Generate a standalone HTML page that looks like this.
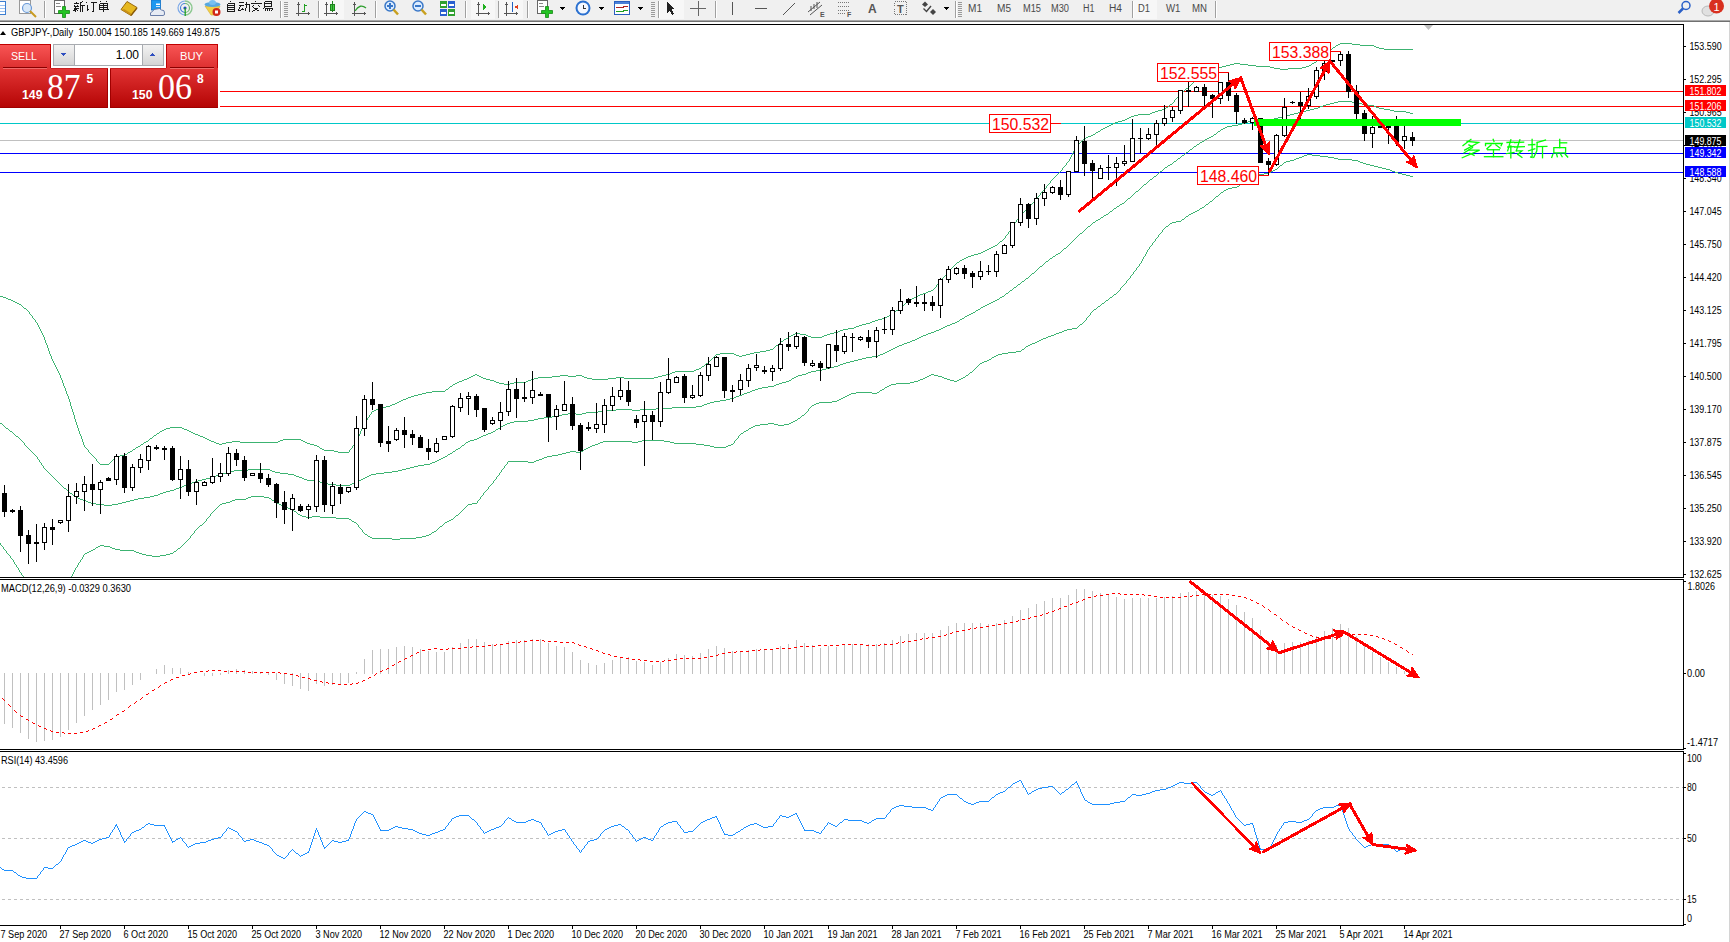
<!DOCTYPE html>
<html><head><meta charset="utf-8"><style>
html,body{margin:0;padding:0;background:#fff;width:1730px;height:942px;overflow:hidden}
</style></head><body>
<svg width="1730" height="942" viewBox="0 0 1730 942" shape-rendering="crispEdges" style="display:block"><rect x="0" y="0" width="1730" height="942" fill="#ffffff"/><defs><clipPath id="cmain"><rect x="0" y="25" width="1683" height="552"/></clipPath><clipPath id="cmacd"><rect x="0" y="580" width="1683" height="169"/></clipPath><clipPath id="crsi"><rect x="0" y="752" width="1683" height="173"/></clipPath></defs><rect x="0" y="91" width="1683" height="1" fill="#ff0000"/><rect x="0" y="106" width="1683" height="1" fill="#ff0000"/><rect x="0" y="123" width="1683" height="1" fill="#00c8c8"/><rect x="0" y="140" width="1683" height="1" fill="#c0c0c0"/><rect x="0" y="153" width="1683" height="1" fill="#0000ff"/><rect x="0" y="172" width="1683" height="1" fill="#0000ff"/><g clip-path="url(#cmain)"><path d="M1340 43h12v1h-12zM1338 44h2v1h-2zM1352 44h8v1h-8zM1336 45h2v1h-2zM1360 45h14v1h-14zM1335 46h1v1h-1zM1374 46h2v1h-2zM1333 47h2v1h-2zM1376 47h3v1h-3zM1332 48h1v1h-1zM1379 48h5v1h-5zM1330 49h2v1h-2zM1384 49h29v1h-29zM1329 50h1v1h-1zM1328 51h1v1h-1zM1326 52h2v1h-2zM1325 53h1v1h-1zM1324 54h1v1h-1zM1323 55h1v1h-1zM1322 56h1v1h-1zM1320 57h2v1h-2zM1319 58h1v1h-1zM1318 59h1v1h-1zM1317 60h1v1h-1zM1316 61h1v1h-1zM1314 62h2v1h-2zM1234 63h6v1h-6zM1312 63h2v1h-2zM1230 64h4v1h-4zM1240 64h8v1h-8zM1311 64h1v1h-1zM1226 65h4v1h-4zM1248 65h8v1h-8zM1309 65h2v1h-2zM1222 66h4v1h-4zM1256 66h14v1h-14zM1306 66h3v1h-3zM1219 67h3v1h-3zM1270 67h4v1h-4zM1302 67h4v1h-4zM1217 68h2v1h-2zM1274 68h6v1h-6zM1288 68h14v1h-14zM1215 69h2v1h-2zM1280 69h8v1h-8zM1213 70h2v1h-2zM1211 71h2v1h-2zM1209 72h2v1h-2zM1207 73h2v1h-2zM1205 74h2v1h-2zM1203 75h2v1h-2zM1201 76h2v1h-2zM1199 77h2v1h-2zM1197 78h2v1h-2zM1196 79h1v1h-1zM1195 80h1v1h-1zM1194 81h1v1h-1zM1193 82h1v1h-1zM1192 83h1v1h-1zM1191 84h1v1h-1zM1190 85h1v1h-1zM1189 86h1v1h-1zM1188 87h1v1h-1zM1186 88h2v1h-2zM1185 89h1v1h-1zM1184 90h1v1h-1zM1182 91h2v1h-2zM1181 92h1v1h-1zM1180 93h1v1h-1zM1179 94h1v1h-1zM1178 95h1v1h-1zM1178 96h1v1h-1zM1177 97h1v1h-1zM1176 98h1v1h-1zM1175 99h1v1h-1zM1174 100h1v1h-1zM1174 101h1v1h-1zM1173 102h1v1h-1zM1172 103h1v1h-1zM1170 104h2v1h-2zM1169 105h1v1h-1zM1168 106h1v1h-1zM1166 107h2v1h-2zM1165 108h1v1h-1zM1162 109h3v1h-3zM1158 110h4v1h-4zM1155 111h3v1h-3zM1152 112h3v1h-3zM1150 113h2v1h-2zM1138 114h12v1h-12zM1134 115h4v1h-4zM1131 116h3v1h-3zM1129 117h2v1h-2zM1127 118h2v1h-2zM1125 119h2v1h-2zM1122 120h3v1h-3zM1118 121h4v1h-4zM1115 122h3v1h-3zM1113 123h2v1h-2zM1111 124h2v1h-2zM1109 125h2v1h-2zM1107 126h2v1h-2zM1105 127h2v1h-2zM1103 128h2v1h-2zM1101 129h2v1h-2zM1100 130h1v1h-1zM1098 131h2v1h-2zM1096 132h2v1h-2zM1095 133h1v1h-1zM1093 134h2v1h-2zM1091 135h2v1h-2zM1088 136h3v1h-3zM1086 137h2v1h-2zM1084 138h2v1h-2zM1083 139h1v1h-1zM1082 140h1v1h-1zM1081 141h1v1h-1zM1080 142h1v1h-1zM1079 143h1v1h-1zM1078 144h1v1h-1zM1077 145h1v1h-1zM1076 146h1v1h-1zM1075 147h1v1h-1zM1075 148h1v1h-1zM1074 149h1v1h-1zM1074 150h1v1h-1zM1073 151h1v1h-1zM1073 152h1v1h-1zM1072 153h1v1h-1zM1072 154h1v1h-1zM1071 155h1v1h-1zM1071 156h1v1h-1zM1070 157h1v1h-1zM1070 158h1v1h-1zM1069 159h1v1h-1zM1069 160h1v1h-1zM1068 161h1v1h-1zM1067 162h1v1h-1zM1066 163h1v1h-1zM1066 164h1v1h-1zM1065 165h1v1h-1zM1064 166h1v1h-1zM1063 167h1v1h-1zM1062 168h1v1h-1zM1062 169h1v1h-1zM1061 170h1v1h-1zM1060 171h1v1h-1zM1059 172h1v1h-1zM1058 173h1v1h-1zM1057 174h1v1h-1zM1056 175h1v1h-1zM1055 176h1v1h-1zM1054 177h1v1h-1zM1053 178h1v1h-1zM1052 179h1v1h-1zM1051 180h1v1h-1zM1050 181h1v1h-1zM1050 182h1v1h-1zM1049 183h1v1h-1zM1048 184h1v1h-1zM1047 185h1v1h-1zM1046 186h1v1h-1zM1046 187h1v1h-1zM1045 188h1v1h-1zM1044 189h1v1h-1zM1043 190h1v1h-1zM1042 191h1v1h-1zM1041 192h1v1h-1zM1040 193h1v1h-1zM1040 194h1v1h-1zM1039 195h1v1h-1zM1038 196h1v1h-1zM1037 197h1v1h-1zM1036 198h1v1h-1zM1035 199h1v1h-1zM1034 200h1v1h-1zM1034 201h1v1h-1zM1033 202h1v1h-1zM1032 203h1v1h-1zM1031 204h1v1h-1zM1030 205h1v1h-1zM1030 206h1v1h-1zM1029 207h1v1h-1zM1028 208h1v1h-1zM1026 209h2v1h-2zM1025 210h1v1h-1zM1024 211h1v1h-1zM1022 212h2v1h-2zM1021 213h1v1h-1zM1020 214h1v1h-1zM1019 215h1v1h-1zM1019 216h1v1h-1zM1018 217h1v1h-1zM1018 218h1v1h-1zM1017 219h1v1h-1zM1016 220h1v1h-1zM1016 221h1v1h-1zM1015 222h1v1h-1zM1014 223h1v1h-1zM1014 224h1v1h-1zM1013 225h1v1h-1zM1013 226h1v1h-1zM1012 227h1v1h-1zM1011 228h1v1h-1zM1011 229h1v1h-1zM1010 230h1v1h-1zM1009 231h1v1h-1zM1008 232h1v1h-1zM1008 233h1v1h-1zM1007 234h1v1h-1zM1006 235h1v1h-1zM1005 236h1v1h-1zM1005 237h1v1h-1zM1004 238h1v1h-1zM1003 239h1v1h-1zM1002 240h1v1h-1zM1000 241h2v1h-2zM999 242h1v1h-1zM998 243h1v1h-1zM997 244h1v1h-1zM995 245h2v1h-2zM993 246h2v1h-2zM991 247h2v1h-2zM989 248h2v1h-2zM987 249h2v1h-2zM985 250h2v1h-2zM983 251h2v1h-2zM981 252h2v1h-2zM978 253h3v1h-3zM974 254h4v1h-4zM971 255h3v1h-3zM968 256h3v1h-3zM966 257h2v1h-2zM964 258h2v1h-2zM962 259h2v1h-2zM960 260h2v1h-2zM959 261h1v1h-1zM957 262h2v1h-2zM956 263h1v1h-1zM955 264h1v1h-1zM954 265h1v1h-1zM953 266h1v1h-1zM952 267h1v1h-1zM951 268h1v1h-1zM950 269h1v1h-1zM949 270h1v1h-1zM948 271h1v1h-1zM947 272h1v1h-1zM946 273h1v1h-1zM946 274h1v1h-1zM945 275h1v1h-1zM944 276h1v1h-1zM943 277h1v1h-1zM942 278h1v1h-1zM942 279h1v1h-1zM941 280h1v1h-1zM940 281h1v1h-1zM939 282h1v1h-1zM938 283h1v1h-1zM937 284h1v1h-1zM936 285h1v1h-1zM936 286h1v1h-1zM935 287h1v1h-1zM934 288h1v1h-1zM933 289h1v1h-1zM931 290h2v1h-2zM928 291h3v1h-3zM926 292h2v1h-2zM923 293h3v1h-3zM920 294h3v1h-3zM918 295h2v1h-2zM0 296h3v1h-3zM916 296h2v1h-2zM3 297h3v1h-3zM914 297h2v1h-2zM6 298h2v1h-2zM912 298h2v1h-2zM8 299h3v1h-3zM911 299h1v1h-1zM11 300h2v1h-2zM909 300h2v1h-2zM13 301h2v1h-2zM908 301h1v1h-1zM15 302h2v1h-2zM906 302h2v1h-2zM17 303h2v1h-2zM905 303h1v1h-1zM19 304h2v1h-2zM904 304h1v1h-1zM21 305h1v1h-1zM902 305h2v1h-2zM22 306h1v1h-1zM901 306h1v1h-1zM23 307h1v1h-1zM900 307h1v1h-1zM24 308h2v1h-2zM899 308h1v1h-1zM26 309h1v1h-1zM898 309h1v1h-1zM27 310h1v1h-1zM896 310h2v1h-2zM28 311h1v1h-1zM895 311h1v1h-1zM29 312h1v1h-1zM894 312h1v1h-1zM29 313h1v1h-1zM893 313h1v1h-1zM30 314h1v1h-1zM891 314h2v1h-2zM31 315h1v1h-1zM889 315h2v1h-2zM32 316h1v1h-1zM887 316h2v1h-2zM32 317h1v1h-1zM885 317h2v1h-2zM33 318h1v1h-1zM882 318h3v1h-3zM34 319h1v1h-1zM878 319h4v1h-4zM35 320h1v1h-1zM875 320h3v1h-3zM35 321h1v1h-1zM872 321h3v1h-3zM36 322h1v1h-1zM870 322h2v1h-2zM37 323h1v1h-1zM866 323h4v1h-4zM37 324h1v1h-1zM862 324h4v1h-4zM38 325h1v1h-1zM859 325h3v1h-3zM38 326h1v1h-1zM856 326h3v1h-3zM39 327h1v1h-1zM854 327h2v1h-2zM39 328h1v1h-1zM848 328h6v1h-6zM40 329h1v1h-1zM843 329h5v1h-5zM40 330h1v1h-1zM840 330h3v1h-3zM41 331h1v1h-1zM838 331h2v1h-2zM41 332h1v1h-1zM834 332h4v1h-4zM42 333h1v1h-1zM795 333h5v1h-5zM830 333h4v1h-4zM42 334h1v1h-1zM793 334h2v1h-2zM800 334h6v1h-6zM827 334h3v1h-3zM43 335h1v1h-1zM791 335h2v1h-2zM806 335h2v1h-2zM824 335h3v1h-3zM43 336h1v1h-1zM789 336h2v1h-2zM808 336h3v1h-3zM822 336h2v1h-2zM44 337h1v1h-1zM788 337h1v1h-1zM811 337h11v1h-11zM44 338h1v1h-1zM786 338h2v1h-2zM44 339h1v1h-1zM784 339h2v1h-2zM45 340h1v1h-1zM783 340h1v1h-1zM45 341h1v1h-1zM781 341h2v1h-2zM45 342h1v1h-1zM780 342h1v1h-1zM46 343h1v1h-1zM779 343h1v1h-1zM46 344h1v1h-1zM778 344h1v1h-1zM47 345h1v1h-1zM776 345h2v1h-2zM47 346h1v1h-1zM775 346h1v1h-1zM47 347h1v1h-1zM774 347h1v1h-1zM48 348h1v1h-1zM773 348h1v1h-1zM48 349h1v1h-1zM770 349h3v1h-3zM48 350h1v1h-1zM766 350h4v1h-4zM49 351h1v1h-1zM760 351h6v1h-6zM49 352h1v1h-1zM754 352h6v1h-6zM49 353h1v1h-1zM720 353h14v1h-14zM750 353h4v1h-4zM50 354h1v1h-1zM716 354h4v1h-4zM734 354h2v1h-2zM746 354h4v1h-4zM50 355h1v1h-1zM715 355h1v1h-1zM736 355h3v1h-3zM742 355h4v1h-4zM51 356h1v1h-1zM714 356h1v1h-1zM739 356h3v1h-3zM51 357h1v1h-1zM713 357h1v1h-1zM51 358h1v1h-1zM712 358h1v1h-1zM52 359h1v1h-1zM711 359h1v1h-1zM52 360h1v1h-1zM710 360h1v1h-1zM53 361h1v1h-1zM709 361h1v1h-1zM53 362h1v1h-1zM708 362h1v1h-1zM54 363h1v1h-1zM706 363h2v1h-2zM54 364h1v1h-1zM705 364h1v1h-1zM55 365h1v1h-1zM704 365h1v1h-1zM55 366h1v1h-1zM702 366h2v1h-2zM56 367h1v1h-1zM701 367h1v1h-1zM56 368h1v1h-1zM699 368h2v1h-2zM57 369h1v1h-1zM696 369h3v1h-3zM57 370h1v1h-1zM694 370h2v1h-2zM58 371h1v1h-1zM675 371h19v1h-19zM58 372h1v1h-1zM672 372h3v1h-3zM59 373h1v1h-1zM670 373h2v1h-2zM59 374h1v1h-1zM475 374h2v1h-2zM666 374h4v1h-4zM60 375h1v1h-1zM473 375h2v1h-2zM477 375h2v1h-2zM560 375h8v1h-8zM576 375h6v1h-6zM662 375h4v1h-4zM60 376h1v1h-1zM471 376h2v1h-2zM479 376h2v1h-2zM552 376h8v1h-8zM568 376h8v1h-8zM582 376h2v1h-2zM658 376h4v1h-4zM60 377h1v1h-1zM469 377h2v1h-2zM481 377h2v1h-2zM538 377h14v1h-14zM584 377h3v1h-3zM616 377h8v1h-8zM654 377h4v1h-4zM61 378h1v1h-1zM467 378h2v1h-2zM483 378h3v1h-3zM534 378h4v1h-4zM587 378h5v1h-5zM608 378h8v1h-8zM624 378h30v1h-30zM61 379h1v1h-1zM464 379h3v1h-3zM486 379h4v1h-4zM531 379h3v1h-3zM592 379h16v1h-16zM62 380h1v1h-1zM462 380h2v1h-2zM490 380h4v1h-4zM528 380h3v1h-3zM62 381h1v1h-1zM459 381h3v1h-3zM494 381h2v1h-2zM526 381h2v1h-2zM62 382h1v1h-1zM457 382h2v1h-2zM496 382h3v1h-3zM514 382h12v1h-12zM63 383h1v1h-1zM455 383h2v1h-2zM499 383h5v1h-5zM510 383h4v1h-4zM63 384h1v1h-1zM453 384h2v1h-2zM504 384h6v1h-6zM63 385h1v1h-1zM452 385h1v1h-1zM64 386h1v1h-1zM450 386h2v1h-2zM64 387h1v1h-1zM449 387h1v1h-1zM65 388h1v1h-1zM448 388h1v1h-1zM65 389h1v1h-1zM446 389h2v1h-2zM65 390h1v1h-1zM445 390h1v1h-1zM66 391h1v1h-1zM432 391h13v1h-13zM66 392h1v1h-1zM426 392h6v1h-6zM66 393h1v1h-1zM422 393h4v1h-4zM67 394h1v1h-1zM418 394h4v1h-4zM67 395h1v1h-1zM414 395h4v1h-4zM68 396h1v1h-1zM411 396h3v1h-3zM68 397h1v1h-1zM408 397h3v1h-3zM68 398h1v1h-1zM406 398h2v1h-2zM69 399h1v1h-1zM403 399h3v1h-3zM69 400h1v1h-1zM401 400h2v1h-2zM69 401h1v1h-1zM399 401h2v1h-2zM70 402h1v1h-1zM397 402h2v1h-2zM70 403h1v1h-1zM395 403h2v1h-2zM70 404h1v1h-1zM392 404h3v1h-3zM70 405h1v1h-1zM390 405h2v1h-2zM71 406h1v1h-1zM386 406h4v1h-4zM71 407h1v1h-1zM382 407h4v1h-4zM71 408h1v1h-1zM379 408h3v1h-3zM72 409h1v1h-1zM376 409h3v1h-3zM72 410h1v1h-1zM374 410h2v1h-2zM72 411h1v1h-1zM372 411h2v1h-2zM73 412h1v1h-1zM371 412h1v1h-1zM73 413h1v1h-1zM371 413h1v1h-1zM73 414h1v1h-1zM370 414h1v1h-1zM74 415h1v1h-1zM369 415h1v1h-1zM74 416h1v1h-1zM369 416h1v1h-1zM74 417h1v1h-1zM368 417h1v1h-1zM74 418h1v1h-1zM367 418h1v1h-1zM75 419h1v1h-1zM367 419h1v1h-1zM75 420h1v1h-1zM366 420h1v1h-1zM75 421h1v1h-1zM365 421h1v1h-1zM76 422h1v1h-1zM365 422h1v1h-1zM76 423h1v1h-1zM364 423h1v1h-1zM76 424h1v1h-1zM364 424h1v1h-1zM77 425h1v1h-1zM363 425h1v1h-1zM77 426h1v1h-1zM363 426h1v1h-1zM77 427h1v1h-1zM170 427h12v1h-12zM362 427h1v1h-1zM78 428h1v1h-1zM166 428h4v1h-4zM182 428h2v1h-2zM362 428h1v1h-1zM78 429h1v1h-1zM164 429h2v1h-2zM184 429h3v1h-3zM361 429h1v1h-1zM78 430h1v1h-1zM162 430h2v1h-2zM187 430h2v1h-2zM361 430h1v1h-1zM79 431h1v1h-1zM160 431h2v1h-2zM189 431h2v1h-2zM360 431h1v1h-1zM79 432h1v1h-1zM159 432h1v1h-1zM191 432h2v1h-2zM360 432h1v1h-1zM79 433h1v1h-1zM157 433h2v1h-2zM193 433h2v1h-2zM360 433h1v1h-1zM80 434h1v1h-1zM156 434h1v1h-1zM195 434h3v1h-3zM359 434h1v1h-1zM80 435h1v1h-1zM154 435h2v1h-2zM198 435h2v1h-2zM359 435h1v1h-1zM81 436h1v1h-1zM153 436h1v1h-1zM200 436h3v1h-3zM358 436h1v1h-1zM81 437h1v1h-1zM152 437h1v1h-1zM203 437h2v1h-2zM358 437h1v1h-1zM81 438h1v1h-1zM150 438h2v1h-2zM205 438h2v1h-2zM357 438h1v1h-1zM82 439h1v1h-1zM149 439h1v1h-1zM207 439h2v1h-2zM283 439h18v1h-18zM357 439h1v1h-1zM82 440h1v1h-1zM148 440h1v1h-1zM209 440h2v1h-2zM280 440h3v1h-3zM301 440h2v1h-2zM356 440h1v1h-1zM82 441h1v1h-1zM146 441h2v1h-2zM211 441h3v1h-3zM232 441h8v1h-8zM278 441h2v1h-2zM303 441h2v1h-2zM356 441h1v1h-1zM83 442h1v1h-1zM144 442h2v1h-2zM214 442h2v1h-2zM226 442h6v1h-6zM240 442h38v1h-38zM305 442h2v1h-2zM355 442h1v1h-1zM83 443h1v1h-1zM143 443h1v1h-1zM216 443h3v1h-3zM222 443h4v1h-4zM307 443h3v1h-3zM355 443h1v1h-1zM83 444h1v1h-1zM141 444h2v1h-2zM219 444h3v1h-3zM310 444h4v1h-4zM354 444h1v1h-1zM84 445h1v1h-1zM140 445h1v1h-1zM314 445h3v1h-3zM353 445h1v1h-1zM84 446h1v1h-1zM138 446h2v1h-2zM317 446h2v1h-2zM352 446h1v1h-1zM85 447h1v1h-1zM136 447h2v1h-2zM319 447h1v1h-1zM352 447h1v1h-1zM86 448h1v1h-1zM135 448h1v1h-1zM320 448h2v1h-2zM351 448h1v1h-1zM87 449h1v1h-1zM133 449h2v1h-2zM322 449h2v1h-2zM350 449h1v1h-1zM88 450h1v1h-1zM132 450h1v1h-1zM324 450h10v1h-10zM349 450h1v1h-1zM88 451h1v1h-1zM130 451h2v1h-2zM334 451h4v1h-4zM349 451h1v1h-1zM89 452h1v1h-1zM128 452h2v1h-2zM338 452h11v1h-11zM90 453h1v1h-1zM127 453h1v1h-1zM91 454h1v1h-1zM125 454h2v1h-2zM92 455h1v1h-1zM120 455h5v1h-5zM93 456h1v1h-1zM116 456h4v1h-4zM94 457h1v1h-1zM115 457h1v1h-1zM95 458h1v1h-1zM114 458h1v1h-1zM96 459h1v1h-1zM113 459h1v1h-1zM96 460h1v1h-1zM112 460h1v1h-1zM97 461h1v1h-1zM111 461h1v1h-1zM98 462h1v1h-1zM110 462h1v1h-1zM99 463h1v1h-1zM109 463h1v1h-1zM100 464h9v1h-9z" fill="#3cb371"/><path d="M1338 101h14v1h-14zM1334 102h4v1h-4zM1352 102h6v1h-6zM1330 103h4v1h-4zM1358 103h4v1h-4zM1326 104h4v1h-4zM1362 104h6v1h-6zM1323 105h3v1h-3zM1368 105h6v1h-6zM1320 106h3v1h-3zM1374 106h2v1h-2zM1318 107h2v1h-2zM1376 107h3v1h-3zM1314 108h4v1h-4zM1379 108h5v1h-5zM1310 109h4v1h-4zM1384 109h6v1h-6zM1306 110h4v1h-4zM1390 110h4v1h-4zM1302 111h4v1h-4zM1394 111h12v1h-12zM1298 112h4v1h-4zM1406 112h4v1h-4zM1294 113h4v1h-4zM1410 113h3v1h-3zM1290 114h4v1h-4zM1286 115h4v1h-4zM1282 116h4v1h-4zM1278 117h4v1h-4zM1274 118h4v1h-4zM1270 119h4v1h-4zM1251 120h19v1h-19zM1248 121h3v1h-3zM1246 122h2v1h-2zM1242 123h4v1h-4zM1238 124h4v1h-4zM1232 125h6v1h-6zM1227 126h5v1h-5zM1225 127h2v1h-2zM1223 128h2v1h-2zM1221 129h2v1h-2zM1220 130h1v1h-1zM1218 131h2v1h-2zM1217 132h1v1h-1zM1216 133h1v1h-1zM1214 134h2v1h-2zM1213 135h1v1h-1zM1211 136h2v1h-2zM1209 137h2v1h-2zM1207 138h2v1h-2zM1205 139h2v1h-2zM1204 140h1v1h-1zM1202 141h2v1h-2zM1200 142h2v1h-2zM1199 143h1v1h-1zM1197 144h2v1h-2zM1196 145h1v1h-1zM1194 146h2v1h-2zM1193 147h1v1h-1zM1192 148h1v1h-1zM1190 149h2v1h-2zM1189 150h1v1h-1zM1188 151h1v1h-1zM1186 152h2v1h-2zM1185 153h1v1h-1zM1184 154h1v1h-1zM1182 155h2v1h-2zM1181 156h1v1h-1zM1180 157h1v1h-1zM1178 158h2v1h-2zM1177 159h1v1h-1zM1176 160h1v1h-1zM1174 161h2v1h-2zM1173 162h1v1h-1zM1172 163h1v1h-1zM1170 164h2v1h-2zM1168 165h2v1h-2zM1167 166h1v1h-1zM1165 167h2v1h-2zM1164 168h1v1h-1zM1163 169h1v1h-1zM1162 170h1v1h-1zM1160 171h2v1h-2zM1159 172h1v1h-1zM1158 173h1v1h-1zM1157 174h1v1h-1zM1156 175h1v1h-1zM1154 176h2v1h-2zM1153 177h1v1h-1zM1152 178h1v1h-1zM1150 179h2v1h-2zM1149 180h1v1h-1zM1148 181h1v1h-1zM1147 182h1v1h-1zM1146 183h1v1h-1zM1144 184h2v1h-2zM1143 185h1v1h-1zM1142 186h1v1h-1zM1141 187h1v1h-1zM1140 188h1v1h-1zM1139 189h1v1h-1zM1138 190h1v1h-1zM1136 191h2v1h-2zM1135 192h1v1h-1zM1134 193h1v1h-1zM1133 194h1v1h-1zM1132 195h1v1h-1zM1131 196h1v1h-1zM1130 197h1v1h-1zM1128 198h2v1h-2zM1127 199h1v1h-1zM1126 200h1v1h-1zM1125 201h1v1h-1zM1124 202h1v1h-1zM1122 203h2v1h-2zM1120 204h2v1h-2zM1119 205h1v1h-1zM1117 206h2v1h-2zM1116 207h1v1h-1zM1114 208h2v1h-2zM1113 209h1v1h-1zM1112 210h1v1h-1zM1110 211h2v1h-2zM1109 212h1v1h-1zM1108 213h1v1h-1zM1106 214h2v1h-2zM1104 215h2v1h-2zM1103 216h1v1h-1zM1101 217h2v1h-2zM1100 218h1v1h-1zM1098 219h2v1h-2zM1096 220h2v1h-2zM1095 221h1v1h-1zM1093 222h2v1h-2zM1092 223h1v1h-1zM1091 224h1v1h-1zM1090 225h1v1h-1zM1088 226h2v1h-2zM1087 227h1v1h-1zM1086 228h1v1h-1zM1085 229h1v1h-1zM1084 230h1v1h-1zM1083 231h1v1h-1zM1082 232h1v1h-1zM1080 233h2v1h-2zM1079 234h1v1h-1zM1078 235h1v1h-1zM1077 236h1v1h-1zM1076 237h1v1h-1zM1075 238h1v1h-1zM1074 239h1v1h-1zM1073 240h1v1h-1zM1072 241h1v1h-1zM1071 242h1v1h-1zM1070 243h1v1h-1zM1069 244h1v1h-1zM1068 245h1v1h-1zM1067 246h1v1h-1zM1066 247h1v1h-1zM1064 248h2v1h-2zM1063 249h1v1h-1zM1062 250h1v1h-1zM1061 251h1v1h-1zM1060 252h1v1h-1zM1058 253h2v1h-2zM1056 254h2v1h-2zM1055 255h1v1h-1zM1053 256h2v1h-2zM1052 257h1v1h-1zM1050 258h2v1h-2zM1049 259h1v1h-1zM1048 260h1v1h-1zM1046 261h2v1h-2zM1045 262h1v1h-1zM1044 263h1v1h-1zM1043 264h1v1h-1zM1042 265h1v1h-1zM1040 266h2v1h-2zM1039 267h1v1h-1zM1038 268h1v1h-1zM1037 269h1v1h-1zM1036 270h1v1h-1zM1035 271h1v1h-1zM1034 272h1v1h-1zM1032 273h2v1h-2zM1031 274h1v1h-1zM1030 275h1v1h-1zM1029 276h1v1h-1zM1028 277h1v1h-1zM1026 278h2v1h-2zM1025 279h1v1h-1zM1024 280h1v1h-1zM1022 281h2v1h-2zM1021 282h1v1h-1zM1020 283h1v1h-1zM1018 284h2v1h-2zM1017 285h1v1h-1zM1016 286h1v1h-1zM1014 287h2v1h-2zM1013 288h1v1h-1zM1012 289h1v1h-1zM1010 290h2v1h-2zM1009 291h1v1h-1zM1008 292h1v1h-1zM1006 293h2v1h-2zM1005 294h1v1h-1zM1004 295h1v1h-1zM1002 296h2v1h-2zM1000 297h2v1h-2zM999 298h1v1h-1zM997 299h2v1h-2zM995 300h2v1h-2zM993 301h2v1h-2zM991 302h2v1h-2zM989 303h2v1h-2zM987 304h2v1h-2zM985 305h2v1h-2zM983 306h2v1h-2zM981 307h2v1h-2zM980 308h1v1h-1zM978 309h2v1h-2zM976 310h2v1h-2zM975 311h1v1h-1zM973 312h2v1h-2zM971 313h2v1h-2zM969 314h2v1h-2zM967 315h2v1h-2zM965 316h2v1h-2zM964 317h1v1h-1zM962 318h2v1h-2zM960 319h2v1h-2zM959 320h1v1h-1zM957 321h2v1h-2zM955 322h2v1h-2zM952 323h3v1h-3zM950 324h2v1h-2zM947 325h3v1h-3zM945 326h2v1h-2zM943 327h2v1h-2zM941 328h2v1h-2zM939 329h2v1h-2zM936 330h3v1h-3zM934 331h2v1h-2zM931 332h3v1h-3zM928 333h3v1h-3zM926 334h2v1h-2zM923 335h3v1h-3zM921 336h2v1h-2zM919 337h2v1h-2zM917 338h2v1h-2zM915 339h2v1h-2zM912 340h3v1h-3zM910 341h2v1h-2zM907 342h3v1h-3zM904 343h3v1h-3zM902 344h2v1h-2zM899 345h3v1h-3zM897 346h2v1h-2zM895 347h2v1h-2zM893 348h2v1h-2zM891 349h2v1h-2zM889 350h2v1h-2zM887 351h2v1h-2zM885 352h2v1h-2zM883 353h2v1h-2zM880 354h3v1h-3zM878 355h2v1h-2zM872 356h6v1h-6zM866 357h6v1h-6zM862 358h4v1h-4zM858 359h4v1h-4zM854 360h4v1h-4zM850 361h4v1h-4zM846 362h4v1h-4zM843 363h3v1h-3zM840 364h3v1h-3zM838 365h2v1h-2zM834 366h4v1h-4zM830 367h4v1h-4zM826 368h4v1h-4zM822 369h4v1h-4zM816 370h6v1h-6zM811 371h5v1h-5zM808 372h3v1h-3zM806 373h2v1h-2zM802 374h4v1h-4zM798 375h4v1h-4zM796 376h2v1h-2zM794 377h2v1h-2zM792 378h2v1h-2zM791 379h1v1h-1zM789 380h2v1h-2zM786 381h3v1h-3zM782 382h4v1h-4zM779 383h3v1h-3zM776 384h3v1h-3zM774 385h2v1h-2zM768 386h6v1h-6zM762 387h6v1h-6zM758 388h4v1h-4zM755 389h3v1h-3zM752 390h3v1h-3zM750 391h2v1h-2zM747 392h3v1h-3zM744 393h3v1h-3zM742 394h2v1h-2zM739 395h3v1h-3zM736 396h3v1h-3zM734 397h2v1h-2zM730 398h4v1h-4zM726 399h4v1h-4zM720 400h6v1h-6zM714 401h6v1h-6zM710 402h4v1h-4zM707 403h3v1h-3zM704 404h3v1h-3zM702 405h2v1h-2zM696 406h6v1h-6zM672 407h24v1h-24zM656 408h16v1h-16zM616 409h16v1h-16zM640 409h16v1h-16zM602 410h14v1h-14zM632 410h8v1h-8zM598 411h4v1h-4zM586 412h12v1h-12zM568 413h8v1h-8zM582 413h4v1h-4zM562 414h6v1h-6zM576 414h6v1h-6zM558 415h4v1h-4zM552 416h6v1h-6zM544 417h8v1h-8zM538 418h6v1h-6zM534 419h4v1h-4zM528 420h6v1h-6zM514 421h14v1h-14zM510 422h4v1h-4zM0 423h2v1h-2zM507 423h3v1h-3zM2 424h1v1h-1zM505 424h2v1h-2zM3 425h1v1h-1zM503 425h2v1h-2zM4 426h1v1h-1zM501 426h2v1h-2zM5 427h1v1h-1zM500 427h1v1h-1zM6 428h2v1h-2zM498 428h2v1h-2zM8 429h1v1h-1zM496 429h2v1h-2zM9 430h1v1h-1zM495 430h1v1h-1zM10 431h2v1h-2zM493 431h2v1h-2zM12 432h1v1h-1zM491 432h2v1h-2zM13 433h1v1h-1zM488 433h3v1h-3zM14 434h1v1h-1zM486 434h2v1h-2zM15 435h1v1h-1zM483 435h3v1h-3zM16 436h2v1h-2zM481 436h2v1h-2zM18 437h1v1h-1zM479 437h2v1h-2zM19 438h1v1h-1zM477 438h2v1h-2zM20 439h1v1h-1zM474 439h3v1h-3zM21 440h1v1h-1zM470 440h4v1h-4zM22 441h1v1h-1zM468 441h2v1h-2zM23 442h1v1h-1zM466 442h2v1h-2zM24 443h1v1h-1zM465 443h1v1h-1zM24 444h1v1h-1zM464 444h1v1h-1zM25 445h1v1h-1zM462 445h2v1h-2zM26 446h1v1h-1zM461 446h1v1h-1zM27 447h1v1h-1zM460 447h1v1h-1zM28 448h1v1h-1zM458 448h2v1h-2zM29 449h1v1h-1zM456 449h2v1h-2zM30 450h1v1h-1zM455 450h1v1h-1zM31 451h1v1h-1zM453 451h2v1h-2zM32 452h1v1h-1zM452 452h1v1h-1zM33 453h1v1h-1zM450 453h2v1h-2zM34 454h1v1h-1zM448 454h2v1h-2zM35 455h1v1h-1zM447 455h1v1h-1zM36 456h1v1h-1zM445 456h2v1h-2zM37 457h1v1h-1zM443 457h2v1h-2zM37 458h1v1h-1zM441 458h2v1h-2zM38 459h1v1h-1zM439 459h2v1h-2zM39 460h1v1h-1zM437 460h2v1h-2zM39 461h1v1h-1zM435 461h2v1h-2zM40 462h1v1h-1zM432 462h3v1h-3zM41 463h1v1h-1zM430 463h2v1h-2zM41 464h1v1h-1zM424 464h6v1h-6zM42 465h1v1h-1zM418 465h6v1h-6zM43 466h1v1h-1zM414 466h4v1h-4zM43 467h1v1h-1zM410 467h4v1h-4zM44 468h1v1h-1zM406 468h4v1h-4zM45 469h1v1h-1zM248 469h22v1h-22zM402 469h4v1h-4zM46 470h1v1h-1zM234 470h14v1h-14zM270 470h2v1h-2zM398 470h4v1h-4zM47 471h1v1h-1zM230 471h4v1h-4zM272 471h3v1h-3zM392 471h6v1h-6zM48 472h1v1h-1zM226 472h4v1h-4zM275 472h5v1h-5zM384 472h8v1h-8zM49 473h1v1h-1zM222 473h4v1h-4zM280 473h8v1h-8zM376 473h8v1h-8zM50 474h1v1h-1zM219 474h3v1h-3zM288 474h6v1h-6zM371 474h5v1h-5zM51 475h1v1h-1zM216 475h3v1h-3zM294 475h2v1h-2zM369 475h2v1h-2zM52 476h1v1h-1zM214 476h2v1h-2zM296 476h3v1h-3zM367 476h2v1h-2zM53 477h1v1h-1zM210 477h4v1h-4zM299 477h3v1h-3zM365 477h2v1h-2zM54 478h1v1h-1zM206 478h4v1h-4zM302 478h2v1h-2zM363 478h2v1h-2zM55 479h1v1h-1zM202 479h4v1h-4zM304 479h3v1h-3zM361 479h2v1h-2zM56 480h1v1h-1zM198 480h4v1h-4zM307 480h11v1h-11zM359 480h2v1h-2zM57 481h1v1h-1zM195 481h3v1h-3zM318 481h2v1h-2zM357 481h2v1h-2zM58 482h1v1h-1zM192 482h3v1h-3zM320 482h3v1h-3zM355 482h2v1h-2zM59 483h1v1h-1zM190 483h2v1h-2zM323 483h5v1h-5zM352 483h3v1h-3zM60 484h1v1h-1zM187 484h3v1h-3zM328 484h8v1h-8zM350 484h2v1h-2zM61 485h1v1h-1zM184 485h3v1h-3zM336 485h14v1h-14zM62 486h1v1h-1zM182 486h2v1h-2zM63 487h1v1h-1zM179 487h3v1h-3zM64 488h2v1h-2zM176 488h3v1h-3zM66 489h1v1h-1zM174 489h2v1h-2zM67 490h1v1h-1zM170 490h4v1h-4zM68 491h1v1h-1zM166 491h4v1h-4zM69 492h1v1h-1zM163 492h3v1h-3zM70 493h2v1h-2zM160 493h3v1h-3zM72 494h1v1h-1zM158 494h2v1h-2zM73 495h1v1h-1zM154 495h4v1h-4zM74 496h2v1h-2zM150 496h4v1h-4zM76 497h2v1h-2zM144 497h6v1h-6zM78 498h2v1h-2zM138 498h6v1h-6zM80 499h3v1h-3zM134 499h4v1h-4zM83 500h3v1h-3zM130 500h4v1h-4zM86 501h2v1h-2zM126 501h4v1h-4zM88 502h3v1h-3zM122 502h4v1h-4zM91 503h5v1h-5zM118 503h4v1h-4zM96 504h8v1h-8zM112 504h6v1h-6zM104 505h8v1h-8z" fill="#3cb371"/><path d="M1307 154h5v1h-5zM1304 155h3v1h-3zM1312 155h8v1h-8zM1302 156h2v1h-2zM1320 156h8v1h-8zM1299 157h3v1h-3zM1328 157h6v1h-6zM1296 158h3v1h-3zM1334 158h4v1h-4zM1294 159h2v1h-2zM1338 159h14v1h-14zM1290 160h4v1h-4zM1352 160h6v1h-6zM1286 161h4v1h-4zM1358 161h2v1h-2zM1284 162h2v1h-2zM1360 162h3v1h-3zM1283 163h1v1h-1zM1363 163h3v1h-3zM1282 164h1v1h-1zM1366 164h4v1h-4zM1280 165h2v1h-2zM1370 165h4v1h-4zM1279 166h1v1h-1zM1374 166h4v1h-4zM1278 167h1v1h-1zM1378 167h4v1h-4zM1277 168h1v1h-1zM1382 168h4v1h-4zM1275 169h2v1h-2zM1386 169h4v1h-4zM1273 170h2v1h-2zM1390 170h2v1h-2zM1271 171h2v1h-2zM1392 171h3v1h-3zM1269 172h2v1h-2zM1395 172h3v1h-3zM1264 173h5v1h-5zM1398 173h4v1h-4zM1256 174h8v1h-8zM1402 174h4v1h-4zM1252 175h4v1h-4zM1406 175h4v1h-4zM1251 176h1v1h-1zM1410 176h3v1h-3zM1250 177h1v1h-1zM1248 178h2v1h-2zM1247 179h1v1h-1zM1246 180h1v1h-1zM1245 181h1v1h-1zM1244 182h1v1h-1zM1242 183h2v1h-2zM1240 184h2v1h-2zM1239 185h1v1h-1zM1237 186h2v1h-2zM1232 187h5v1h-5zM1228 188h4v1h-4zM1226 189h2v1h-2zM1224 190h2v1h-2zM1223 191h1v1h-1zM1221 192h2v1h-2zM1220 193h1v1h-1zM1219 194h1v1h-1zM1218 195h1v1h-1zM1216 196h2v1h-2zM1215 197h1v1h-1zM1214 198h1v1h-1zM1213 199h1v1h-1zM1212 200h1v1h-1zM1210 201h2v1h-2zM1209 202h1v1h-1zM1208 203h1v1h-1zM1206 204h2v1h-2zM1205 205h1v1h-1zM1204 206h1v1h-1zM1202 207h2v1h-2zM1200 208h2v1h-2zM1199 209h1v1h-1zM1197 210h2v1h-2zM1195 211h2v1h-2zM1193 212h2v1h-2zM1191 213h2v1h-2zM1189 214h2v1h-2zM1188 215h1v1h-1zM1186 216h2v1h-2zM1185 217h1v1h-1zM1184 218h1v1h-1zM1182 219h2v1h-2zM1181 220h1v1h-1zM1176 221h5v1h-5zM1172 222h4v1h-4zM1170 223h2v1h-2zM1169 224h1v1h-1zM1168 225h1v1h-1zM1166 226h2v1h-2zM1165 227h1v1h-1zM1164 228h1v1h-1zM1163 229h1v1h-1zM1162 230h1v1h-1zM1162 231h1v1h-1zM1161 232h1v1h-1zM1160 233h1v1h-1zM1159 234h1v1h-1zM1158 235h1v1h-1zM1158 236h1v1h-1zM1157 237h1v1h-1zM1156 238h1v1h-1zM1155 239h1v1h-1zM1155 240h1v1h-1zM1154 241h1v1h-1zM1153 242h1v1h-1zM1152 243h1v1h-1zM1152 244h1v1h-1zM1151 245h1v1h-1zM1150 246h1v1h-1zM1149 247h1v1h-1zM1149 248h1v1h-1zM1148 249h1v1h-1zM1147 250h1v1h-1zM1147 251h1v1h-1zM1146 252h1v1h-1zM1146 253h1v1h-1zM1145 254h1v1h-1zM1145 255h1v1h-1zM1144 256h1v1h-1zM1143 257h1v1h-1zM1143 258h1v1h-1zM1142 259h1v1h-1zM1142 260h1v1h-1zM1141 261h1v1h-1zM1141 262h1v1h-1zM1140 263h1v1h-1zM1139 264h1v1h-1zM1139 265h1v1h-1zM1138 266h1v1h-1zM1137 267h1v1h-1zM1136 268h1v1h-1zM1136 269h1v1h-1zM1135 270h1v1h-1zM1134 271h1v1h-1zM1133 272h1v1h-1zM1133 273h1v1h-1zM1132 274h1v1h-1zM1131 275h1v1h-1zM1130 276h1v1h-1zM1130 277h1v1h-1zM1129 278h1v1h-1zM1128 279h1v1h-1zM1127 280h1v1h-1zM1126 281h1v1h-1zM1126 282h1v1h-1zM1125 283h1v1h-1zM1124 284h1v1h-1zM1123 285h1v1h-1zM1122 286h1v1h-1zM1121 287h1v1h-1zM1120 288h1v1h-1zM1120 289h1v1h-1zM1119 290h1v1h-1zM1118 291h1v1h-1zM1117 292h1v1h-1zM1116 293h1v1h-1zM1114 294h2v1h-2zM1113 295h1v1h-1zM1112 296h1v1h-1zM1110 297h2v1h-2zM1109 298h1v1h-1zM1108 299h1v1h-1zM1106 300h2v1h-2zM1105 301h1v1h-1zM1104 302h1v1h-1zM1102 303h2v1h-2zM1101 304h1v1h-1zM1100 305h1v1h-1zM1098 306h2v1h-2zM1097 307h1v1h-1zM1096 308h1v1h-1zM1094 309h2v1h-2zM1093 310h1v1h-1zM1092 311h1v1h-1zM1091 312h1v1h-1zM1090 313h1v1h-1zM1090 314h1v1h-1zM1089 315h1v1h-1zM1088 316h1v1h-1zM1087 317h1v1h-1zM1086 318h1v1h-1zM1086 319h1v1h-1zM1085 320h1v1h-1zM1084 321h1v1h-1zM1083 322h1v1h-1zM1082 323h1v1h-1zM1080 324h2v1h-2zM1079 325h1v1h-1zM1078 326h1v1h-1zM1077 327h1v1h-1zM1072 328h5v1h-5zM1067 329h5v1h-5zM1064 330h3v1h-3zM1062 331h2v1h-2zM1059 332h3v1h-3zM1056 333h3v1h-3zM1054 334h2v1h-2zM1051 335h3v1h-3zM1048 336h3v1h-3zM1046 337h2v1h-2zM1043 338h3v1h-3zM1041 339h2v1h-2zM1039 340h2v1h-2zM1037 341h2v1h-2zM1035 342h2v1h-2zM1032 343h3v1h-3zM1030 344h2v1h-2zM1028 345h2v1h-2zM1026 346h2v1h-2zM1025 347h1v1h-1zM1024 348h1v1h-1zM1022 349h2v1h-2zM1021 350h1v1h-1zM1016 351h5v1h-5zM1008 352h8v1h-8zM1002 353h6v1h-6zM998 354h4v1h-4zM996 355h2v1h-2zM994 356h2v1h-2zM992 357h2v1h-2zM991 358h1v1h-1zM989 359h2v1h-2zM987 360h2v1h-2zM984 361h3v1h-3zM982 362h2v1h-2zM980 363h2v1h-2zM979 364h1v1h-1zM978 365h1v1h-1zM977 366h1v1h-1zM976 367h1v1h-1zM975 368h1v1h-1zM974 369h1v1h-1zM973 370h1v1h-1zM972 371h1v1h-1zM970 372h2v1h-2zM969 373h1v1h-1zM931 374h3v1h-3zM968 374h1v1h-1zM929 375h2v1h-2zM934 375h4v1h-4zM966 375h2v1h-2zM927 376h2v1h-2zM938 376h4v1h-4zM965 376h1v1h-1zM925 377h2v1h-2zM942 377h2v1h-2zM963 377h2v1h-2zM923 378h2v1h-2zM944 378h3v1h-3zM961 378h2v1h-2zM920 379h3v1h-3zM947 379h3v1h-3zM959 379h2v1h-2zM918 380h2v1h-2zM950 380h4v1h-4zM957 380h2v1h-2zM914 381h4v1h-4zM954 381h3v1h-3zM910 382h4v1h-4zM896 383h14v1h-14zM891 384h5v1h-5zM889 385h2v1h-2zM887 386h2v1h-2zM885 387h2v1h-2zM884 388h1v1h-1zM882 389h2v1h-2zM880 390h2v1h-2zM879 391h1v1h-1zM856 392h16v1h-16zM877 392h2v1h-2zM851 393h5v1h-5zM872 393h5v1h-5zM849 394h2v1h-2zM847 395h2v1h-2zM845 396h2v1h-2zM843 397h2v1h-2zM841 398h2v1h-2zM839 399h2v1h-2zM837 400h2v1h-2zM832 401h5v1h-5zM819 402h13v1h-13zM816 403h3v1h-3zM814 404h2v1h-2zM812 405h2v1h-2zM811 406h1v1h-1zM810 407h1v1h-1zM809 408h1v1h-1zM808 409h1v1h-1zM808 410h1v1h-1zM807 411h1v1h-1zM806 412h1v1h-1zM805 413h1v1h-1zM804 414h1v1h-1zM802 415h2v1h-2zM801 416h1v1h-1zM800 417h1v1h-1zM798 418h2v1h-2zM797 419h1v1h-1zM795 420h2v1h-2zM793 421h2v1h-2zM791 422h2v1h-2zM768 423h6v1h-6zM789 423h2v1h-2zM760 424h8v1h-8zM774 424h4v1h-4zM784 424h5v1h-5zM755 425h5v1h-5zM778 425h6v1h-6zM753 426h2v1h-2zM751 427h2v1h-2zM749 428h2v1h-2zM748 429h1v1h-1zM746 430h2v1h-2zM744 431h2v1h-2zM743 432h1v1h-1zM741 433h2v1h-2zM740 434h1v1h-1zM739 435h1v1h-1zM738 436h1v1h-1zM738 437h1v1h-1zM737 438h1v1h-1zM736 439h1v1h-1zM642 440h22v1h-22zM735 440h1v1h-1zM603 441h29v1h-29zM638 441h4v1h-4zM664 441h6v1h-6zM734 441h1v1h-1zM600 442h3v1h-3zM632 442h6v1h-6zM670 442h4v1h-4zM734 442h1v1h-1zM598 443h2v1h-2zM674 443h22v1h-22zM733 443h1v1h-1zM595 444h3v1h-3zM696 444h8v1h-8zM731 444h2v1h-2zM592 445h3v1h-3zM704 445h6v1h-6zM728 445h3v1h-3zM590 446h2v1h-2zM710 446h4v1h-4zM726 446h2v1h-2zM588 447h2v1h-2zM714 447h12v1h-12zM586 448h2v1h-2zM584 449h2v1h-2zM583 450h1v1h-1zM570 451h6v1h-6zM581 451h2v1h-2zM566 452h4v1h-4zM576 452h5v1h-5zM562 453h4v1h-4zM558 454h4v1h-4zM552 455h6v1h-6zM547 456h5v1h-5zM544 457h3v1h-3zM542 458h2v1h-2zM539 459h3v1h-3zM536 460h3v1h-3zM508 461h20v1h-20zM534 461h2v1h-2zM507 462h1v1h-1zM528 462h6v1h-6zM507 463h1v1h-1zM506 464h1v1h-1zM505 465h1v1h-1zM504 466h1v1h-1zM504 467h1v1h-1zM503 468h1v1h-1zM502 469h1v1h-1zM501 470h1v1h-1zM501 471h1v1h-1zM500 472h1v1h-1zM499 473h1v1h-1zM499 474h1v1h-1zM498 475h1v1h-1zM497 476h1v1h-1zM496 477h1v1h-1zM496 478h1v1h-1zM495 479h1v1h-1zM494 480h1v1h-1zM493 481h1v1h-1zM493 482h1v1h-1zM492 483h1v1h-1zM491 484h1v1h-1zM490 485h1v1h-1zM489 486h1v1h-1zM488 487h1v1h-1zM488 488h1v1h-1zM487 489h1v1h-1zM486 490h1v1h-1zM485 491h1v1h-1zM484 492h1v1h-1zM483 493h1v1h-1zM483 494h1v1h-1zM482 495h1v1h-1zM251 496h13v1h-13zM481 496h1v1h-1zM248 497h3v1h-3zM264 497h5v1h-5zM480 497h1v1h-1zM246 498h2v1h-2zM269 498h2v1h-2zM480 498h1v1h-1zM235 499h11v1h-11zM271 499h1v1h-1zM479 499h1v1h-1zM232 500h3v1h-3zM272 500h2v1h-2zM478 500h1v1h-1zM230 501h2v1h-2zM274 501h2v1h-2zM477 501h1v1h-1zM226 502h4v1h-4zM276 502h1v1h-1zM477 502h1v1h-1zM222 503h4v1h-4zM277 503h2v1h-2zM472 503h5v1h-5zM220 504h2v1h-2zM279 504h2v1h-2zM468 504h4v1h-4zM219 505h1v1h-1zM281 505h2v1h-2zM467 505h1v1h-1zM218 506h1v1h-1zM283 506h3v1h-3zM466 506h1v1h-1zM217 507h1v1h-1zM286 507h2v1h-2zM465 507h1v1h-1zM216 508h1v1h-1zM288 508h3v1h-3zM464 508h1v1h-1zM215 509h1v1h-1zM291 509h2v1h-2zM463 509h1v1h-1zM214 510h1v1h-1zM293 510h1v1h-1zM462 510h1v1h-1zM213 511h1v1h-1zM294 511h2v1h-2zM461 511h1v1h-1zM212 512h1v1h-1zM296 512h1v1h-1zM460 512h1v1h-1zM211 513h1v1h-1zM297 513h1v1h-1zM459 513h1v1h-1zM210 514h1v1h-1zM298 514h2v1h-2zM458 514h1v1h-1zM210 515h1v1h-1zM300 515h2v1h-2zM456 515h2v1h-2zM209 516h1v1h-1zM302 516h4v1h-4zM312 516h8v1h-8zM455 516h1v1h-1zM208 517h1v1h-1zM306 517h6v1h-6zM320 517h16v1h-16zM454 517h1v1h-1zM207 518h1v1h-1zM336 518h13v1h-13zM453 518h1v1h-1zM206 519h1v1h-1zM349 519h2v1h-2zM451 519h2v1h-2zM206 520h1v1h-1zM351 520h1v1h-1zM449 520h2v1h-2zM205 521h1v1h-1zM352 521h2v1h-2zM447 521h2v1h-2zM204 522h1v1h-1zM354 522h2v1h-2zM445 522h2v1h-2zM203 523h1v1h-1zM356 523h1v1h-1zM444 523h1v1h-1zM202 524h1v1h-1zM357 524h1v1h-1zM443 524h1v1h-1zM200 525h2v1h-2zM358 525h1v1h-1zM442 525h1v1h-1zM199 526h1v1h-1zM358 526h1v1h-1zM440 526h2v1h-2zM198 527h1v1h-1zM359 527h1v1h-1zM439 527h1v1h-1zM197 528h1v1h-1zM360 528h1v1h-1zM438 528h1v1h-1zM196 529h1v1h-1zM361 529h1v1h-1zM437 529h1v1h-1zM195 530h1v1h-1zM362 530h1v1h-1zM436 530h1v1h-1zM194 531h1v1h-1zM362 531h1v1h-1zM434 531h2v1h-2zM194 532h1v1h-1zM363 532h1v1h-1zM432 532h2v1h-2zM193 533h1v1h-1zM364 533h1v1h-1zM431 533h1v1h-1zM192 534h1v1h-1zM365 534h2v1h-2zM429 534h2v1h-2zM191 535h1v1h-1zM367 535h1v1h-1zM426 535h3v1h-3zM190 536h1v1h-1zM368 536h2v1h-2zM422 536h4v1h-4zM190 537h1v1h-1zM370 537h2v1h-2zM416 537h6v1h-6zM189 538h1v1h-1zM372 538h20v1h-20zM400 538h16v1h-16zM188 539h1v1h-1zM392 539h8v1h-8zM187 540h1v1h-1zM186 541h1v1h-1zM185 542h1v1h-1zM0 543h1v1h-1zM184 543h1v1h-1zM0 544h1v1h-1zM183 544h1v1h-1zM1 545h1v1h-1zM100 545h4v1h-4zM182 545h1v1h-1zM2 546h1v1h-1zM98 546h2v1h-2zM104 546h6v1h-6zM181 546h1v1h-1zM3 547h1v1h-1zM96 547h2v1h-2zM110 547h2v1h-2zM180 547h1v1h-1zM3 548h1v1h-1zM95 548h1v1h-1zM112 548h3v1h-3zM178 548h2v1h-2zM4 549h1v1h-1zM93 549h2v1h-2zM115 549h5v1h-5zM177 549h1v1h-1zM5 550h1v1h-1zM91 550h2v1h-2zM120 550h14v1h-14zM176 550h1v1h-1zM6 551h1v1h-1zM89 551h2v1h-2zM134 551h2v1h-2zM174 551h2v1h-2zM6 552h1v1h-1zM87 552h2v1h-2zM136 552h3v1h-3zM173 552h1v1h-1zM7 553h1v1h-1zM85 553h2v1h-2zM139 553h3v1h-3zM170 553h3v1h-3zM8 554h1v1h-1zM84 554h1v1h-1zM142 554h4v1h-4zM166 554h4v1h-4zM9 555h1v1h-1zM83 555h1v1h-1zM146 555h6v1h-6zM160 555h6v1h-6zM10 556h1v1h-1zM83 556h1v1h-1zM152 556h8v1h-8zM10 557h1v1h-1zM82 557h1v1h-1zM11 558h1v1h-1zM82 558h1v1h-1zM12 559h1v1h-1zM81 559h1v1h-1zM13 560h1v1h-1zM80 560h1v1h-1zM13 561h1v1h-1zM80 561h1v1h-1zM14 562h1v1h-1zM79 562h1v1h-1zM14 563h1v1h-1zM78 563h1v1h-1zM15 564h1v1h-1zM78 564h1v1h-1zM16 565h1v1h-1zM77 565h1v1h-1zM16 566h1v1h-1zM77 566h1v1h-1zM17 567h1v1h-1zM76 567h1v1h-1zM18 568h1v1h-1zM75 568h1v1h-1zM18 569h1v1h-1zM75 569h1v1h-1zM19 570h1v1h-1zM74 570h1v1h-1zM19 571h1v1h-1zM74 571h1v1h-1zM20 572h1v1h-1zM73 572h1v1h-1zM21 573h1v1h-1zM73 573h1v1h-1zM21 574h1v1h-1zM72 574h1v1h-1zM22 575h1v1h-1zM72 575h1v1h-1zM23 576h1v1h-1zM71 576h1v1h-1z" fill="#3cb371"/></g><g clip-path="url(#cmain)"><rect x="4" y="485" width="1" height="32" fill="#000"/><rect x="2" y="493" width="5" height="19" fill="#000"/><rect x="12" y="509" width="1" height="4" fill="#000"/><rect x="10" y="510" width="5" height="2" fill="#000"/><rect x="20" y="506" width="1" height="46" fill="#000"/><rect x="18" y="510" width="5" height="26" fill="#000"/><rect x="28" y="530" width="1" height="34" fill="#000"/><rect x="26" y="535" width="5" height="9" fill="#000"/><rect x="36" y="524" width="1" height="38" fill="#000"/><rect x="34" y="542" width="5" height="2" fill="#000"/><rect x="44" y="523" width="1" height="27" fill="#000"/><rect x="42" y="527" width="5" height="16" fill="#000"/><rect x="43" y="528" width="3" height="14" fill="#fff"/><rect x="52" y="519" width="1" height="26" fill="#000"/><rect x="50" y="527" width="5" height="3" fill="#000"/><rect x="60" y="520" width="1" height="4" fill="#000"/><rect x="58" y="520" width="5" height="3" fill="#000"/><rect x="59" y="521" width="3" height="1" fill="#fff"/><rect x="68" y="484" width="1" height="48" fill="#000"/><rect x="66" y="496" width="5" height="25" fill="#000"/><rect x="67" y="497" width="3" height="23" fill="#fff"/><rect x="76" y="483" width="1" height="21" fill="#000"/><rect x="74" y="491" width="5" height="6" fill="#000"/><rect x="75" y="492" width="3" height="4" fill="#fff"/><rect x="84" y="476" width="1" height="35" fill="#000"/><rect x="82" y="484" width="5" height="8" fill="#000"/><rect x="83" y="485" width="3" height="6" fill="#fff"/><rect x="92" y="464" width="1" height="42" fill="#000"/><rect x="90" y="484" width="5" height="6" fill="#000"/><rect x="100" y="480" width="1" height="34" fill="#000"/><rect x="98" y="482" width="5" height="8" fill="#000"/><rect x="99" y="483" width="3" height="6" fill="#fff"/><rect x="108" y="477" width="1" height="4" fill="#000"/><rect x="106" y="478" width="5" height="3" fill="#000"/><rect x="116" y="454" width="1" height="31" fill="#000"/><rect x="114" y="456" width="5" height="24" fill="#000"/><rect x="115" y="457" width="3" height="22" fill="#fff"/><rect x="124" y="453" width="1" height="40" fill="#000"/><rect x="122" y="456" width="5" height="32" fill="#000"/><rect x="132" y="464" width="1" height="27" fill="#000"/><rect x="130" y="467" width="5" height="21" fill="#000"/><rect x="131" y="468" width="3" height="19" fill="#fff"/><rect x="140" y="454" width="1" height="19" fill="#000"/><rect x="138" y="459" width="5" height="9" fill="#000"/><rect x="139" y="460" width="3" height="7" fill="#fff"/><rect x="148" y="445" width="1" height="25" fill="#000"/><rect x="146" y="446" width="5" height="15" fill="#000"/><rect x="147" y="447" width="3" height="13" fill="#fff"/><rect x="156" y="445" width="1" height="5" fill="#000"/><rect x="154" y="447" width="5" height="2" fill="#000"/><rect x="164" y="446" width="1" height="14" fill="#000"/><rect x="162" y="448" width="5" height="2" fill="#000"/><rect x="172" y="446" width="1" height="35" fill="#000"/><rect x="170" y="448" width="5" height="32" fill="#000"/><rect x="180" y="456" width="1" height="43" fill="#000"/><rect x="178" y="469" width="5" height="11" fill="#000"/><rect x="179" y="470" width="3" height="9" fill="#fff"/><rect x="188" y="460" width="1" height="36" fill="#000"/><rect x="186" y="469" width="5" height="23" fill="#000"/><rect x="196" y="479" width="1" height="26" fill="#000"/><rect x="194" y="482" width="5" height="10" fill="#000"/><rect x="195" y="483" width="3" height="8" fill="#fff"/><rect x="204" y="481" width="1" height="5" fill="#000"/><rect x="202" y="482" width="5" height="4" fill="#000"/><rect x="203" y="483" width="3" height="2" fill="#fff"/><rect x="212" y="458" width="1" height="26" fill="#000"/><rect x="210" y="476" width="5" height="7" fill="#000"/><rect x="211" y="477" width="3" height="5" fill="#fff"/><rect x="220" y="463" width="1" height="19" fill="#000"/><rect x="218" y="473" width="5" height="4" fill="#000"/><rect x="219" y="474" width="3" height="2" fill="#fff"/><rect x="228" y="447" width="1" height="29" fill="#000"/><rect x="226" y="453" width="5" height="21" fill="#000"/><rect x="227" y="454" width="3" height="19" fill="#fff"/><rect x="236" y="449" width="1" height="17" fill="#000"/><rect x="234" y="453" width="5" height="7" fill="#000"/><rect x="244" y="456" width="1" height="25" fill="#000"/><rect x="242" y="460" width="5" height="18" fill="#000"/><rect x="252" y="473" width="1" height="3" fill="#000"/><rect x="250" y="473" width="5" height="3" fill="#000"/><rect x="251" y="474" width="3" height="1" fill="#fff"/><rect x="260" y="463" width="1" height="20" fill="#000"/><rect x="258" y="473" width="5" height="6" fill="#000"/><rect x="268" y="474" width="1" height="13" fill="#000"/><rect x="266" y="478" width="5" height="7" fill="#000"/><rect x="276" y="483" width="1" height="35" fill="#000"/><rect x="274" y="484" width="5" height="19" fill="#000"/><rect x="284" y="491" width="1" height="33" fill="#000"/><rect x="282" y="502" width="5" height="8" fill="#000"/><rect x="292" y="494" width="1" height="37" fill="#000"/><rect x="290" y="498" width="5" height="12" fill="#000"/><rect x="291" y="499" width="3" height="10" fill="#fff"/><rect x="300" y="504" width="1" height="8" fill="#000"/><rect x="298" y="506" width="5" height="5" fill="#000"/><rect x="308" y="504" width="1" height="15" fill="#000"/><rect x="306" y="506" width="5" height="4" fill="#000"/><rect x="307" y="507" width="3" height="2" fill="#fff"/><rect x="316" y="455" width="1" height="57" fill="#000"/><rect x="314" y="460" width="5" height="47" fill="#000"/><rect x="315" y="461" width="3" height="45" fill="#fff"/><rect x="324" y="456" width="1" height="56" fill="#000"/><rect x="322" y="460" width="5" height="45" fill="#000"/><rect x="332" y="482" width="1" height="32" fill="#000"/><rect x="330" y="486" width="5" height="20" fill="#000"/><rect x="331" y="487" width="3" height="18" fill="#fff"/><rect x="340" y="484" width="1" height="20" fill="#000"/><rect x="338" y="487" width="5" height="7" fill="#000"/><rect x="348" y="487" width="1" height="6" fill="#000"/><rect x="346" y="487" width="5" height="5" fill="#000"/><rect x="347" y="488" width="3" height="3" fill="#fff"/><rect x="356" y="416" width="1" height="74" fill="#000"/><rect x="354" y="428" width="5" height="60" fill="#000"/><rect x="355" y="429" width="3" height="58" fill="#fff"/><rect x="364" y="395" width="1" height="41" fill="#000"/><rect x="362" y="399" width="5" height="30" fill="#000"/><rect x="363" y="400" width="3" height="28" fill="#fff"/><rect x="372" y="382" width="1" height="28" fill="#000"/><rect x="370" y="399" width="5" height="6" fill="#000"/><rect x="380" y="404" width="1" height="43" fill="#000"/><rect x="378" y="404" width="5" height="39" fill="#000"/><rect x="388" y="426" width="1" height="26" fill="#000"/><rect x="386" y="441" width="5" height="3" fill="#000"/><rect x="396" y="428" width="1" height="13" fill="#000"/><rect x="394" y="430" width="5" height="10" fill="#000"/><rect x="395" y="431" width="3" height="8" fill="#fff"/><rect x="404" y="417" width="1" height="31" fill="#000"/><rect x="402" y="430" width="5" height="5" fill="#000"/><rect x="412" y="430" width="1" height="15" fill="#000"/><rect x="410" y="434" width="5" height="4" fill="#000"/><rect x="420" y="435" width="1" height="13" fill="#000"/><rect x="418" y="437" width="5" height="11" fill="#000"/><rect x="428" y="439" width="1" height="21" fill="#000"/><rect x="426" y="448" width="5" height="4" fill="#000"/><rect x="436" y="438" width="1" height="15" fill="#000"/><rect x="434" y="443" width="5" height="9" fill="#000"/><rect x="435" y="444" width="3" height="7" fill="#fff"/><rect x="444" y="436" width="1" height="4" fill="#000"/><rect x="442" y="436" width="5" height="4" fill="#000"/><rect x="443" y="437" width="3" height="2" fill="#fff"/><rect x="452" y="405" width="1" height="33" fill="#000"/><rect x="450" y="406" width="5" height="31" fill="#000"/><rect x="451" y="407" width="3" height="29" fill="#fff"/><rect x="460" y="393" width="1" height="19" fill="#000"/><rect x="458" y="398" width="5" height="10" fill="#000"/><rect x="459" y="399" width="3" height="8" fill="#fff"/><rect x="468" y="392" width="1" height="23" fill="#000"/><rect x="466" y="396" width="5" height="3" fill="#000"/><rect x="467" y="397" width="3" height="1" fill="#fff"/><rect x="476" y="394" width="1" height="23" fill="#000"/><rect x="474" y="396" width="5" height="14" fill="#000"/><rect x="484" y="408" width="1" height="24" fill="#000"/><rect x="482" y="408" width="5" height="22" fill="#000"/><rect x="492" y="417" width="1" height="8" fill="#000"/><rect x="490" y="420" width="5" height="4" fill="#000"/><rect x="491" y="421" width="3" height="2" fill="#fff"/><rect x="500" y="402" width="1" height="28" fill="#000"/><rect x="498" y="412" width="5" height="9" fill="#000"/><rect x="499" y="413" width="3" height="7" fill="#fff"/><rect x="508" y="381" width="1" height="35" fill="#000"/><rect x="506" y="389" width="5" height="23" fill="#000"/><rect x="507" y="390" width="3" height="21" fill="#fff"/><rect x="516" y="378" width="1" height="40" fill="#000"/><rect x="514" y="389" width="5" height="10" fill="#000"/><rect x="524" y="382" width="1" height="20" fill="#000"/><rect x="522" y="397" width="5" height="2" fill="#000"/><rect x="532" y="371" width="1" height="33" fill="#000"/><rect x="530" y="390" width="5" height="8" fill="#000"/><rect x="531" y="391" width="3" height="6" fill="#fff"/><rect x="540" y="392" width="1" height="4" fill="#000"/><rect x="538" y="394" width="5" height="2" fill="#000"/><rect x="548" y="394" width="1" height="48" fill="#000"/><rect x="546" y="394" width="5" height="23" fill="#000"/><rect x="556" y="405" width="1" height="25" fill="#000"/><rect x="554" y="409" width="5" height="8" fill="#000"/><rect x="555" y="410" width="3" height="6" fill="#fff"/><rect x="564" y="381" width="1" height="30" fill="#000"/><rect x="562" y="404" width="5" height="7" fill="#000"/><rect x="563" y="405" width="3" height="5" fill="#fff"/><rect x="572" y="397" width="1" height="33" fill="#000"/><rect x="570" y="404" width="5" height="22" fill="#000"/><rect x="580" y="423" width="1" height="47" fill="#000"/><rect x="578" y="425" width="5" height="26" fill="#000"/><rect x="588" y="422" width="1" height="9" fill="#000"/><rect x="586" y="427" width="5" height="2" fill="#000"/><rect x="596" y="403" width="1" height="30" fill="#000"/><rect x="594" y="424" width="5" height="5" fill="#000"/><rect x="595" y="425" width="3" height="3" fill="#fff"/><rect x="604" y="399" width="1" height="34" fill="#000"/><rect x="602" y="405" width="5" height="20" fill="#000"/><rect x="603" y="406" width="3" height="18" fill="#fff"/><rect x="612" y="387" width="1" height="24" fill="#000"/><rect x="610" y="396" width="5" height="10" fill="#000"/><rect x="611" y="397" width="3" height="8" fill="#fff"/><rect x="620" y="378" width="1" height="22" fill="#000"/><rect x="618" y="390" width="5" height="7" fill="#000"/><rect x="619" y="391" width="3" height="5" fill="#fff"/><rect x="628" y="381" width="1" height="25" fill="#000"/><rect x="626" y="390" width="5" height="12" fill="#000"/><rect x="636" y="415" width="1" height="13" fill="#000"/><rect x="634" y="419" width="5" height="4" fill="#000"/><rect x="644" y="401" width="1" height="65" fill="#000"/><rect x="642" y="415" width="5" height="7" fill="#000"/><rect x="643" y="416" width="3" height="5" fill="#fff"/><rect x="652" y="411" width="1" height="29" fill="#000"/><rect x="650" y="415" width="5" height="7" fill="#000"/><rect x="660" y="382" width="1" height="45" fill="#000"/><rect x="658" y="392" width="5" height="30" fill="#000"/><rect x="659" y="393" width="3" height="28" fill="#fff"/><rect x="668" y="358" width="1" height="36" fill="#000"/><rect x="666" y="379" width="5" height="14" fill="#000"/><rect x="667" y="380" width="3" height="12" fill="#fff"/><rect x="676" y="376" width="1" height="7" fill="#000"/><rect x="674" y="377" width="5" height="6" fill="#000"/><rect x="675" y="378" width="3" height="4" fill="#fff"/><rect x="684" y="374" width="1" height="29" fill="#000"/><rect x="682" y="376" width="5" height="22" fill="#000"/><rect x="692" y="385" width="1" height="14" fill="#000"/><rect x="690" y="395" width="5" height="3" fill="#000"/><rect x="691" y="396" width="3" height="1" fill="#fff"/><rect x="700" y="372" width="1" height="25" fill="#000"/><rect x="698" y="375" width="5" height="21" fill="#000"/><rect x="699" y="376" width="3" height="19" fill="#fff"/><rect x="708" y="357" width="1" height="24" fill="#000"/><rect x="706" y="364" width="5" height="12" fill="#000"/><rect x="707" y="365" width="3" height="10" fill="#fff"/><rect x="716" y="356" width="1" height="11" fill="#000"/><rect x="714" y="357" width="5" height="10" fill="#000"/><rect x="715" y="358" width="3" height="8" fill="#fff"/><rect x="724" y="357" width="1" height="41" fill="#000"/><rect x="722" y="357" width="5" height="34" fill="#000"/><rect x="732" y="385" width="1" height="17" fill="#000"/><rect x="730" y="390" width="5" height="2" fill="#000"/><rect x="740" y="374" width="1" height="21" fill="#000"/><rect x="738" y="380" width="5" height="10" fill="#000"/><rect x="739" y="381" width="3" height="8" fill="#fff"/><rect x="748" y="364" width="1" height="23" fill="#000"/><rect x="746" y="368" width="5" height="13" fill="#000"/><rect x="747" y="369" width="3" height="11" fill="#fff"/><rect x="756" y="354" width="1" height="17" fill="#000"/><rect x="754" y="365" width="5" height="3" fill="#000"/><rect x="755" y="366" width="3" height="1" fill="#fff"/><rect x="764" y="366" width="1" height="8" fill="#000"/><rect x="762" y="370" width="5" height="2" fill="#000"/><rect x="772" y="365" width="1" height="16" fill="#000"/><rect x="770" y="368" width="5" height="4" fill="#000"/><rect x="771" y="369" width="3" height="2" fill="#fff"/><rect x="780" y="338" width="1" height="33" fill="#000"/><rect x="778" y="344" width="5" height="25" fill="#000"/><rect x="779" y="345" width="3" height="23" fill="#fff"/><rect x="788" y="332" width="1" height="19" fill="#000"/><rect x="786" y="344" width="5" height="3" fill="#000"/><rect x="796" y="332" width="1" height="17" fill="#000"/><rect x="794" y="336" width="5" height="11" fill="#000"/><rect x="795" y="337" width="3" height="9" fill="#fff"/><rect x="804" y="336" width="1" height="30" fill="#000"/><rect x="802" y="337" width="5" height="26" fill="#000"/><rect x="812" y="360" width="1" height="7" fill="#000"/><rect x="810" y="363" width="5" height="3" fill="#000"/><rect x="811" y="364" width="3" height="1" fill="#fff"/><rect x="820" y="361" width="1" height="20" fill="#000"/><rect x="818" y="363" width="5" height="5" fill="#000"/><rect x="828" y="344" width="1" height="25" fill="#000"/><rect x="826" y="344" width="5" height="24" fill="#000"/><rect x="827" y="345" width="3" height="22" fill="#fff"/><rect x="836" y="330" width="1" height="32" fill="#000"/><rect x="834" y="345" width="5" height="6" fill="#000"/><rect x="844" y="333" width="1" height="21" fill="#000"/><rect x="842" y="336" width="5" height="16" fill="#000"/><rect x="843" y="337" width="3" height="14" fill="#fff"/><rect x="852" y="333" width="1" height="19" fill="#000"/><rect x="850" y="337" width="5" height="1" fill="#000"/><rect x="860" y="336" width="1" height="5" fill="#000"/><rect x="858" y="337" width="5" height="3" fill="#000"/><rect x="859" y="338" width="3" height="1" fill="#fff"/><rect x="868" y="330" width="1" height="18" fill="#000"/><rect x="866" y="337" width="5" height="5" fill="#000"/><rect x="876" y="327" width="1" height="31" fill="#000"/><rect x="874" y="330" width="5" height="12" fill="#000"/><rect x="875" y="331" width="3" height="10" fill="#fff"/><rect x="884" y="317" width="1" height="17" fill="#000"/><rect x="882" y="329" width="5" height="1" fill="#000"/><rect x="892" y="307" width="1" height="28" fill="#000"/><rect x="890" y="310" width="5" height="20" fill="#000"/><rect x="891" y="311" width="3" height="18" fill="#fff"/><rect x="900" y="289" width="1" height="25" fill="#000"/><rect x="898" y="301" width="5" height="10" fill="#000"/><rect x="899" y="302" width="3" height="8" fill="#fff"/><rect x="908" y="298" width="1" height="7" fill="#000"/><rect x="906" y="299" width="5" height="4" fill="#000"/><rect x="916" y="286" width="1" height="21" fill="#000"/><rect x="914" y="302" width="5" height="2" fill="#000"/><rect x="924" y="294" width="1" height="17" fill="#000"/><rect x="922" y="302" width="5" height="2" fill="#000"/><rect x="932" y="296" width="1" height="15" fill="#000"/><rect x="930" y="302" width="5" height="4" fill="#000"/><rect x="940" y="278" width="1" height="40" fill="#000"/><rect x="938" y="279" width="5" height="27" fill="#000"/><rect x="939" y="280" width="3" height="25" fill="#fff"/><rect x="948" y="266" width="1" height="17" fill="#000"/><rect x="946" y="269" width="5" height="11" fill="#000"/><rect x="947" y="270" width="3" height="9" fill="#fff"/><rect x="956" y="267" width="1" height="8" fill="#000"/><rect x="954" y="268" width="5" height="6" fill="#000"/><rect x="955" y="269" width="3" height="4" fill="#fff"/><rect x="964" y="265" width="1" height="14" fill="#000"/><rect x="962" y="268" width="5" height="6" fill="#000"/><rect x="972" y="271" width="1" height="17" fill="#000"/><rect x="970" y="273" width="5" height="4" fill="#000"/><rect x="980" y="261" width="1" height="19" fill="#000"/><rect x="978" y="271" width="5" height="6" fill="#000"/><rect x="979" y="272" width="3" height="4" fill="#fff"/><rect x="988" y="265" width="1" height="10" fill="#000"/><rect x="986" y="271" width="5" height="1" fill="#000"/><rect x="996" y="251" width="1" height="26" fill="#000"/><rect x="994" y="254" width="5" height="18" fill="#000"/><rect x="995" y="255" width="3" height="16" fill="#fff"/><rect x="1004" y="244" width="1" height="10" fill="#000"/><rect x="1002" y="245" width="5" height="9" fill="#000"/><rect x="1003" y="246" width="3" height="7" fill="#fff"/><rect x="1012" y="222" width="1" height="26" fill="#000"/><rect x="1010" y="222" width="5" height="24" fill="#000"/><rect x="1011" y="223" width="3" height="22" fill="#fff"/><rect x="1020" y="198" width="1" height="28" fill="#000"/><rect x="1018" y="204" width="5" height="19" fill="#000"/><rect x="1019" y="205" width="3" height="17" fill="#fff"/><rect x="1028" y="203" width="1" height="25" fill="#000"/><rect x="1026" y="204" width="5" height="15" fill="#000"/><rect x="1036" y="193" width="1" height="32" fill="#000"/><rect x="1034" y="198" width="5" height="21" fill="#000"/><rect x="1035" y="199" width="3" height="19" fill="#fff"/><rect x="1044" y="184" width="1" height="22" fill="#000"/><rect x="1042" y="192" width="5" height="7" fill="#000"/><rect x="1043" y="193" width="3" height="5" fill="#fff"/><rect x="1052" y="186" width="1" height="8" fill="#000"/><rect x="1050" y="187" width="5" height="6" fill="#000"/><rect x="1051" y="188" width="3" height="4" fill="#fff"/><rect x="1060" y="180" width="1" height="20" fill="#000"/><rect x="1058" y="187" width="5" height="8" fill="#000"/><rect x="1068" y="171" width="1" height="26" fill="#000"/><rect x="1066" y="171" width="5" height="24" fill="#000"/><rect x="1067" y="172" width="3" height="22" fill="#fff"/><rect x="1076" y="136" width="1" height="36" fill="#000"/><rect x="1074" y="140" width="5" height="32" fill="#000"/><rect x="1075" y="141" width="3" height="30" fill="#fff"/><rect x="1084" y="126" width="1" height="50" fill="#000"/><rect x="1082" y="141" width="5" height="23" fill="#000"/><rect x="1092" y="160" width="1" height="39" fill="#000"/><rect x="1090" y="163" width="5" height="8" fill="#000"/><rect x="1100" y="165" width="1" height="14" fill="#000"/><rect x="1098" y="168" width="5" height="11" fill="#000"/><rect x="1099" y="169" width="3" height="9" fill="#fff"/><rect x="1108" y="155" width="1" height="25" fill="#000"/><rect x="1106" y="167" width="5" height="1" fill="#000"/><rect x="1116" y="157" width="1" height="29" fill="#000"/><rect x="1114" y="163" width="5" height="5" fill="#000"/><rect x="1115" y="164" width="3" height="3" fill="#fff"/><rect x="1124" y="145" width="1" height="21" fill="#000"/><rect x="1122" y="161" width="5" height="3" fill="#000"/><rect x="1123" y="162" width="3" height="1" fill="#fff"/><rect x="1132" y="119" width="1" height="43" fill="#000"/><rect x="1130" y="138" width="5" height="24" fill="#000"/><rect x="1131" y="139" width="3" height="22" fill="#fff"/><rect x="1140" y="128" width="1" height="25" fill="#000"/><rect x="1138" y="138" width="5" height="1" fill="#000"/><rect x="1148" y="128" width="1" height="12" fill="#000"/><rect x="1146" y="134" width="5" height="5" fill="#000"/><rect x="1147" y="135" width="3" height="3" fill="#fff"/><rect x="1156" y="120" width="1" height="26" fill="#000"/><rect x="1154" y="123" width="5" height="12" fill="#000"/><rect x="1155" y="124" width="3" height="10" fill="#fff"/><rect x="1164" y="105" width="1" height="21" fill="#000"/><rect x="1162" y="118" width="5" height="6" fill="#000"/><rect x="1163" y="119" width="3" height="4" fill="#fff"/><rect x="1172" y="107" width="1" height="15" fill="#000"/><rect x="1170" y="110" width="5" height="8" fill="#000"/><rect x="1171" y="111" width="3" height="6" fill="#fff"/><rect x="1180" y="90" width="1" height="24" fill="#000"/><rect x="1178" y="90" width="5" height="21" fill="#000"/><rect x="1179" y="91" width="3" height="19" fill="#fff"/><rect x="1188" y="81" width="1" height="26" fill="#000"/><rect x="1186" y="90" width="5" height="2" fill="#000"/><rect x="1196" y="86" width="1" height="6" fill="#000"/><rect x="1194" y="87" width="5" height="5" fill="#000"/><rect x="1195" y="88" width="3" height="3" fill="#fff"/><rect x="1204" y="84" width="1" height="23" fill="#000"/><rect x="1202" y="87" width="5" height="9" fill="#000"/><rect x="1212" y="94" width="1" height="24" fill="#000"/><rect x="1210" y="95" width="5" height="4" fill="#000"/><rect x="1220" y="82" width="1" height="22" fill="#000"/><rect x="1218" y="82" width="5" height="17" fill="#000"/><rect x="1219" y="83" width="3" height="15" fill="#fff"/><rect x="1228" y="73" width="1" height="28" fill="#000"/><rect x="1226" y="82" width="5" height="14" fill="#000"/><rect x="1236" y="93" width="1" height="31" fill="#000"/><rect x="1234" y="95" width="5" height="17" fill="#000"/><rect x="1244" y="118" width="1" height="6" fill="#000"/><rect x="1242" y="120" width="5" height="3" fill="#000"/><rect x="1252" y="117" width="1" height="13" fill="#000"/><rect x="1250" y="118" width="5" height="5" fill="#000"/><rect x="1251" y="119" width="3" height="3" fill="#fff"/><rect x="1260" y="118" width="1" height="45" fill="#000"/><rect x="1258" y="118" width="5" height="45" fill="#000"/><rect x="1268" y="158" width="1" height="18" fill="#000"/><rect x="1266" y="161" width="5" height="4" fill="#000"/><rect x="1276" y="134" width="1" height="32" fill="#000"/><rect x="1274" y="135" width="5" height="30" fill="#000"/><rect x="1275" y="136" width="3" height="28" fill="#fff"/><rect x="1284" y="98" width="1" height="39" fill="#000"/><rect x="1282" y="107" width="5" height="29" fill="#000"/><rect x="1283" y="108" width="3" height="27" fill="#fff"/><rect x="1292" y="101" width="1" height="3" fill="#000"/><rect x="1290" y="102" width="5" height="1" fill="#000"/><rect x="1300" y="92" width="1" height="30" fill="#000"/><rect x="1298" y="102" width="5" height="4" fill="#000"/><rect x="1308" y="88" width="1" height="21" fill="#000"/><rect x="1306" y="96" width="5" height="10" fill="#000"/><rect x="1307" y="97" width="3" height="8" fill="#fff"/><rect x="1316" y="67" width="1" height="32" fill="#000"/><rect x="1314" y="70" width="5" height="27" fill="#000"/><rect x="1315" y="71" width="3" height="25" fill="#fff"/><rect x="1324" y="60" width="1" height="20" fill="#000"/><rect x="1322" y="63" width="5" height="9" fill="#000"/><rect x="1323" y="64" width="3" height="7" fill="#fff"/><rect x="1332" y="60" width="1" height="3" fill="#000"/><rect x="1330" y="60" width="5" height="2" fill="#000"/><rect x="1340" y="52" width="1" height="14" fill="#000"/><rect x="1338" y="54" width="5" height="7" fill="#000"/><rect x="1339" y="55" width="3" height="5" fill="#fff"/><rect x="1348" y="51" width="1" height="47" fill="#000"/><rect x="1346" y="54" width="5" height="38" fill="#000"/><rect x="1356" y="85" width="1" height="34" fill="#000"/><rect x="1354" y="91" width="5" height="23" fill="#000"/><rect x="1364" y="110" width="1" height="31" fill="#000"/><rect x="1362" y="113" width="5" height="21" fill="#000"/><rect x="1372" y="116" width="1" height="32" fill="#000"/><rect x="1370" y="127" width="5" height="7" fill="#000"/><rect x="1371" y="128" width="3" height="5" fill="#fff"/><rect x="1380" y="122" width="1" height="6" fill="#000"/><rect x="1378" y="125" width="5" height="3" fill="#000"/><rect x="1388" y="122" width="1" height="22" fill="#000"/><rect x="1386" y="125" width="5" height="3" fill="#000"/><rect x="1396" y="116" width="1" height="30" fill="#000"/><rect x="1394" y="125" width="5" height="17" fill="#000"/><rect x="1404" y="126" width="1" height="23" fill="#000"/><rect x="1402" y="136" width="5" height="5" fill="#000"/><rect x="1403" y="137" width="3" height="3" fill="#fff"/><rect x="1412" y="132" width="1" height="14" fill="#000"/><rect x="1410" y="137" width="5" height="4" fill="#000"/></g><rect x="0" y="20" width="1730" height="1" fill="#a0a0a0"/><rect x="0" y="21" width="1730" height="1" fill="#c8c8c8"/><rect x="0" y="24" width="1684" height="1" fill="#000"/><rect x="1683" y="24" width="1" height="554" fill="#000"/><rect x="0" y="577" width="1684" height="1" fill="#000"/><rect x="0" y="579" width="1684" height="1" fill="#000"/><rect x="1683" y="579" width="1" height="171" fill="#000"/><rect x="0" y="749" width="1684" height="1" fill="#000"/><rect x="0" y="751" width="1684" height="1" fill="#000"/><rect x="1683" y="751" width="1" height="175" fill="#000"/><rect x="0" y="925" width="1684" height="1" fill="#000"/><rect x="1729" y="22" width="1" height="920" fill="#d4d4d4"/><rect x="1684" y="46" width="2" height="1" fill="#000"/><text x="1689.4" y="50" font-size="10" fill="#000" text-anchor="start" font-weight="normal" font-family='"Liberation Sans", sans-serif' textLength="32.2" lengthAdjust="spacingAndGlyphs" >153.590</text><rect x="1684" y="79" width="2" height="1" fill="#000"/><text x="1689.4" y="83" font-size="10" fill="#000" text-anchor="start" font-weight="normal" font-family='"Liberation Sans", sans-serif' textLength="32.2" lengthAdjust="spacingAndGlyphs" >152.295</text><rect x="1684" y="112" width="2" height="1" fill="#000"/><text x="1689.4" y="116" font-size="10" fill="#000" text-anchor="start" font-weight="normal" font-family='"Liberation Sans", sans-serif' textLength="32.2" lengthAdjust="spacingAndGlyphs" >150.965</text><rect x="1684" y="178" width="2" height="1" fill="#000"/><text x="1689.4" y="182" font-size="10" fill="#000" text-anchor="start" font-weight="normal" font-family='"Liberation Sans", sans-serif' textLength="32.2" lengthAdjust="spacingAndGlyphs" >148.340</text><rect x="1684" y="211" width="2" height="1" fill="#000"/><text x="1689.4" y="215" font-size="10" fill="#000" text-anchor="start" font-weight="normal" font-family='"Liberation Sans", sans-serif' textLength="32.2" lengthAdjust="spacingAndGlyphs" >147.045</text><rect x="1684" y="244" width="2" height="1" fill="#000"/><text x="1689.4" y="248" font-size="10" fill="#000" text-anchor="start" font-weight="normal" font-family='"Liberation Sans", sans-serif' textLength="32.2" lengthAdjust="spacingAndGlyphs" >145.750</text><rect x="1684" y="277" width="2" height="1" fill="#000"/><text x="1689.4" y="281" font-size="10" fill="#000" text-anchor="start" font-weight="normal" font-family='"Liberation Sans", sans-serif' textLength="32.2" lengthAdjust="spacingAndGlyphs" >144.420</text><rect x="1684" y="310" width="2" height="1" fill="#000"/><text x="1689.4" y="314" font-size="10" fill="#000" text-anchor="start" font-weight="normal" font-family='"Liberation Sans", sans-serif' textLength="32.2" lengthAdjust="spacingAndGlyphs" >143.125</text><rect x="1684" y="343" width="2" height="1" fill="#000"/><text x="1689.4" y="347" font-size="10" fill="#000" text-anchor="start" font-weight="normal" font-family='"Liberation Sans", sans-serif' textLength="32.2" lengthAdjust="spacingAndGlyphs" >141.795</text><rect x="1684" y="376" width="2" height="1" fill="#000"/><text x="1689.4" y="380" font-size="10" fill="#000" text-anchor="start" font-weight="normal" font-family='"Liberation Sans", sans-serif' textLength="32.2" lengthAdjust="spacingAndGlyphs" >140.500</text><rect x="1684" y="409" width="2" height="1" fill="#000"/><text x="1689.4" y="413" font-size="10" fill="#000" text-anchor="start" font-weight="normal" font-family='"Liberation Sans", sans-serif' textLength="32.2" lengthAdjust="spacingAndGlyphs" >139.170</text><rect x="1684" y="442" width="2" height="1" fill="#000"/><text x="1689.4" y="446" font-size="10" fill="#000" text-anchor="start" font-weight="normal" font-family='"Liberation Sans", sans-serif' textLength="32.2" lengthAdjust="spacingAndGlyphs" >137.875</text><rect x="1684" y="475" width="2" height="1" fill="#000"/><text x="1689.4" y="479" font-size="10" fill="#000" text-anchor="start" font-weight="normal" font-family='"Liberation Sans", sans-serif' textLength="32.2" lengthAdjust="spacingAndGlyphs" >136.545</text><rect x="1684" y="508" width="2" height="1" fill="#000"/><text x="1689.4" y="512" font-size="10" fill="#000" text-anchor="start" font-weight="normal" font-family='"Liberation Sans", sans-serif' textLength="32.2" lengthAdjust="spacingAndGlyphs" >135.250</text><rect x="1684" y="541" width="2" height="1" fill="#000"/><text x="1689.4" y="545" font-size="10" fill="#000" text-anchor="start" font-weight="normal" font-family='"Liberation Sans", sans-serif' textLength="32.2" lengthAdjust="spacingAndGlyphs" >133.920</text><rect x="1684" y="574" width="2" height="1" fill="#000"/><text x="1689.4" y="578" font-size="10" fill="#000" text-anchor="start" font-weight="normal" font-family='"Liberation Sans", sans-serif' textLength="32.2" lengthAdjust="spacingAndGlyphs" >132.625</text><rect x="1684" y="145" width="2" height="1" fill="#000"/><text x="1689.4" y="149" font-size="10" fill="#000" text-anchor="start" font-weight="normal" font-family='"Liberation Sans", sans-serif' textLength="32.2" lengthAdjust="spacingAndGlyphs" >149.670</text><rect x="1685" y="85" width="41" height="11" fill="#ff0000"/><text x="1689.6" y="94.6" font-size="10" fill="#fff" text-anchor="start" font-weight="normal" font-family='"Liberation Sans", sans-serif' textLength="31.8" lengthAdjust="spacingAndGlyphs" >151.802</text><rect x="1685" y="100" width="41" height="11" fill="#ff0000"/><text x="1689.6" y="109.6" font-size="10" fill="#fff" text-anchor="start" font-weight="normal" font-family='"Liberation Sans", sans-serif' textLength="31.8" lengthAdjust="spacingAndGlyphs" >151.206</text><rect x="1685" y="117" width="41" height="11" fill="#00c8c8"/><text x="1689.6" y="126.6" font-size="10" fill="#fff" text-anchor="start" font-weight="normal" font-family='"Liberation Sans", sans-serif' textLength="31.8" lengthAdjust="spacingAndGlyphs" >150.532</text><rect x="1685" y="135" width="41" height="11" fill="#000000"/><text x="1689.6" y="144.6" font-size="10" fill="#fff" text-anchor="start" font-weight="normal" font-family='"Liberation Sans", sans-serif' textLength="31.8" lengthAdjust="spacingAndGlyphs" >149.875</text><rect x="1685" y="147" width="41" height="11" fill="#0000ff"/><text x="1689.6" y="156.6" font-size="10" fill="#fff" text-anchor="start" font-weight="normal" font-family='"Liberation Sans", sans-serif' textLength="31.8" lengthAdjust="spacingAndGlyphs" >149.342</text><rect x="1685" y="166" width="41" height="11" fill="#0000ff"/><text x="1689.6" y="175.6" font-size="10" fill="#fff" text-anchor="start" font-weight="normal" font-family='"Liberation Sans", sans-serif' textLength="31.8" lengthAdjust="spacingAndGlyphs" >148.588</text><text x="0.5" y="938" font-size="10" fill="#000" text-anchor="start" font-weight="normal" font-family='"Liberation Sans", sans-serif' textLength="46.6" lengthAdjust="spacingAndGlyphs" >7 Sep 2020</text><rect x="60" y="926" width="1" height="3" fill="#000"/><text x="59.5" y="938" font-size="10" fill="#000" text-anchor="start" font-weight="normal" font-family='"Liberation Sans", sans-serif' textLength="51.6" lengthAdjust="spacingAndGlyphs" >27 Sep 2020</text><rect x="124" y="926" width="1" height="3" fill="#000"/><text x="123.5" y="938" font-size="10" fill="#000" text-anchor="start" font-weight="normal" font-family='"Liberation Sans", sans-serif' textLength="44.5" lengthAdjust="spacingAndGlyphs" >6 Oct 2020</text><rect x="188" y="926" width="1" height="3" fill="#000"/><text x="187.5" y="938" font-size="10" fill="#000" text-anchor="start" font-weight="normal" font-family='"Liberation Sans", sans-serif' textLength="49.6" lengthAdjust="spacingAndGlyphs" >15 Oct 2020</text><rect x="252" y="926" width="1" height="3" fill="#000"/><text x="251.5" y="938" font-size="10" fill="#000" text-anchor="start" font-weight="normal" font-family='"Liberation Sans", sans-serif' textLength="49.6" lengthAdjust="spacingAndGlyphs" >25 Oct 2020</text><rect x="316" y="926" width="1" height="3" fill="#000"/><text x="315.5" y="938" font-size="10" fill="#000" text-anchor="start" font-weight="normal" font-family='"Liberation Sans", sans-serif' textLength="46.6" lengthAdjust="spacingAndGlyphs" >3 Nov 2020</text><rect x="380" y="926" width="1" height="3" fill="#000"/><text x="379.5" y="938" font-size="10" fill="#000" text-anchor="start" font-weight="normal" font-family='"Liberation Sans", sans-serif' textLength="51.6" lengthAdjust="spacingAndGlyphs" >12 Nov 2020</text><rect x="444" y="926" width="1" height="3" fill="#000"/><text x="443.5" y="938" font-size="10" fill="#000" text-anchor="start" font-weight="normal" font-family='"Liberation Sans", sans-serif' textLength="51.6" lengthAdjust="spacingAndGlyphs" >22 Nov 2020</text><rect x="508" y="926" width="1" height="3" fill="#000"/><text x="507.5" y="938" font-size="10" fill="#000" text-anchor="start" font-weight="normal" font-family='"Liberation Sans", sans-serif' textLength="46.6" lengthAdjust="spacingAndGlyphs" >1 Dec 2020</text><rect x="572" y="926" width="1" height="3" fill="#000"/><text x="571.5" y="938" font-size="10" fill="#000" text-anchor="start" font-weight="normal" font-family='"Liberation Sans", sans-serif' textLength="51.6" lengthAdjust="spacingAndGlyphs" >10 Dec 2020</text><rect x="636" y="926" width="1" height="3" fill="#000"/><text x="635.5" y="938" font-size="10" fill="#000" text-anchor="start" font-weight="normal" font-family='"Liberation Sans", sans-serif' textLength="51.6" lengthAdjust="spacingAndGlyphs" >20 Dec 2020</text><rect x="700" y="926" width="1" height="3" fill="#000"/><text x="699.5" y="938" font-size="10" fill="#000" text-anchor="start" font-weight="normal" font-family='"Liberation Sans", sans-serif' textLength="51.6" lengthAdjust="spacingAndGlyphs" >30 Dec 2020</text><rect x="764" y="926" width="1" height="3" fill="#000"/><text x="763.5" y="938" font-size="10" fill="#000" text-anchor="start" font-weight="normal" font-family='"Liberation Sans", sans-serif' textLength="50.1" lengthAdjust="spacingAndGlyphs" >10 Jan 2021</text><rect x="828" y="926" width="1" height="3" fill="#000"/><text x="827.5" y="938" font-size="10" fill="#000" text-anchor="start" font-weight="normal" font-family='"Liberation Sans", sans-serif' textLength="50.1" lengthAdjust="spacingAndGlyphs" >19 Jan 2021</text><rect x="892" y="926" width="1" height="3" fill="#000"/><text x="891.5" y="938" font-size="10" fill="#000" text-anchor="start" font-weight="normal" font-family='"Liberation Sans", sans-serif' textLength="50.1" lengthAdjust="spacingAndGlyphs" >28 Jan 2021</text><rect x="956" y="926" width="1" height="3" fill="#000"/><text x="955.5" y="938" font-size="10" fill="#000" text-anchor="start" font-weight="normal" font-family='"Liberation Sans", sans-serif' textLength="46.1" lengthAdjust="spacingAndGlyphs" >7 Feb 2021</text><rect x="1020" y="926" width="1" height="3" fill="#000"/><text x="1019.5" y="938" font-size="10" fill="#000" text-anchor="start" font-weight="normal" font-family='"Liberation Sans", sans-serif' textLength="51.1" lengthAdjust="spacingAndGlyphs" >16 Feb 2021</text><rect x="1084" y="926" width="1" height="3" fill="#000"/><text x="1083.5" y="938" font-size="10" fill="#000" text-anchor="start" font-weight="normal" font-family='"Liberation Sans", sans-serif' textLength="51.1" lengthAdjust="spacingAndGlyphs" >25 Feb 2021</text><rect x="1148" y="926" width="1" height="3" fill="#000"/><text x="1147.5" y="938" font-size="10" fill="#000" text-anchor="start" font-weight="normal" font-family='"Liberation Sans", sans-serif' textLength="46.0" lengthAdjust="spacingAndGlyphs" >7 Mar 2021</text><rect x="1212" y="926" width="1" height="3" fill="#000"/><text x="1211.5" y="938" font-size="10" fill="#000" text-anchor="start" font-weight="normal" font-family='"Liberation Sans", sans-serif' textLength="51.1" lengthAdjust="spacingAndGlyphs" >16 Mar 2021</text><rect x="1276" y="926" width="1" height="3" fill="#000"/><text x="1275.5" y="938" font-size="10" fill="#000" text-anchor="start" font-weight="normal" font-family='"Liberation Sans", sans-serif' textLength="51.1" lengthAdjust="spacingAndGlyphs" >25 Mar 2021</text><rect x="1340" y="926" width="1" height="3" fill="#000"/><text x="1339.5" y="938" font-size="10" fill="#000" text-anchor="start" font-weight="normal" font-family='"Liberation Sans", sans-serif' textLength="44.0" lengthAdjust="spacingAndGlyphs" >5 Apr 2021</text><rect x="1404" y="926" width="1" height="3" fill="#000"/><text x="1403.5" y="938" font-size="10" fill="#000" text-anchor="start" font-weight="normal" font-family='"Liberation Sans", sans-serif' textLength="49.1" lengthAdjust="spacingAndGlyphs" >14 Apr 2021</text><g clip-path="url(#cmacd)"><rect x="4" y="673" width="1" height="51" fill="#c0c0c0"/><rect x="12" y="673" width="1" height="55" fill="#c0c0c0"/><rect x="20" y="673" width="1" height="60" fill="#c0c0c0"/><rect x="28" y="673" width="1" height="66" fill="#c0c0c0"/><rect x="36" y="673" width="1" height="69" fill="#c0c0c0"/><rect x="44" y="673" width="1" height="68" fill="#c0c0c0"/><rect x="52" y="673" width="1" height="67" fill="#c0c0c0"/><rect x="60" y="673" width="1" height="64" fill="#c0c0c0"/><rect x="68" y="673" width="1" height="57" fill="#c0c0c0"/><rect x="76" y="673" width="1" height="50" fill="#c0c0c0"/><rect x="84" y="673" width="1" height="43" fill="#c0c0c0"/><rect x="92" y="673" width="1" height="37" fill="#c0c0c0"/><rect x="100" y="673" width="1" height="32" fill="#c0c0c0"/><rect x="108" y="673" width="1" height="27" fill="#c0c0c0"/><rect x="116" y="673" width="1" height="19" fill="#c0c0c0"/><rect x="124" y="673" width="1" height="17" fill="#c0c0c0"/><rect x="132" y="673" width="1" height="12" fill="#c0c0c0"/><rect x="140" y="673" width="1" height="7" fill="#c0c0c0"/><rect x="156" y="669" width="1" height="5" fill="#c0c0c0"/><rect x="164" y="665" width="1" height="9" fill="#c0c0c0"/><rect x="172" y="668" width="1" height="6" fill="#c0c0c0"/><rect x="180" y="668" width="1" height="6" fill="#c0c0c0"/><rect x="188" y="672" width="1" height="2" fill="#c0c0c0"/><rect x="204" y="673" width="1" height="3" fill="#c0c0c0"/><rect x="212" y="673" width="1" height="3" fill="#c0c0c0"/><rect x="220" y="673" width="1" height="2" fill="#c0c0c0"/><rect x="228" y="670" width="1" height="4" fill="#c0c0c0"/><rect x="236" y="669" width="1" height="5" fill="#c0c0c0"/><rect x="244" y="670" width="1" height="4" fill="#c0c0c0"/><rect x="252" y="671" width="1" height="3" fill="#c0c0c0"/><rect x="260" y="672" width="1" height="2" fill="#c0c0c0"/><rect x="268" y="673" width="1" height="2" fill="#c0c0c0"/><rect x="276" y="673" width="1" height="7" fill="#c0c0c0"/><rect x="284" y="673" width="1" height="11" fill="#c0c0c0"/><rect x="292" y="673" width="1" height="13" fill="#c0c0c0"/><rect x="300" y="673" width="1" height="16" fill="#c0c0c0"/><rect x="308" y="673" width="1" height="18" fill="#c0c0c0"/><rect x="316" y="673" width="1" height="11" fill="#c0c0c0"/><rect x="324" y="673" width="1" height="13" fill="#c0c0c0"/><rect x="332" y="673" width="1" height="12" fill="#c0c0c0"/><rect x="340" y="673" width="1" height="12" fill="#c0c0c0"/><rect x="348" y="673" width="1" height="10" fill="#c0c0c0"/><rect x="356" y="672" width="1" height="2" fill="#c0c0c0"/><rect x="364" y="659" width="1" height="15" fill="#c0c0c0"/><rect x="372" y="650" width="1" height="24" fill="#c0c0c0"/><rect x="380" y="649" width="1" height="25" fill="#c0c0c0"/><rect x="388" y="649" width="1" height="25" fill="#c0c0c0"/><rect x="396" y="647" width="1" height="27" fill="#c0c0c0"/><rect x="404" y="646" width="1" height="28" fill="#c0c0c0"/><rect x="412" y="647" width="1" height="27" fill="#c0c0c0"/><rect x="420" y="649" width="1" height="25" fill="#c0c0c0"/><rect x="428" y="651" width="1" height="23" fill="#c0c0c0"/><rect x="436" y="652" width="1" height="22" fill="#c0c0c0"/><rect x="444" y="652" width="1" height="22" fill="#c0c0c0"/><rect x="452" y="647" width="1" height="27" fill="#c0c0c0"/><rect x="460" y="643" width="1" height="31" fill="#c0c0c0"/><rect x="468" y="639" width="1" height="35" fill="#c0c0c0"/><rect x="476" y="639" width="1" height="35" fill="#c0c0c0"/><rect x="484" y="642" width="1" height="32" fill="#c0c0c0"/><rect x="492" y="644" width="1" height="30" fill="#c0c0c0"/><rect x="500" y="644" width="1" height="30" fill="#c0c0c0"/><rect x="508" y="641" width="1" height="33" fill="#c0c0c0"/><rect x="516" y="640" width="1" height="34" fill="#c0c0c0"/><rect x="524" y="640" width="1" height="34" fill="#c0c0c0"/><rect x="532" y="639" width="1" height="35" fill="#c0c0c0"/><rect x="540" y="639" width="1" height="35" fill="#c0c0c0"/><rect x="548" y="643" width="1" height="31" fill="#c0c0c0"/><rect x="556" y="646" width="1" height="28" fill="#c0c0c0"/><rect x="564" y="647" width="1" height="27" fill="#c0c0c0"/><rect x="572" y="652" width="1" height="22" fill="#c0c0c0"/><rect x="580" y="660" width="1" height="14" fill="#c0c0c0"/><rect x="588" y="663" width="1" height="11" fill="#c0c0c0"/><rect x="596" y="665" width="1" height="9" fill="#c0c0c0"/><rect x="604" y="663" width="1" height="11" fill="#c0c0c0"/><rect x="612" y="660" width="1" height="14" fill="#c0c0c0"/><rect x="620" y="657" width="1" height="17" fill="#c0c0c0"/><rect x="628" y="657" width="1" height="17" fill="#c0c0c0"/><rect x="636" y="661" width="1" height="13" fill="#c0c0c0"/><rect x="644" y="662" width="1" height="12" fill="#c0c0c0"/><rect x="652" y="665" width="1" height="9" fill="#c0c0c0"/><rect x="660" y="662" width="1" height="12" fill="#c0c0c0"/><rect x="668" y="658" width="1" height="16" fill="#c0c0c0"/><rect x="676" y="654" width="1" height="20" fill="#c0c0c0"/><rect x="684" y="655" width="1" height="19" fill="#c0c0c0"/><rect x="692" y="656" width="1" height="18" fill="#c0c0c0"/><rect x="700" y="653" width="1" height="21" fill="#c0c0c0"/><rect x="708" y="649" width="1" height="25" fill="#c0c0c0"/><rect x="716" y="646" width="1" height="28" fill="#c0c0c0"/><rect x="724" y="648" width="1" height="26" fill="#c0c0c0"/><rect x="732" y="651" width="1" height="23" fill="#c0c0c0"/><rect x="740" y="652" width="1" height="22" fill="#c0c0c0"/><rect x="748" y="650" width="1" height="24" fill="#c0c0c0"/><rect x="756" y="649" width="1" height="25" fill="#c0c0c0"/><rect x="764" y="649" width="1" height="25" fill="#c0c0c0"/><rect x="772" y="649" width="1" height="25" fill="#c0c0c0"/><rect x="780" y="646" width="1" height="28" fill="#c0c0c0"/><rect x="788" y="644" width="1" height="30" fill="#c0c0c0"/><rect x="796" y="640" width="1" height="34" fill="#c0c0c0"/><rect x="804" y="643" width="1" height="31" fill="#c0c0c0"/><rect x="812" y="645" width="1" height="29" fill="#c0c0c0"/><rect x="820" y="648" width="1" height="26" fill="#c0c0c0"/><rect x="828" y="646" width="1" height="28" fill="#c0c0c0"/><rect x="836" y="647" width="1" height="27" fill="#c0c0c0"/><rect x="844" y="645" width="1" height="29" fill="#c0c0c0"/><rect x="852" y="644" width="1" height="30" fill="#c0c0c0"/><rect x="860" y="644" width="1" height="30" fill="#c0c0c0"/><rect x="868" y="644" width="1" height="30" fill="#c0c0c0"/><rect x="876" y="644" width="1" height="30" fill="#c0c0c0"/><rect x="884" y="643" width="1" height="31" fill="#c0c0c0"/><rect x="892" y="640" width="1" height="34" fill="#c0c0c0"/><rect x="900" y="636" width="1" height="38" fill="#c0c0c0"/><rect x="908" y="634" width="1" height="40" fill="#c0c0c0"/><rect x="916" y="633" width="1" height="41" fill="#c0c0c0"/><rect x="924" y="633" width="1" height="41" fill="#c0c0c0"/><rect x="932" y="633" width="1" height="41" fill="#c0c0c0"/><rect x="940" y="630" width="1" height="44" fill="#c0c0c0"/><rect x="948" y="626" width="1" height="48" fill="#c0c0c0"/><rect x="956" y="623" width="1" height="51" fill="#c0c0c0"/><rect x="964" y="623" width="1" height="51" fill="#c0c0c0"/><rect x="972" y="623" width="1" height="51" fill="#c0c0c0"/><rect x="980" y="623" width="1" height="51" fill="#c0c0c0"/><rect x="988" y="624" width="1" height="50" fill="#c0c0c0"/><rect x="996" y="623" width="1" height="51" fill="#c0c0c0"/><rect x="1004" y="620" width="1" height="54" fill="#c0c0c0"/><rect x="1012" y="616" width="1" height="58" fill="#c0c0c0"/><rect x="1020" y="610" width="1" height="64" fill="#c0c0c0"/><rect x="1028" y="608" width="1" height="66" fill="#c0c0c0"/><rect x="1036" y="604" width="1" height="70" fill="#c0c0c0"/><rect x="1044" y="601" width="1" height="73" fill="#c0c0c0"/><rect x="1052" y="598" width="1" height="76" fill="#c0c0c0"/><rect x="1060" y="598" width="1" height="76" fill="#c0c0c0"/><rect x="1068" y="595" width="1" height="79" fill="#c0c0c0"/><rect x="1076" y="589" width="1" height="85" fill="#c0c0c0"/><rect x="1084" y="589" width="1" height="85" fill="#c0c0c0"/><rect x="1092" y="591" width="1" height="83" fill="#c0c0c0"/><rect x="1100" y="593" width="1" height="81" fill="#c0c0c0"/><rect x="1108" y="595" width="1" height="79" fill="#c0c0c0"/><rect x="1116" y="597" width="1" height="77" fill="#c0c0c0"/><rect x="1124" y="599" width="1" height="75" fill="#c0c0c0"/><rect x="1132" y="598" width="1" height="76" fill="#c0c0c0"/><rect x="1140" y="598" width="1" height="76" fill="#c0c0c0"/><rect x="1148" y="598" width="1" height="76" fill="#c0c0c0"/><rect x="1156" y="598" width="1" height="76" fill="#c0c0c0"/><rect x="1164" y="597" width="1" height="77" fill="#c0c0c0"/><rect x="1172" y="596" width="1" height="78" fill="#c0c0c0"/><rect x="1180" y="593" width="1" height="81" fill="#c0c0c0"/><rect x="1188" y="592" width="1" height="82" fill="#c0c0c0"/><rect x="1196" y="591" width="1" height="83" fill="#c0c0c0"/><rect x="1204" y="593" width="1" height="81" fill="#c0c0c0"/><rect x="1212" y="595" width="1" height="79" fill="#c0c0c0"/><rect x="1220" y="596" width="1" height="78" fill="#c0c0c0"/><rect x="1228" y="599" width="1" height="75" fill="#c0c0c0"/><rect x="1236" y="605" width="1" height="69" fill="#c0c0c0"/><rect x="1244" y="612" width="1" height="62" fill="#c0c0c0"/><rect x="1252" y="618" width="1" height="56" fill="#c0c0c0"/><rect x="1260" y="630" width="1" height="44" fill="#c0c0c0"/><rect x="1268" y="641" width="1" height="33" fill="#c0c0c0"/><rect x="1276" y="645" width="1" height="29" fill="#c0c0c0"/><rect x="1284" y="643" width="1" height="31" fill="#c0c0c0"/><rect x="1292" y="642" width="1" height="32" fill="#c0c0c0"/><rect x="1300" y="642" width="1" height="32" fill="#c0c0c0"/><rect x="1308" y="640" width="1" height="34" fill="#c0c0c0"/><rect x="1316" y="636" width="1" height="38" fill="#c0c0c0"/><rect x="1324" y="631" width="1" height="43" fill="#c0c0c0"/><rect x="1332" y="628" width="1" height="46" fill="#c0c0c0"/><rect x="1340" y="624" width="1" height="50" fill="#c0c0c0"/><rect x="1348" y="628" width="1" height="46" fill="#c0c0c0"/><rect x="1356" y="636" width="1" height="38" fill="#c0c0c0"/><rect x="1364" y="645" width="1" height="29" fill="#c0c0c0"/><rect x="1372" y="652" width="1" height="22" fill="#c0c0c0"/><rect x="1380" y="657" width="1" height="17" fill="#c0c0c0"/><rect x="1388" y="662" width="1" height="12" fill="#c0c0c0"/><rect x="1396" y="667" width="1" height="7" fill="#c0c0c0"/><rect x="1404" y="671" width="1" height="3" fill="#c0c0c0"/><rect x="1412" y="673" width="1" height="3" fill="#c0c0c0"/><path d="M1112 593h3v1h-3zM1118 593h2v1h-2zM1106 594h3v1h-3zM1120 594h1v1h-1zM1124 594h3v1h-3zM1130 594h3v1h-3zM1136 594h3v1h-3zM1142 594h2v1h-2zM1202 594h3v1h-3zM1208 594h3v1h-3zM1214 594h3v1h-3zM1220 594h3v1h-3zM1226 594h3v1h-3zM1096 595h1v1h-1zM1100 595h3v1h-3zM1144 595h1v1h-1zM1148 595h3v1h-3zM1192 595h1v1h-1zM1196 595h3v1h-3zM1232 595h3v1h-3zM1094 596h2v1h-2zM1154 596h3v1h-3zM1184 596h3v1h-3zM1190 596h2v1h-2zM1238 596h3v1h-3zM1088 597h3v1h-3zM1160 597h3v1h-3zM1166 597h3v1h-3zM1172 597h3v1h-3zM1178 597h3v1h-3zM1244 597h2v1h-2zM1246 598h1v1h-1zM1083 599h2v1h-2zM1250 599h1v1h-1zM1082 600h1v1h-1zM1251 600h2v1h-2zM1078 601h1v1h-1zM1076 602h2v1h-2zM1256 602h1v1h-1zM1072 603h1v1h-1zM1257 603h2v1h-2zM1070 604h2v1h-2zM1262 605h1v1h-1zM1064 606h3v1h-3zM1263 606h1v1h-1zM1264 607h1v1h-1zM1059 608h2v1h-2zM1058 609h1v1h-1zM1268 609h1v1h-1zM1054 610h1v1h-1zM1269 610h1v1h-1zM1052 611h2v1h-2zM1270 611h1v1h-1zM1048 612h1v1h-1zM1046 613h2v1h-2zM1042 614h1v1h-1zM1274 614h2v1h-2zM1040 615h2v1h-2zM1276 615h1v1h-1zM1034 616h3v1h-3zM1030 617h1v1h-1zM1028 618h2v1h-2zM1280 618h1v1h-1zM1022 619h3v1h-3zM1281 619h1v1h-1zM1018 620h1v1h-1zM1282 620h1v1h-1zM1016 621h2v1h-2zM1010 622h3v1h-3zM1286 622h1v1h-1zM1004 623h3v1h-3zM1287 623h1v1h-1zM998 624h3v1h-3zM1288 624h1v1h-1zM992 625h3v1h-3zM986 626h3v1h-3zM1292 626h1v1h-1zM976 627h1v1h-1zM980 627h3v1h-3zM1293 627h2v1h-2zM970 628h1v1h-1zM974 628h2v1h-2zM968 629h2v1h-2zM1298 629h1v1h-1zM962 630h3v1h-3zM1299 630h2v1h-2zM956 631h3v1h-3zM952 632h1v1h-1zM1304 632h1v1h-1zM950 633h2v1h-2zM1305 633h2v1h-2zM946 634h1v1h-1zM1346 634h3v1h-3zM1352 634h3v1h-3zM1358 634h3v1h-3zM1364 634h3v1h-3zM944 635h2v1h-2zM1310 635h2v1h-2zM1342 635h1v1h-1zM1370 635h3v1h-3zM938 636h3v1h-3zM1312 636h1v1h-1zM1340 636h2v1h-2zM1376 636h2v1h-2zM928 637h1v1h-1zM932 637h3v1h-3zM1316 637h3v1h-3zM1334 637h3v1h-3zM1378 637h1v1h-1zM922 638h1v1h-1zM926 638h2v1h-2zM1322 638h3v1h-3zM1328 638h3v1h-3zM1382 638h2v1h-2zM920 639h2v1h-2zM1384 639h1v1h-1zM530 640h3v1h-3zM536 640h3v1h-3zM542 640h2v1h-2zM914 640h3v1h-3zM1388 640h1v1h-1zM520 641h1v1h-1zM524 641h3v1h-3zM544 641h1v1h-1zM548 641h3v1h-3zM554 641h3v1h-3zM904 641h1v1h-1zM908 641h3v1h-3zM1389 641h2v1h-2zM512 642h3v1h-3zM518 642h2v1h-2zM560 642h3v1h-3zM566 642h3v1h-3zM572 642h2v1h-2zM898 642h1v1h-1zM902 642h2v1h-2zM506 643h3v1h-3zM574 643h1v1h-1zM896 643h2v1h-2zM1394 643h1v1h-1zM496 644h1v1h-1zM500 644h3v1h-3zM578 644h1v1h-1zM842 644h3v1h-3zM848 644h3v1h-3zM854 644h3v1h-3zM860 644h3v1h-3zM880 644h1v1h-1zM884 644h3v1h-3zM890 644h3v1h-3zM1395 644h2v1h-2zM488 645h3v1h-3zM494 645h2v1h-2zM579 645h2v1h-2zM818 645h3v1h-3zM824 645h3v1h-3zM830 645h3v1h-3zM836 645h3v1h-3zM866 645h3v1h-3zM872 645h3v1h-3zM878 645h2v1h-2zM472 646h1v1h-1zM476 646h3v1h-3zM482 646h3v1h-3zM584 646h2v1h-2zM800 646h3v1h-3zM806 646h3v1h-3zM812 646h3v1h-3zM464 647h3v1h-3zM470 647h2v1h-2zM586 647h1v1h-1zM794 647h3v1h-3zM1400 647h2v1h-2zM434 648h3v1h-3zM448 648h1v1h-1zM452 648h3v1h-3zM458 648h3v1h-3zM590 648h2v1h-2zM776 648h3v1h-3zM782 648h3v1h-3zM788 648h3v1h-3zM1402 648h1v1h-1zM428 649h3v1h-3zM440 649h3v1h-3zM446 649h2v1h-2zM592 649h1v1h-1zM760 649h1v1h-1zM764 649h3v1h-3zM770 649h3v1h-3zM422 650h3v1h-3zM596 650h2v1h-2zM752 650h3v1h-3zM758 650h2v1h-2zM1406 650h1v1h-1zM598 651h1v1h-1zM736 651h1v1h-1zM740 651h3v1h-3zM746 651h3v1h-3zM1407 651h1v1h-1zM417 652h2v1h-2zM602 652h1v1h-1zM728 652h3v1h-3zM734 652h2v1h-2zM1408 652h1v1h-1zM416 653h1v1h-1zM603 653h2v1h-2zM722 653h3v1h-3zM608 654h2v1h-2zM718 654h1v1h-1zM1412 654h1v1h-1zM411 655h2v1h-2zM610 655h1v1h-1zM716 655h2v1h-2zM410 656h1v1h-1zM614 656h3v1h-3zM710 656h3v1h-3zM620 657h3v1h-3zM704 657h3v1h-3zM405 658h2v1h-2zM626 658h3v1h-3zM680 658h3v1h-3zM686 658h3v1h-3zM692 658h3v1h-3zM698 658h3v1h-3zM404 659h1v1h-1zM632 659h3v1h-3zM638 659h2v1h-2zM674 659h3v1h-3zM640 660h1v1h-1zM644 660h3v1h-3zM664 660h1v1h-1zM668 660h3v1h-3zM399 661h2v1h-2zM650 661h3v1h-3zM656 661h3v1h-3zM662 661h2v1h-2zM398 662h1v1h-1zM394 664h1v1h-1zM392 665h2v1h-2zM387 668h2v1h-2zM386 669h1v1h-1zM208 670h1v1h-1zM212 670h3v1h-3zM218 670h3v1h-3zM382 670h1v1h-1zM200 671h3v1h-3zM206 671h2v1h-2zM224 671h3v1h-3zM230 671h3v1h-3zM236 671h3v1h-3zM242 671h3v1h-3zM380 671h2v1h-2zM194 672h3v1h-3zM248 672h3v1h-3zM254 672h3v1h-3zM260 672h3v1h-3zM266 672h3v1h-3zM272 672h3v1h-3zM278 672h2v1h-2zM190 673h1v1h-1zM280 673h1v1h-1zM284 673h3v1h-3zM376 673h1v1h-1zM188 674h2v1h-2zM290 674h3v1h-3zM375 674h1v1h-1zM182 675h3v1h-3zM296 675h2v1h-2zM374 675h1v1h-1zM298 676h1v1h-1zM176 677h3v1h-3zM302 677h3v1h-3zM369 677h2v1h-2zM308 678h2v1h-2zM368 678h1v1h-1zM171 679h2v1h-2zM310 679h1v1h-1zM170 680h1v1h-1zM314 680h3v1h-3zM363 680h2v1h-2zM320 681h2v1h-2zM362 681h1v1h-1zM165 682h2v1h-2zM322 682h1v1h-1zM326 682h2v1h-2zM358 682h1v1h-1zM164 683h1v1h-1zM328 683h1v1h-1zM332 683h3v1h-3zM352 683h1v1h-1zM356 683h2v1h-2zM338 684h3v1h-3zM344 684h3v1h-3zM350 684h2v1h-2zM160 685h1v1h-1zM159 686h1v1h-1zM158 687h1v1h-1zM154 689h1v1h-1zM152 690h2v1h-2zM148 693h1v1h-1zM146 694h2v1h-2zM142 697h1v1h-1zM2 698h1v1h-1zM141 698h1v1h-1zM3 699h1v1h-1zM140 699h1v1h-1zM4 700h1v1h-1zM136 701h1v1h-1zM135 702h1v1h-1zM134 703h1v1h-1zM8 704h1v1h-1zM9 705h1v1h-1zM130 705h1v1h-1zM10 706h1v1h-1zM129 706h1v1h-1zM128 707h1v1h-1zM14 710h1v1h-1zM124 710h1v1h-1zM15 711h1v1h-1zM122 711h2v1h-2zM16 712h1v1h-1zM117 714h2v1h-2zM20 715h1v1h-1zM116 715h1v1h-1zM21 716h2v1h-2zM112 718h1v1h-1zM26 719h2v1h-2zM110 719h2v1h-2zM28 720h1v1h-1zM32 722h1v1h-1zM105 722h2v1h-2zM33 723h2v1h-2zM104 723h1v1h-1zM38 725h1v1h-1zM99 725h2v1h-2zM39 726h2v1h-2zM98 726h1v1h-1zM44 728h2v1h-2zM93 728h2v1h-2zM46 729h1v1h-1zM92 729h1v1h-1zM50 730h1v1h-1zM88 730h1v1h-1zM51 731h2v1h-2zM86 731h2v1h-2zM56 732h3v1h-3zM62 732h2v1h-2zM80 732h3v1h-3zM64 733h1v1h-1zM68 733h3v1h-3zM74 733h3v1h-3z" fill="#ff0000"/></g><text x="1" y="592" font-size="10" fill="#000" text-anchor="start" font-weight="normal" font-family='"Liberation Sans", sans-serif' textLength="130" lengthAdjust="spacingAndGlyphs" >MACD(12,26,9) -0.0329 0.3630</text><rect x="1684" y="581" width="2" height="1" fill="#000"/><text x="1687.5" y="590" font-size="10" fill="#000" text-anchor="start" font-weight="normal" font-family='"Liberation Sans", sans-serif' textLength="27.4" lengthAdjust="spacingAndGlyphs" >1.8026</text><rect x="1684" y="673" width="2" height="1" fill="#000"/><text x="1687" y="677" font-size="10" fill="#000" text-anchor="start" font-weight="normal" font-family='"Liberation Sans", sans-serif' textLength="18" lengthAdjust="spacingAndGlyphs" >0.00</text><rect x="1684" y="748" width="2" height="1" fill="#000"/><text x="1687" y="746" font-size="10" fill="#000" text-anchor="start" font-weight="normal" font-family='"Liberation Sans", sans-serif' textLength="31" lengthAdjust="spacingAndGlyphs" >-1.4717</text><line x1="2" y1="787.5" x2="1683" y2="787.5" stroke="#c0c0c0" stroke-width="1" stroke-dasharray="3,3"/><line x1="2" y1="838.5" x2="1683" y2="838.5" stroke="#c0c0c0" stroke-width="1" stroke-dasharray="3,3"/><line x1="2" y1="899.5" x2="1683" y2="899.5" stroke="#c0c0c0" stroke-width="1" stroke-dasharray="3,3"/><g clip-path="url(#crsi)"><path d="M1019 780h2v1h-2zM1017 781h2v1h-2zM1021 781h1v1h-1zM1076 781h1v1h-1zM1015 782h2v1h-2zM1021 782h1v1h-1zM1075 782h2v1h-2zM1179 782h5v1h-5zM1192 782h5v1h-5zM1013 783h2v1h-2zM1022 783h1v1h-1zM1074 783h1v1h-1zM1077 783h1v1h-1zM1177 783h2v1h-2zM1184 783h8v1h-8zM1197 783h1v1h-1zM1012 784h1v1h-1zM1022 784h1v1h-1zM1072 784h2v1h-2zM1077 784h1v1h-1zM1175 784h2v1h-2zM1198 784h1v1h-1zM1011 785h1v1h-1zM1023 785h1v1h-1zM1071 785h1v1h-1zM1078 785h1v1h-1zM1173 785h2v1h-2zM1199 785h1v1h-1zM1010 786h1v1h-1zM1023 786h1v1h-1zM1048 786h5v1h-5zM1070 786h1v1h-1zM1078 786h1v1h-1zM1171 786h2v1h-2zM1200 786h1v1h-1zM1008 787h2v1h-2zM1024 787h1v1h-1zM1042 787h6v1h-6zM1053 787h1v1h-1zM1069 787h1v1h-1zM1079 787h1v1h-1zM1168 787h3v1h-3zM1200 787h1v1h-1zM1007 788h1v1h-1zM1025 788h1v1h-1zM1038 788h4v1h-4zM1054 788h1v1h-1zM1068 788h1v1h-1zM1079 788h1v1h-1zM1166 788h2v1h-2zM1201 788h1v1h-1zM1006 789h1v1h-1zM1025 789h1v1h-1zM1036 789h2v1h-2zM1055 789h1v1h-1zM1066 789h2v1h-2zM1080 789h1v1h-1zM1160 789h6v1h-6zM1202 789h1v1h-1zM1005 790h1v1h-1zM1026 790h1v1h-1zM1034 790h2v1h-2zM1056 790h1v1h-1zM1065 790h1v1h-1zM1080 790h1v1h-1zM1155 790h5v1h-5zM1203 790h1v1h-1zM1220 790h1v1h-1zM1003 791h2v1h-2zM1026 791h1v1h-1zM1032 791h2v1h-2zM1057 791h1v1h-1zM1064 791h1v1h-1zM1080 791h1v1h-1zM1152 791h3v1h-3zM1204 791h1v1h-1zM1218 791h2v1h-2zM1221 791h1v1h-1zM1000 792h3v1h-3zM1027 792h1v1h-1zM1031 792h1v1h-1zM1058 792h1v1h-1zM1062 792h2v1h-2zM1081 792h1v1h-1zM1150 792h2v1h-2zM1205 792h2v1h-2zM1216 792h2v1h-2zM1221 792h1v1h-1zM998 793h2v1h-2zM1027 793h1v1h-1zM1029 793h2v1h-2zM1059 793h1v1h-1zM1061 793h1v1h-1zM1081 793h1v1h-1zM1146 793h4v1h-4zM1207 793h2v1h-2zM1215 793h1v1h-1zM1222 793h1v1h-1zM947 794h10v1h-10zM996 794h2v1h-2zM1028 794h1v1h-1zM1060 794h1v1h-1zM1082 794h1v1h-1zM1132 794h4v1h-4zM1142 794h4v1h-4zM1209 794h2v1h-2zM1213 794h2v1h-2zM1222 794h1v1h-1zM945 795h2v1h-2zM957 795h1v1h-1zM995 795h1v1h-1zM1082 795h1v1h-1zM1131 795h1v1h-1zM1136 795h6v1h-6zM1211 795h2v1h-2zM1223 795h1v1h-1zM943 796h2v1h-2zM958 796h1v1h-1zM994 796h1v1h-1zM1083 796h1v1h-1zM1130 796h1v1h-1zM1224 796h1v1h-1zM941 797h2v1h-2zM959 797h1v1h-1zM992 797h2v1h-2zM1083 797h1v1h-1zM1128 797h2v1h-2zM1224 797h1v1h-1zM940 798h1v1h-1zM960 798h2v1h-2zM991 798h1v1h-1zM1084 798h1v1h-1zM1127 798h1v1h-1zM1225 798h1v1h-1zM939 799h1v1h-1zM962 799h1v1h-1zM990 799h1v1h-1zM1084 799h1v1h-1zM1126 799h1v1h-1zM1226 799h1v1h-1zM939 800h1v1h-1zM963 800h1v1h-1zM989 800h1v1h-1zM1085 800h2v1h-2zM1125 800h1v1h-1zM1226 800h1v1h-1zM938 801h1v1h-1zM964 801h2v1h-2zM979 801h10v1h-10zM1087 801h1v1h-1zM1120 801h5v1h-5zM1227 801h1v1h-1zM937 802h1v1h-1zM966 802h2v1h-2zM976 802h3v1h-3zM1088 802h2v1h-2zM1114 802h6v1h-6zM1227 802h1v1h-1zM937 803h1v1h-1zM968 803h3v1h-3zM974 803h2v1h-2zM1090 803h2v1h-2zM1110 803h4v1h-4zM1228 803h1v1h-1zM936 804h1v1h-1zM971 804h3v1h-3zM1092 804h18v1h-18zM1229 804h1v1h-1zM1339 804h2v1h-2zM899 805h5v1h-5zM935 805h1v1h-1zM1229 805h1v1h-1zM1336 805h3v1h-3zM1340 805h1v1h-1zM896 806h3v1h-3zM904 806h8v1h-8zM935 806h1v1h-1zM1230 806h1v1h-1zM1334 806h2v1h-2zM1341 806h1v1h-1zM894 807h2v1h-2zM912 807h14v1h-14zM934 807h1v1h-1zM1230 807h1v1h-1zM1323 807h11v1h-11zM1341 807h1v1h-1zM892 808h2v1h-2zM926 808h2v1h-2zM933 808h1v1h-1zM1231 808h1v1h-1zM1320 808h3v1h-3zM1341 808h1v1h-1zM891 809h1v1h-1zM928 809h3v1h-3zM933 809h1v1h-1zM1231 809h1v1h-1zM1318 809h2v1h-2zM1342 809h1v1h-1zM890 810h1v1h-1zM931 810h2v1h-2zM1232 810h1v1h-1zM1316 810h2v1h-2zM1342 810h1v1h-1zM364 811h2v1h-2zM890 811h1v1h-1zM1233 811h1v1h-1zM1315 811h1v1h-1zM1342 811h1v1h-1zM363 812h1v1h-1zM366 812h2v1h-2zM889 812h1v1h-1zM1233 812h1v1h-1zM1314 812h1v1h-1zM1343 812h1v1h-1zM362 813h1v1h-1zM368 813h3v1h-3zM795 813h2v1h-2zM888 813h1v1h-1zM1234 813h1v1h-1zM1313 813h1v1h-1zM1343 813h1v1h-1zM361 814h1v1h-1zM371 814h2v1h-2zM793 814h2v1h-2zM796 814h1v1h-1zM887 814h1v1h-1zM1234 814h1v1h-1zM1312 814h1v1h-1zM1343 814h1v1h-1zM360 815h1v1h-1zM373 815h1v1h-1zM459 815h10v1h-10zM780 815h2v1h-2zM791 815h2v1h-2zM797 815h1v1h-1zM886 815h1v1h-1zM1235 815h1v1h-1zM1312 815h1v1h-1zM1344 815h1v1h-1zM359 816h1v1h-1zM373 816h1v1h-1zM456 816h3v1h-3zM469 816h1v1h-1zM715 816h2v1h-2zM779 816h1v1h-1zM782 816h4v1h-4zM789 816h2v1h-2zM797 816h1v1h-1zM886 816h1v1h-1zM1235 816h1v1h-1zM1311 816h1v1h-1zM1344 816h1v1h-1zM358 817h1v1h-1zM374 817h1v1h-1zM454 817h2v1h-2zM470 817h1v1h-1zM508 817h1v1h-1zM712 817h3v1h-3zM716 817h1v1h-1zM779 817h1v1h-1zM786 817h3v1h-3zM798 817h1v1h-1zM885 817h1v1h-1zM1236 817h1v1h-1zM1310 817h1v1h-1zM1344 817h1v1h-1zM357 818h1v1h-1zM374 818h1v1h-1zM452 818h2v1h-2zM471 818h1v1h-1zM507 818h1v1h-1zM509 818h2v1h-2zM710 818h2v1h-2zM717 818h1v1h-1zM778 818h1v1h-1zM798 818h1v1h-1zM876 818h9v1h-9zM1237 818h1v1h-1zM1309 818h1v1h-1zM1345 818h1v1h-1zM356 819h1v1h-1zM375 819h1v1h-1zM451 819h1v1h-1zM472 819h2v1h-2zM506 819h1v1h-1zM511 819h1v1h-1zM531 819h3v1h-3zM707 819h3v1h-3zM717 819h1v1h-1zM777 819h1v1h-1zM799 819h1v1h-1zM844 819h4v1h-4zM874 819h2v1h-2zM1238 819h1v1h-1zM1307 819h2v1h-2zM1345 819h1v1h-1zM356 820h1v1h-1zM375 820h1v1h-1zM451 820h1v1h-1zM474 820h1v1h-1zM505 820h1v1h-1zM512 820h2v1h-2zM528 820h3v1h-3zM534 820h2v1h-2zM705 820h2v1h-2zM718 820h1v1h-1zM776 820h1v1h-1zM799 820h1v1h-1zM843 820h1v1h-1zM848 820h14v1h-14zM872 820h2v1h-2zM1239 820h1v1h-1zM1304 820h3v1h-3zM1345 820h1v1h-1zM355 821h1v1h-1zM376 821h1v1h-1zM450 821h1v1h-1zM475 821h1v1h-1zM504 821h1v1h-1zM514 821h2v1h-2zM526 821h2v1h-2zM536 821h3v1h-3zM672 821h5v1h-5zM703 821h2v1h-2zM718 821h1v1h-1zM776 821h1v1h-1zM800 821h1v1h-1zM842 821h1v1h-1zM862 821h2v1h-2zM871 821h1v1h-1zM1240 821h1v1h-1zM1288 821h8v1h-8zM1302 821h2v1h-2zM1346 821h1v1h-1zM355 822h1v1h-1zM376 822h1v1h-1zM449 822h1v1h-1zM476 822h1v1h-1zM504 822h1v1h-1zM516 822h10v1h-10zM539 822h2v1h-2zM668 822h4v1h-4zM677 822h1v1h-1zM701 822h2v1h-2zM719 822h1v1h-1zM775 822h1v1h-1zM800 822h1v1h-1zM828 822h1v1h-1zM840 822h2v1h-2zM864 822h3v1h-3zM869 822h2v1h-2zM1241 822h1v1h-1zM1284 822h4v1h-4zM1296 822h6v1h-6zM1346 822h1v1h-1zM148 823h2v1h-2zM354 823h1v1h-1zM377 823h1v1h-1zM448 823h1v1h-1zM477 823h1v1h-1zM503 823h1v1h-1zM541 823h1v1h-1zM666 823h2v1h-2zM677 823h1v1h-1zM700 823h1v1h-1zM719 823h1v1h-1zM754 823h3v1h-3zM774 823h1v1h-1zM801 823h1v1h-1zM827 823h1v1h-1zM829 823h2v1h-2zM839 823h1v1h-1zM867 823h2v1h-2zM1242 823h1v1h-1zM1250 823h3v1h-3zM1283 823h1v1h-1zM1346 823h1v1h-1zM116 824h1v1h-1zM146 824h2v1h-2zM150 824h4v1h-4zM354 824h1v1h-1zM377 824h1v1h-1zM448 824h1v1h-1zM477 824h1v1h-1zM502 824h1v1h-1zM541 824h1v1h-1zM618 824h3v1h-3zM664 824h2v1h-2zM678 824h1v1h-1zM699 824h1v1h-1zM720 824h1v1h-1zM750 824h4v1h-4zM757 824h2v1h-2zM773 824h1v1h-1zM801 824h1v1h-1zM827 824h1v1h-1zM831 824h2v1h-2zM838 824h1v1h-1zM1243 824h1v1h-1zM1246 824h4v1h-4zM1252 824h1v1h-1zM1283 824h1v1h-1zM1347 824h1v1h-1zM115 825h2v1h-2zM145 825h1v1h-1zM154 825h11v1h-11zM354 825h1v1h-1zM378 825h1v1h-1zM447 825h1v1h-1zM478 825h1v1h-1zM501 825h1v1h-1zM542 825h1v1h-1zM614 825h4v1h-4zM621 825h1v1h-1zM663 825h1v1h-1zM679 825h1v1h-1zM698 825h1v1h-1zM720 825h1v1h-1zM748 825h2v1h-2zM759 825h2v1h-2zM773 825h1v1h-1zM802 825h1v1h-1zM826 825h1v1h-1zM833 825h2v1h-2zM837 825h1v1h-1zM1244 825h2v1h-2zM1253 825h1v1h-1zM1282 825h1v1h-1zM1347 825h1v1h-1zM115 826h1v1h-1zM117 826h1v1h-1zM144 826h1v1h-1zM164 826h1v1h-1zM353 826h1v1h-1zM378 826h1v1h-1zM395 826h3v1h-3zM446 826h1v1h-1zM479 826h1v1h-1zM499 826h2v1h-2zM542 826h1v1h-1zM611 826h3v1h-3zM622 826h2v1h-2zM661 826h2v1h-2zM680 826h1v1h-1zM697 826h1v1h-1zM720 826h1v1h-1zM746 826h2v1h-2zM761 826h2v1h-2zM768 826h5v1h-5zM802 826h1v1h-1zM825 826h1v1h-1zM835 826h2v1h-2zM1253 826h1v1h-1zM1281 826h1v1h-1zM1347 826h1v1h-1zM114 827h1v1h-1zM117 827h1v1h-1zM142 827h2v1h-2zM165 827h1v1h-1zM228 827h1v1h-1zM353 827h1v1h-1zM379 827h1v1h-1zM393 827h2v1h-2zM398 827h4v1h-4zM445 827h1v1h-1zM480 827h1v1h-1zM496 827h3v1h-3zM543 827h1v1h-1zM609 827h2v1h-2zM624 827h1v1h-1zM660 827h1v1h-1zM680 827h1v1h-1zM696 827h1v1h-1zM721 827h1v1h-1zM744 827h2v1h-2zM763 827h5v1h-5zM803 827h1v1h-1zM824 827h1v1h-1zM1253 827h1v1h-1zM1281 827h1v1h-1zM1348 827h1v1h-1zM114 828h1v1h-1zM118 828h1v1h-1zM141 828h1v1h-1zM165 828h1v1h-1zM227 828h1v1h-1zM229 828h2v1h-2zM316 828h1v1h-1zM353 828h1v1h-1zM379 828h1v1h-1zM391 828h2v1h-2zM402 828h6v1h-6zM445 828h1v1h-1zM480 828h1v1h-1zM494 828h2v1h-2zM544 828h1v1h-1zM607 828h2v1h-2zM625 828h1v1h-1zM659 828h1v1h-1zM681 828h1v1h-1zM695 828h1v1h-1zM721 828h1v1h-1zM743 828h1v1h-1zM803 828h1v1h-1zM824 828h1v1h-1zM1254 828h1v1h-1zM1280 828h1v1h-1zM1348 828h1v1h-1zM113 829h1v1h-1zM118 829h1v1h-1zM139 829h2v1h-2zM166 829h1v1h-1zM226 829h1v1h-1zM231 829h2v1h-2zM316 829h1v1h-1zM352 829h1v1h-1zM380 829h1v1h-1zM389 829h2v1h-2zM408 829h5v1h-5zM443 829h2v1h-2zM481 829h1v1h-1zM491 829h3v1h-3zM544 829h1v1h-1zM562 829h3v1h-3zM605 829h2v1h-2zM626 829h2v1h-2zM659 829h1v1h-1zM682 829h1v1h-1zM694 829h1v1h-1zM722 829h1v1h-1zM741 829h2v1h-2zM804 829h1v1h-1zM823 829h1v1h-1zM1254 829h1v1h-1zM1279 829h1v1h-1zM1349 829h1v1h-1zM112 830h1v1h-1zM119 830h1v1h-1zM136 830h3v1h-3zM166 830h1v1h-1zM226 830h1v1h-1zM233 830h2v1h-2zM315 830h1v1h-1zM317 830h1v1h-1zM352 830h1v1h-1zM380 830h9v1h-9zM413 830h2v1h-2zM440 830h3v1h-3zM482 830h1v1h-1zM489 830h2v1h-2zM545 830h1v1h-1zM558 830h4v1h-4zM565 830h1v1h-1zM604 830h1v1h-1zM628 830h1v1h-1zM658 830h1v1h-1zM683 830h1v1h-1zM693 830h1v1h-1zM722 830h1v1h-1zM740 830h1v1h-1zM804 830h10v1h-10zM822 830h1v1h-1zM1254 830h1v1h-1zM1279 830h1v1h-1zM1349 830h1v1h-1zM112 831h1v1h-1zM119 831h1v1h-1zM134 831h2v1h-2zM167 831h1v1h-1zM225 831h1v1h-1zM235 831h2v1h-2zM315 831h1v1h-1zM317 831h1v1h-1zM351 831h1v1h-1zM415 831h2v1h-2zM438 831h2v1h-2zM483 831h1v1h-1zM487 831h2v1h-2zM546 831h1v1h-1zM555 831h3v1h-3zM565 831h1v1h-1zM603 831h1v1h-1zM629 831h1v1h-1zM658 831h1v1h-1zM683 831h1v1h-1zM688 831h5v1h-5zM723 831h1v1h-1zM738 831h2v1h-2zM814 831h2v1h-2zM821 831h1v1h-1zM1254 831h1v1h-1zM1278 831h1v1h-1zM1350 831h1v1h-1zM111 832h1v1h-1zM120 832h1v1h-1zM132 832h2v1h-2zM167 832h1v1h-1zM224 832h1v1h-1zM237 832h1v1h-1zM315 832h1v1h-1zM318 832h1v1h-1zM351 832h1v1h-1zM417 832h2v1h-2zM435 832h3v1h-3zM483 832h1v1h-1zM485 832h2v1h-2zM546 832h1v1h-1zM553 832h2v1h-2zM566 832h1v1h-1zM602 832h1v1h-1zM629 832h1v1h-1zM657 832h1v1h-1zM684 832h4v1h-4zM723 832h1v1h-1zM736 832h2v1h-2zM816 832h3v1h-3zM821 832h1v1h-1zM1255 832h1v1h-1zM1277 832h1v1h-1zM1351 832h1v1h-1zM110 833h1v1h-1zM120 833h1v1h-1zM131 833h1v1h-1zM168 833h1v1h-1zM223 833h1v1h-1zM238 833h1v1h-1zM314 833h1v1h-1zM318 833h1v1h-1zM351 833h1v1h-1zM419 833h3v1h-3zM432 833h3v1h-3zM484 833h1v1h-1zM547 833h1v1h-1zM551 833h2v1h-2zM567 833h1v1h-1zM601 833h1v1h-1zM630 833h1v1h-1zM656 833h1v1h-1zM724 833h1v1h-1zM735 833h1v1h-1zM819 833h2v1h-2zM1255 833h1v1h-1zM1277 833h1v1h-1zM1352 833h1v1h-1zM110 834h1v1h-1zM120 834h1v1h-1zM130 834h1v1h-1zM168 834h1v1h-1zM222 834h1v1h-1zM238 834h1v1h-1zM314 834h1v1h-1zM318 834h1v1h-1zM350 834h1v1h-1zM422 834h4v1h-4zM430 834h2v1h-2zM547 834h1v1h-1zM549 834h2v1h-2zM567 834h1v1h-1zM600 834h1v1h-1zM631 834h1v1h-1zM656 834h1v1h-1zM724 834h4v1h-4zM733 834h2v1h-2zM1255 834h1v1h-1zM1276 834h1v1h-1zM1352 834h1v1h-1zM109 835h1v1h-1zM121 835h1v1h-1zM130 835h1v1h-1zM169 835h1v1h-1zM222 835h1v1h-1zM239 835h1v1h-1zM314 835h1v1h-1zM319 835h1v1h-1zM350 835h1v1h-1zM426 835h4v1h-4zM548 835h1v1h-1zM568 835h1v1h-1zM600 835h1v1h-1zM632 835h1v1h-1zM655 835h1v1h-1zM728 835h5v1h-5zM1256 835h1v1h-1zM1276 835h1v1h-1zM1353 835h1v1h-1zM109 836h1v1h-1zM121 836h1v1h-1zM129 836h1v1h-1zM169 836h1v1h-1zM221 836h1v1h-1zM240 836h1v1h-1zM313 836h1v1h-1zM319 836h1v1h-1zM350 836h1v1h-1zM569 836h1v1h-1zM599 836h1v1h-1zM632 836h1v1h-1zM654 836h1v1h-1zM1256 836h1v1h-1zM1275 836h1v1h-1zM1354 836h1v1h-1zM106 837h3v1h-3zM122 837h1v1h-1zM128 837h1v1h-1zM170 837h1v1h-1zM180 837h1v1h-1zM218 837h3v1h-3zM241 837h1v1h-1zM313 837h1v1h-1zM320 837h1v1h-1zM349 837h1v1h-1zM569 837h1v1h-1zM598 837h1v1h-1zM633 837h1v1h-1zM643 837h3v1h-3zM654 837h1v1h-1zM1256 837h1v1h-1zM1275 837h1v1h-1zM1355 837h1v1h-1zM102 838h4v1h-4zM122 838h1v1h-1zM127 838h1v1h-1zM170 838h1v1h-1zM178 838h2v1h-2zM181 838h1v1h-1zM214 838h4v1h-4zM242 838h1v1h-1zM313 838h1v1h-1zM320 838h1v1h-1zM349 838h1v1h-1zM570 838h1v1h-1zM597 838h1v1h-1zM634 838h1v1h-1zM641 838h2v1h-2zM646 838h2v1h-2zM653 838h1v1h-1zM1257 838h1v1h-1zM1274 838h1v1h-1zM1355 838h1v1h-1zM99 839h3v1h-3zM123 839h1v1h-1zM126 839h1v1h-1zM171 839h1v1h-1zM176 839h2v1h-2zM182 839h1v1h-1zM211 839h3v1h-3zM242 839h1v1h-1zM250 839h4v1h-4zM312 839h1v1h-1zM320 839h1v1h-1zM348 839h1v1h-1zM571 839h1v1h-1zM594 839h3v1h-3zM635 839h1v1h-1zM639 839h2v1h-2zM648 839h3v1h-3zM653 839h1v1h-1zM1257 839h1v1h-1zM1274 839h1v1h-1zM1356 839h1v1h-1zM83 840h3v1h-3zM97 840h2v1h-2zM123 840h1v1h-1zM126 840h1v1h-1zM171 840h1v1h-1zM175 840h1v1h-1zM182 840h1v1h-1zM208 840h3v1h-3zM243 840h1v1h-1zM246 840h4v1h-4zM254 840h2v1h-2zM312 840h1v1h-1zM321 840h1v1h-1zM332 840h2v1h-2zM346 840h3v1h-3zM571 840h1v1h-1zM590 840h4v1h-4zM635 840h1v1h-1zM637 840h2v1h-2zM651 840h2v1h-2zM1257 840h1v1h-1zM1273 840h1v1h-1zM1357 840h1v1h-1zM81 841h2v1h-2zM86 841h2v1h-2zM95 841h2v1h-2zM124 841h2v1h-2zM172 841h3v1h-3zM183 841h1v1h-1zM206 841h2v1h-2zM244 841h2v1h-2zM256 841h3v1h-3zM312 841h1v1h-1zM321 841h1v1h-1zM331 841h1v1h-1zM334 841h4v1h-4zM342 841h4v1h-4zM572 841h1v1h-1zM588 841h2v1h-2zM636 841h1v1h-1zM1258 841h1v1h-1zM1273 841h1v1h-1zM1358 841h1v1h-1zM79 842h2v1h-2zM88 842h3v1h-3zM93 842h2v1h-2zM124 842h1v1h-1zM172 842h1v1h-1zM184 842h1v1h-1zM200 842h6v1h-6zM259 842h3v1h-3zM311 842h1v1h-1zM322 842h1v1h-1zM330 842h1v1h-1zM338 842h4v1h-4zM573 842h1v1h-1zM587 842h1v1h-1zM1258 842h1v1h-1zM1272 842h1v1h-1zM1359 842h1v1h-1zM77 843h2v1h-2zM91 843h2v1h-2zM185 843h1v1h-1zM195 843h5v1h-5zM262 843h2v1h-2zM311 843h1v1h-1zM322 843h1v1h-1zM329 843h1v1h-1zM573 843h1v1h-1zM587 843h1v1h-1zM1258 843h1v1h-1zM1272 843h1v1h-1zM1360 843h1v1h-1zM75 844h2v1h-2zM186 844h1v1h-1zM193 844h2v1h-2zM264 844h3v1h-3zM311 844h1v1h-1zM322 844h1v1h-1zM328 844h1v1h-1zM574 844h1v1h-1zM586 844h1v1h-1zM1258 844h1v1h-1zM1271 844h1v1h-1zM1361 844h1v1h-1zM1371 844h18v1h-18zM72 845h3v1h-3zM186 845h1v1h-1zM191 845h2v1h-2zM267 845h2v1h-2zM310 845h1v1h-1zM323 845h1v1h-1zM327 845h1v1h-1zM575 845h1v1h-1zM585 845h1v1h-1zM1259 845h1v1h-1zM1271 845h1v1h-1zM1362 845h1v1h-1zM1368 845h3v1h-3zM1389 845h1v1h-1zM70 846h2v1h-2zM187 846h1v1h-1zM189 846h2v1h-2zM269 846h1v1h-1zM310 846h1v1h-1zM323 846h1v1h-1zM326 846h1v1h-1zM576 846h1v1h-1zM584 846h1v1h-1zM1259 846h1v1h-1zM1270 846h1v1h-1zM1363 846h1v1h-1zM1366 846h2v1h-2zM1390 846h1v1h-1zM68 847h2v1h-2zM188 847h1v1h-1zM270 847h1v1h-1zM310 847h1v1h-1zM324 847h2v1h-2zM576 847h1v1h-1zM584 847h1v1h-1zM1259 847h1v1h-1zM1270 847h1v1h-1zM1364 847h2v1h-2zM1391 847h1v1h-1zM67 848h1v1h-1zM271 848h1v1h-1zM309 848h1v1h-1zM324 848h1v1h-1zM577 848h1v1h-1zM583 848h1v1h-1zM1260 848h1v1h-1zM1269 848h1v1h-1zM1392 848h2v1h-2zM1403 848h3v1h-3zM67 849h1v1h-1zM272 849h1v1h-1zM292 849h1v1h-1zM309 849h1v1h-1zM578 849h1v1h-1zM582 849h1v1h-1zM1260 849h4v1h-4zM1269 849h1v1h-1zM1394 849h1v1h-1zM1400 849h3v1h-3zM1406 849h4v1h-4zM66 850h1v1h-1zM272 850h1v1h-1zM291 850h1v1h-1zM293 850h1v1h-1zM309 850h1v1h-1zM579 850h1v1h-1zM581 850h1v1h-1zM1264 850h5v1h-5zM1395 850h1v1h-1zM1398 850h2v1h-2zM1410 850h3v1h-3zM66 851h1v1h-1zM273 851h1v1h-1zM290 851h1v1h-1zM294 851h1v1h-1zM308 851h1v1h-1zM579 851h1v1h-1zM581 851h1v1h-1zM1396 851h2v1h-2zM65 852h1v1h-1zM274 852h1v1h-1zM289 852h1v1h-1zM295 852h1v1h-1zM307 852h2v1h-2zM580 852h1v1h-1zM65 853h1v1h-1zM275 853h1v1h-1zM288 853h1v1h-1zM296 853h2v1h-2zM305 853h2v1h-2zM64 854h1v1h-1zM276 854h1v1h-1zM288 854h1v1h-1zM298 854h1v1h-1zM303 854h2v1h-2zM63 855h1v1h-1zM277 855h2v1h-2zM287 855h1v1h-1zM299 855h1v1h-1zM301 855h2v1h-2zM63 856h1v1h-1zM279 856h2v1h-2zM286 856h1v1h-1zM300 856h1v1h-1zM62 857h1v1h-1zM281 857h2v1h-2zM285 857h1v1h-1zM62 858h1v1h-1zM283 858h2v1h-2zM61 859h1v1h-1zM61 860h1v1h-1zM60 861h1v1h-1zM59 862h1v1h-1zM58 863h1v1h-1zM56 864h2v1h-2zM55 865h1v1h-1zM54 866h1v1h-1zM0 867h1v1h-1zM44 867h4v1h-4zM53 867h1v1h-1zM1 868h1v1h-1zM43 868h1v1h-1zM48 868h5v1h-5zM2 869h2v1h-2zM43 869h1v1h-1zM4 870h9v1h-9zM42 870h1v1h-1zM13 871h1v1h-1zM41 871h1v1h-1zM14 872h2v1h-2zM40 872h1v1h-1zM16 873h1v1h-1zM40 873h1v1h-1zM17 874h1v1h-1zM39 874h1v1h-1zM18 875h2v1h-2zM38 875h1v1h-1zM20 876h2v1h-2zM37 876h1v1h-1zM22 877h4v1h-4zM37 877h1v1h-1zM26 878h11v1h-11z" fill="#1e90ff"/></g><text x="1" y="764" font-size="10" fill="#000" text-anchor="start" font-weight="normal" font-family='"Liberation Sans", sans-serif' textLength="67" lengthAdjust="spacingAndGlyphs" >RSI(14) 43.4596</text><rect x="1684" y="753" width="2" height="1" fill="#000"/><text x="1687" y="762" font-size="10" fill="#000" text-anchor="start" font-weight="normal" font-family='"Liberation Sans", sans-serif' textLength="14.6" lengthAdjust="spacingAndGlyphs" >100</text><rect x="1684" y="787" width="2" height="1" fill="#000"/><text x="1687" y="791" font-size="10" fill="#000" text-anchor="start" font-weight="normal" font-family='"Liberation Sans", sans-serif' textLength="9.6" lengthAdjust="spacingAndGlyphs" >80</text><rect x="1684" y="838" width="2" height="1" fill="#000"/><text x="1687" y="842" font-size="10" fill="#000" text-anchor="start" font-weight="normal" font-family='"Liberation Sans", sans-serif' textLength="9.6" lengthAdjust="spacingAndGlyphs" >50</text><rect x="1684" y="899" width="2" height="1" fill="#000"/><text x="1687" y="903" font-size="10" fill="#000" text-anchor="start" font-weight="normal" font-family='"Liberation Sans", sans-serif' textLength="9.6" lengthAdjust="spacingAndGlyphs" >15</text><rect x="1684" y="924" width="2" height="1" fill="#000"/><text x="1687" y="922" font-size="10" fill="#000" text-anchor="start" font-weight="normal" font-family='"Liberation Sans", sans-serif' textLength="5" lengthAdjust="spacingAndGlyphs" >0</text><rect x="1254" y="119" width="207" height="7" fill="#00ff00"/><polyline points="1470.95,139.36 1462.98,145.60" fill="none" stroke="#00ff00" stroke-width="1.3" stroke-linecap="square" shape-rendering="geometricPrecision"/><polyline points="1467.14,141.44 1478.58,142.48 1464.71,150.11" fill="none" stroke="#00ff00" stroke-width="1.3" stroke-linecap="square" shape-rendering="geometricPrecision"/><polyline points="1468.87,144.91 1472.68,146.99" fill="none" stroke="#00ff00" stroke-width="1.3" stroke-linecap="square" shape-rendering="geometricPrecision"/><polyline points="1472.34,147.68 1464.02,152.88" fill="none" stroke="#00ff00" stroke-width="1.3" stroke-linecap="square" shape-rendering="geometricPrecision"/><polyline points="1468.87,150.11 1479.62,150.11 1462.28,157.74" fill="none" stroke="#00ff00" stroke-width="1.3" stroke-linecap="square" shape-rendering="geometricPrecision"/><polyline points="1469.91,153.23 1474.07,155.31" fill="none" stroke="#00ff00" stroke-width="1.3" stroke-linecap="square" shape-rendering="geometricPrecision"/><polyline points="1493.14,139.36 1493.97,141.44" fill="none" stroke="#00ff00" stroke-width="1.3" stroke-linecap="square" shape-rendering="geometricPrecision"/><polyline points="1485.51,145.60 1485.51,143.52 1502.16,143.52 1501.12,145.60" fill="none" stroke="#00ff00" stroke-width="1.3" stroke-linecap="square" shape-rendering="geometricPrecision"/><polyline points="1491.06,144.91 1486.90,148.72" fill="none" stroke="#00ff00" stroke-width="1.3" stroke-linecap="square" shape-rendering="geometricPrecision"/><polyline points="1495.92,144.91 1500.08,148.03" fill="none" stroke="#00ff00" stroke-width="1.3" stroke-linecap="square" shape-rendering="geometricPrecision"/><polyline points="1487.59,149.76 1499.38,149.76" fill="none" stroke="#00ff00" stroke-width="1.3" stroke-linecap="square" shape-rendering="geometricPrecision"/><polyline points="1493.49,149.76 1493.49,156.70" fill="none" stroke="#00ff00" stroke-width="1.3" stroke-linecap="square" shape-rendering="geometricPrecision"/><polyline points="1484.47,156.70 1502.85,156.70" fill="none" stroke="#00ff00" stroke-width="1.3" stroke-linecap="square" shape-rendering="geometricPrecision"/><polyline points="1507.01,142.48 1513.60,142.14" fill="none" stroke="#00ff00" stroke-width="1.3" stroke-linecap="square" shape-rendering="geometricPrecision"/><polyline points="1510.83,139.71 1507.70,150.80" fill="none" stroke="#00ff00" stroke-width="1.3" stroke-linecap="square" shape-rendering="geometricPrecision"/><polyline points="1507.70,146.99 1513.95,146.64" fill="none" stroke="#00ff00" stroke-width="1.3" stroke-linecap="square" shape-rendering="geometricPrecision"/><polyline points="1510.83,145.95 1510.83,157.74" fill="none" stroke="#00ff00" stroke-width="1.3" stroke-linecap="square" shape-rendering="geometricPrecision"/><polyline points="1506.66,153.58 1513.95,152.54" fill="none" stroke="#00ff00" stroke-width="1.3" stroke-linecap="square" shape-rendering="geometricPrecision"/><polyline points="1514.64,142.48 1523.65,142.14" fill="none" stroke="#00ff00" stroke-width="1.3" stroke-linecap="square" shape-rendering="geometricPrecision"/><polyline points="1519.84,139.71 1516.37,150.80" fill="none" stroke="#00ff00" stroke-width="1.3" stroke-linecap="square" shape-rendering="geometricPrecision"/><polyline points="1514.64,146.99 1524.35,146.64" fill="none" stroke="#00ff00" stroke-width="1.3" stroke-linecap="square" shape-rendering="geometricPrecision"/><polyline points="1516.37,150.80 1521.92,150.80 1517.76,154.27" fill="none" stroke="#00ff00" stroke-width="1.3" stroke-linecap="square" shape-rendering="geometricPrecision"/><polyline points="1517.76,154.27 1521.92,157.39" fill="none" stroke="#00ff00" stroke-width="1.3" stroke-linecap="square" shape-rendering="geometricPrecision"/><polyline points="1528.51,144.91 1534.75,144.56" fill="none" stroke="#00ff00" stroke-width="1.3" stroke-linecap="square" shape-rendering="geometricPrecision"/><polyline points="1532.12,139.36 1532.12,157.39 1530.59,157.05" fill="none" stroke="#00ff00" stroke-width="1.3" stroke-linecap="square" shape-rendering="geometricPrecision"/><polyline points="1528.51,150.80 1534.75,148.72" fill="none" stroke="#00ff00" stroke-width="1.3" stroke-linecap="square" shape-rendering="geometricPrecision"/><polyline points="1545.50,140.06 1537.18,142.48" fill="none" stroke="#00ff00" stroke-width="1.3" stroke-linecap="square" shape-rendering="geometricPrecision"/><polyline points="1537.18,142.48 1536.83,150.80 1533.71,157.39" fill="none" stroke="#00ff00" stroke-width="1.3" stroke-linecap="square" shape-rendering="geometricPrecision"/><polyline points="1537.18,146.64 1546.89,146.30" fill="none" stroke="#00ff00" stroke-width="1.3" stroke-linecap="square" shape-rendering="geometricPrecision"/><polyline points="1542.52,146.64 1542.52,157.74" fill="none" stroke="#00ff00" stroke-width="1.3" stroke-linecap="square" shape-rendering="geometricPrecision"/><polyline points="1559.72,139.36 1559.72,147.68" fill="none" stroke="#00ff00" stroke-width="1.3" stroke-linecap="square" shape-rendering="geometricPrecision"/><polyline points="1559.72,142.83 1566.65,142.83" fill="none" stroke="#00ff00" stroke-width="1.3" stroke-linecap="square" shape-rendering="geometricPrecision"/><polyline points="1553.82,147.68 1565.61,147.68 1565.61,152.88 1553.82,152.88 1553.82,147.68" fill="none" stroke="#00ff00" stroke-width="1.3" stroke-linecap="square" shape-rendering="geometricPrecision"/><polyline points="1552.78,154.62 1551.74,157.39" fill="none" stroke="#00ff00" stroke-width="1.3" stroke-linecap="square" shape-rendering="geometricPrecision"/><polyline points="1556.60,154.27 1557.29,156.70" fill="none" stroke="#00ff00" stroke-width="1.3" stroke-linecap="square" shape-rendering="geometricPrecision"/><polyline points="1560.76,154.27 1562.14,156.70" fill="none" stroke="#00ff00" stroke-width="1.3" stroke-linecap="square" shape-rendering="geometricPrecision"/><polyline points="1565.26,154.27 1567.69,157.05" fill="none" stroke="#00ff00" stroke-width="1.3" stroke-linecap="square" shape-rendering="geometricPrecision"/><polygon points="1424,25 1433,25 1428.5,30" fill="#c0c0c0" shape-rendering="geometricPrecision"/><rect x="989.5" y="114.5" width="61" height="18" fill="#fff" stroke="#ff0000" stroke-width="1"/><rect x="1051" y="123" width="10" height="1" fill="#ff0000"/><text x="992" y="129.5" font-size="16" fill="#ff0000" text-anchor="start" font-weight="normal" font-family='"Liberation Sans", sans-serif' textLength="57" lengthAdjust="spacingAndGlyphs" >150.532</text><rect x="1157.5" y="63.5" width="61" height="18" fill="#fff" stroke="#ff0000" stroke-width="1"/><rect x="1219" y="72" width="10" height="1" fill="#ff0000"/><text x="1160" y="78.5" font-size="16" fill="#ff0000" text-anchor="start" font-weight="normal" font-family='"Liberation Sans", sans-serif' textLength="57" lengthAdjust="spacingAndGlyphs" >152.555</text><rect x="1269.5" y="42.5" width="61" height="18" fill="#fff" stroke="#ff0000" stroke-width="1"/><rect x="1331" y="51" width="10" height="1" fill="#ff0000"/><text x="1272" y="57.5" font-size="16" fill="#ff0000" text-anchor="start" font-weight="normal" font-family='"Liberation Sans", sans-serif' textLength="57" lengthAdjust="spacingAndGlyphs" >153.388</text><rect x="1197.5" y="166.5" width="61" height="18" fill="#fff" stroke="#ff0000" stroke-width="1"/><rect x="1259" y="175" width="10" height="1" fill="#ff0000"/><text x="1200" y="181.5" font-size="16" fill="#ff0000" text-anchor="start" font-weight="normal" font-family='"Liberation Sans", sans-serif' textLength="57" lengthAdjust="spacingAndGlyphs" >148.460</text><line x1="1079.3" y1="211.2" x2="1238.4" y2="79.7" stroke="#ff0000" stroke-width="3" stroke-linecap="round" shape-rendering="crispEdges"/><polygon points="1240.7,77.8 1235.3,88.5 1234.1,83.2 1229.2,81.1" fill="#ff0000" stroke="#ff0000" stroke-width="1.6" stroke-linejoin="round" shape-rendering="crispEdges"/><line x1="1240.7" y1="77.8" x2="1267.8" y2="151.5" stroke="#ff0000" stroke-width="3" stroke-linecap="round" shape-rendering="crispEdges"/><polygon points="1268.8,154.3 1260.5,145.6 1265.9,146.3 1269.5,142.3" fill="#ff0000" stroke="#ff0000" stroke-width="1.6" stroke-linejoin="round" shape-rendering="crispEdges"/><line x1="1269.6" y1="171.3" x2="1328.4" y2="63.6" stroke="#ff0000" stroke-width="3" stroke-linecap="round" shape-rendering="crispEdges"/><polygon points="1329.8,61.0 1328.7,73.0 1325.7,68.5 1320.3,68.4" fill="#ff0000" stroke="#ff0000" stroke-width="1.6" stroke-linejoin="round" shape-rendering="crispEdges"/><line x1="1329.8" y1="61.0" x2="1415.1" y2="165.1" stroke="#ff0000" stroke-width="3" stroke-linecap="round" shape-rendering="crispEdges"/><polygon points="1417.0,167.4 1406.3,161.9 1411.6,160.8 1413.7,155.8" fill="#ff0000" stroke="#ff0000" stroke-width="1.6" stroke-linejoin="round" shape-rendering="crispEdges"/><line x1="1190.7" y1="582.0" x2="1275.8" y2="649.7" stroke="#ff0000" stroke-width="3" stroke-linecap="round" shape-rendering="crispEdges"/><polygon points="1278.1,651.6 1266.5,648.5 1271.5,646.3 1272.5,641.0" fill="#ff0000" stroke="#ff0000" stroke-width="1.6" stroke-linejoin="round" shape-rendering="crispEdges"/><line x1="1278.9" y1="652.8" x2="1342.4" y2="632.3" stroke="#ff0000" stroke-width="3" stroke-linecap="round" shape-rendering="crispEdges"/><polygon points="1345.3,631.4 1336.3,639.3 1337.2,634.0 1333.4,630.2" fill="#ff0000" stroke="#ff0000" stroke-width="1.6" stroke-linejoin="round" shape-rendering="crispEdges"/><line x1="1344.5" y1="632.2" x2="1416.3" y2="675.9" stroke="#ff0000" stroke-width="3" stroke-linecap="round" shape-rendering="crispEdges"/><polygon points="1418.9,677.5 1407.0,675.9 1411.6,673.1 1412.0,667.7" fill="#ff0000" stroke="#ff0000" stroke-width="1.6" stroke-linejoin="round" shape-rendering="crispEdges"/><line x1="1191.9" y1="783.0" x2="1258.4" y2="851.1" stroke="#ff0000" stroke-width="2.6" stroke-linecap="round" shape-rendering="crispEdges"/><polygon points="1260.5,853.2 1249.4,848.7 1254.6,847.1 1256.2,842.0" fill="#ff0000" stroke="#ff0000" stroke-width="1.6" stroke-linejoin="round" shape-rendering="crispEdges"/><line x1="1263.6" y1="851.6" x2="1348.4" y2="804.7" stroke="#ff0000" stroke-width="3" stroke-linecap="round" shape-rendering="crispEdges"/><polygon points="1351.0,803.2 1343.7,812.7 1343.6,807.3 1339.1,804.3" fill="#ff0000" stroke="#ff0000" stroke-width="1.6" stroke-linejoin="round" shape-rendering="crispEdges"/><line x1="1349.5" y1="804.0" x2="1371.4" y2="842.0" stroke="#ff0000" stroke-width="3" stroke-linecap="round" shape-rendering="crispEdges"/><polygon points="1372.9,844.6 1363.2,837.5 1368.7,837.2 1371.6,832.7" fill="#ff0000" stroke="#ff0000" stroke-width="1.6" stroke-linejoin="round" shape-rendering="crispEdges"/><line x1="1372.9" y1="844.6" x2="1413.6" y2="850.1" stroke="#ff0000" stroke-width="3" stroke-linecap="round" shape-rendering="crispEdges"/><polygon points="1416.6,850.5 1405.1,853.8 1408.2,849.4 1406.3,844.3" fill="#ff0000" stroke="#ff0000" stroke-width="1.6" stroke-linejoin="round" shape-rendering="crispEdges"/><polygon points="0,35 3,31 6,35" fill="#000" shape-rendering="geometricPrecision"/><text x="11" y="36" font-size="10" fill="#000" text-anchor="start" font-weight="normal" font-family='"Liberation Sans", sans-serif' textLength="209" lengthAdjust="spacingAndGlyphs" >GBPJPY-,Daily&#160;&#160;150.004 150.185 149.669 149.875</text><defs><linearGradient id="gh" x1="0" y1="0" x2="0" y2="1"><stop offset="0" stop-color="#f95656"/><stop offset="1" stop-color="#dd3030"/></linearGradient><linearGradient id="gb" x1="0" y1="0" x2="0" y2="1"><stop offset="0" stop-color="#e23434"/><stop offset="1" stop-color="#b40404"/></linearGradient><linearGradient id="gbtn" x1="0" y1="0" x2="0" y2="1"><stop offset="0" stop-color="#f2f2f2"/><stop offset="0.5" stop-color="#e4e4e4"/><stop offset="1" stop-color="#d4d4d4"/></linearGradient></defs><rect x="0" y="42" width="220" height="68" fill="#ffffff"/><rect x="0" y="44" width="51" height="24" fill="url(#gh)"/><rect x="0" y="44" width="51" height="1" fill="#c00000"/><rect x="50" y="44" width="1" height="24" fill="#c00000"/><rect x="0" y="68" width="108" height="40" fill="url(#gb)"/><rect x="0" y="107" width="108" height="1" fill="#a00000"/><rect x="107" y="68" width="1" height="40" fill="#a00000"/><rect x="166" y="44" width="52" height="24" fill="url(#gh)"/><rect x="166" y="44" width="52" height="1" fill="#c00000"/><rect x="166" y="44" width="1" height="24" fill="#c00000"/><rect x="217" y="44" width="1" height="64" fill="#c00000"/><rect x="110" y="68" width="108" height="40" fill="url(#gb)"/><rect x="110" y="68" width="1" height="40" fill="#a00000"/><rect x="110" y="107" width="108" height="1" fill="#a00000"/><rect x="51" y="68" width="115" height="1" fill="#c00000"/><rect x="3" y="67" width="44" height="1" fill="#8a0000"/><rect x="3" y="68" width="44" height="1" fill="#f06a6a"/><rect x="170" y="67" width="44" height="1" fill="#8a0000"/><rect x="170" y="68" width="44" height="1" fill="#f06a6a"/><rect x="51" y="44" width="115" height="24" fill="#ffffff"/><rect x="53.5" y="44.5" width="110" height="21" fill="#fff" stroke="#a8abb0"/><rect x="54" y="45" width="20" height="20" fill="url(#gbtn)"/><rect x="74" y="45" width="1" height="20" fill="#a8abb0"/><rect x="143" y="45" width="20" height="20" fill="url(#gbtn)"/><rect x="142" y="45" width="1" height="20" fill="#a8abb0"/><polygon points="61,53 66,53 63.5,56" fill="#3050c0"/><polygon points="150,56 155,56 152.5,53" fill="#3050c0"/><text x="139" y="59" font-size="12" fill="#000" text-anchor="end" font-weight="normal" font-family='"Liberation Sans", sans-serif' >1.00</text><rect x="51" y="68" width="115" height="1" fill="#ffffff"/><rect x="51" y="68" width="57" height="1" fill="#c82020"/><rect x="110" y="68" width="56" height="1" fill="#c82020"/><text x="11" y="60" font-size="11" fill="#fff" text-anchor="start" font-weight="normal" font-family='"Liberation Sans", sans-serif' textLength="26" lengthAdjust="spacingAndGlyphs" >SELL</text><text x="180" y="60" font-size="11" fill="#fff" text-anchor="start" font-weight="normal" font-family='"Liberation Sans", sans-serif' textLength="23" lengthAdjust="spacingAndGlyphs" >BUY</text><text x="22" y="99" font-size="12" fill="#fff" text-anchor="start" font-weight="bold" font-family='"Liberation Sans", sans-serif' textLength="20.5" lengthAdjust="spacingAndGlyphs" >149</text><text x="47" y="99" font-size="35" fill="#fff" text-anchor="start" font-weight="normal" font-family='"Liberation Serif", serif' textLength="33.5" lengthAdjust="spacingAndGlyphs" >87</text><text x="86.5" y="83" font-size="12" fill="#fff" text-anchor="start" font-weight="bold" font-family='"Liberation Sans", sans-serif' >5</text><text x="132" y="99" font-size="12" fill="#fff" text-anchor="start" font-weight="bold" font-family='"Liberation Sans", sans-serif' textLength="20.5" lengthAdjust="spacingAndGlyphs" >150</text><text x="158" y="99" font-size="35" fill="#fff" text-anchor="start" font-weight="normal" font-family='"Liberation Serif", serif' textLength="34" lengthAdjust="spacingAndGlyphs" >06</text><text x="197" y="83" font-size="12" fill="#fff" text-anchor="start" font-weight="bold" font-family='"Liberation Sans", sans-serif' >8</text><g><rect x="0" y="0" width="1730" height="20" fill="#f0f0f0"/><rect x="0" y="20" width="1730" height="1" fill="#a8a8a8"/><rect x="0" y="21" width="1730" height="1" fill="#707070"/><rect x="-5.5" y="1.5" width="11" height="13" fill="#fff" stroke="#3c7dd0"/><line x1="-4" y1="5.5" x2="5" y2="5.5" stroke="#9cc0f0"/><line x1="-4" y1="8.5" x2="5" y2="8.5" stroke="#9cc0f0"/><line x1="-4" y1="11.5" x2="5" y2="11.5" stroke="#9cc0f0"/><rect x="19.5" y="0.5" width="11" height="13" fill="#fff" stroke="#999"/><circle cx="27" cy="8" r="4.5" fill="#d8e8f8" stroke="#6a9ad8" stroke-width="1.2" shape-rendering="geometricPrecision"/><line x1="30" y1="11" x2="36" y2="17" stroke="#c89a20" stroke-width="2" shape-rendering="geometricPrecision"/><rect x="44" y="1" width="1" height="17" fill="#a0a0a0"/><rect x="45" y="1" width="1" height="17" fill="#ffffff"/><rect x="54.5" y="0.5" width="10" height="13" fill="#fff" stroke="#666"/><line x1="56" y1="3.5" x2="60" y2="3.5" stroke="#888"/><line x1="56" y1="6.5" x2="61" y2="6.5" stroke="#888"/><path d="M58.5 10.5h4v-4h3v4h4v3h-4v4h-3v-4h-4z" fill="#22c422" stroke="#138a13" stroke-width="0.8" shape-rendering="geometricPrecision"/><line x1="76.5" y1="1.5" x2="76.5" y2="2.5" stroke="#1a1a1a" stroke-width="1"/><line x1="73.5" y1="3.5" x2="78.5" y2="3.5" stroke="#1a1a1a" stroke-width="1"/><line x1="74.5" y1="4.5" x2="74.5" y2="5.5" stroke="#1a1a1a" stroke-width="1"/><line x1="77.5" y1="4.5" x2="77.5" y2="5.5" stroke="#1a1a1a" stroke-width="1"/><line x1="73.5" y1="6.5" x2="78.5" y2="6.5" stroke="#1a1a1a" stroke-width="1"/><line x1="75.5" y1="6.5" x2="75.5" y2="11.5" stroke="#1a1a1a" stroke-width="1"/><line x1="73.5" y1="8.5" x2="78.5" y2="8.5" stroke="#1a1a1a" stroke-width="1"/><line x1="74.5" y1="9.5" x2="73.5" y2="11.5" stroke="#1a1a1a" stroke-width="1"/><line x1="76.5" y1="9.5" x2="78.5" y2="11.5" stroke="#1a1a1a" stroke-width="1"/><line x1="80.5" y1="2.5" x2="83.5" y2="1.5" stroke="#1a1a1a" stroke-width="1"/><line x1="80.5" y1="2.5" x2="80.5" y2="11.5" stroke="#1a1a1a" stroke-width="1"/><line x1="80.5" y1="5.5" x2="84.5" y2="5.5" stroke="#1a1a1a" stroke-width="1"/><line x1="82.5" y1="5.5" x2="82.5" y2="11.5" stroke="#1a1a1a" stroke-width="1"/><line x1="86.5" y1="2.5" x2="87.5" y2="3.5" stroke="#1a1a1a" stroke-width="1"/><line x1="86.5" y1="5.5" x2="87.5" y2="5.5" stroke="#1a1a1a" stroke-width="1"/><line x1="87.5" y1="5.5" x2="87.5" y2="10.5" stroke="#1a1a1a" stroke-width="1"/><line x1="87.5" y1="10.5" x2="88.5" y2="9.5" stroke="#1a1a1a" stroke-width="1"/><line x1="90.5" y1="2.5" x2="96.5" y2="2.5" stroke="#1a1a1a" stroke-width="1"/><line x1="93.5" y1="2.5" x2="93.5" y2="11.5" stroke="#1a1a1a" stroke-width="1"/><line x1="93.5" y1="11.5" x2="91.5" y2="11.5" stroke="#1a1a1a" stroke-width="1"/><line x1="100.5" y1="1.5" x2="101.5" y2="2.5" stroke="#1a1a1a" stroke-width="1"/><line x1="106.5" y1="1.5" x2="105.5" y2="2.5" stroke="#1a1a1a" stroke-width="1"/><line x1="99.5" y1="3.5" x2="107.5" y2="3.5" stroke="#1a1a1a" stroke-width="1"/><line x1="99.5" y1="3.5" x2="99.5" y2="8.5" stroke="#1a1a1a" stroke-width="1"/><line x1="107.5" y1="3.5" x2="107.5" y2="8.5" stroke="#1a1a1a" stroke-width="1"/><line x1="99.5" y1="5.5" x2="107.5" y2="5.5" stroke="#1a1a1a" stroke-width="1"/><line x1="99.5" y1="7.5" x2="107.5" y2="7.5" stroke="#1a1a1a" stroke-width="1"/><line x1="98.5" y1="9.5" x2="108.5" y2="9.5" stroke="#1a1a1a" stroke-width="1"/><line x1="103.5" y1="3.5" x2="103.5" y2="11.5" stroke="#1a1a1a" stroke-width="1"/><line x1="230.5" y1="1.5" x2="229.5" y2="2.5" stroke="#1a1a1a" stroke-width="1"/><line x1="227.5" y1="3.5" x2="234.5" y2="3.5" stroke="#1a1a1a" stroke-width="1"/><line x1="227.5" y1="3.5" x2="227.5" y2="11.5" stroke="#1a1a1a" stroke-width="1"/><line x1="234.5" y1="3.5" x2="234.5" y2="11.5" stroke="#1a1a1a" stroke-width="1"/><line x1="227.5" y1="5.5" x2="234.5" y2="5.5" stroke="#1a1a1a" stroke-width="1"/><line x1="227.5" y1="7.5" x2="234.5" y2="7.5" stroke="#1a1a1a" stroke-width="1"/><line x1="227.5" y1="9.5" x2="234.5" y2="9.5" stroke="#1a1a1a" stroke-width="1"/><line x1="227.5" y1="11.5" x2="234.5" y2="11.5" stroke="#1a1a1a" stroke-width="1"/><line x1="238.5" y1="2.5" x2="243.5" y2="2.5" stroke="#1a1a1a" stroke-width="1"/><line x1="238.5" y1="5.5" x2="243.5" y2="5.5" stroke="#1a1a1a" stroke-width="1"/><line x1="240.5" y1="5.5" x2="238.5" y2="10.5" stroke="#1a1a1a" stroke-width="1"/><line x1="238.5" y1="10.5" x2="243.5" y2="9.5" stroke="#1a1a1a" stroke-width="1"/><line x1="242.5" y1="8.5" x2="243.5" y2="10.5" stroke="#1a1a1a" stroke-width="1"/><line x1="246.5" y1="1.5" x2="246.5" y2="5.5" stroke="#1a1a1a" stroke-width="1"/><line x1="244.5" y1="4.5" x2="249.5" y2="4.5" stroke="#1a1a1a" stroke-width="1"/><line x1="249.5" y1="4.5" x2="249.5" y2="11.5" stroke="#1a1a1a" stroke-width="1"/><line x1="249.5" y1="11.5" x2="248.5" y2="11.5" stroke="#1a1a1a" stroke-width="1"/><line x1="246.5" y1="5.5" x2="245.5" y2="11.5" stroke="#1a1a1a" stroke-width="1"/><line x1="255.5" y1="1.5" x2="256.5" y2="2.5" stroke="#1a1a1a" stroke-width="1"/><line x1="250.5" y1="3.5" x2="261.5" y2="3.5" stroke="#1a1a1a" stroke-width="1"/><line x1="253.5" y1="5.5" x2="251.5" y2="7.5" stroke="#1a1a1a" stroke-width="1"/><line x1="258.5" y1="5.5" x2="260.5" y2="7.5" stroke="#1a1a1a" stroke-width="1"/><line x1="253.5" y1="7.5" x2="259.5" y2="11.5" stroke="#1a1a1a" stroke-width="1"/><line x1="258.5" y1="7.5" x2="252.5" y2="11.5" stroke="#1a1a1a" stroke-width="1"/><line x1="264.5" y1="1.5" x2="271.5" y2="1.5" stroke="#1a1a1a" stroke-width="1"/><line x1="264.5" y1="1.5" x2="264.5" y2="6.5" stroke="#1a1a1a" stroke-width="1"/><line x1="271.5" y1="1.5" x2="271.5" y2="6.5" stroke="#1a1a1a" stroke-width="1"/><line x1="264.5" y1="3.5" x2="271.5" y2="3.5" stroke="#1a1a1a" stroke-width="1"/><line x1="264.5" y1="6.5" x2="271.5" y2="6.5" stroke="#1a1a1a" stroke-width="1"/><line x1="265.5" y1="6.5" x2="262.5" y2="9.5" stroke="#1a1a1a" stroke-width="1"/><line x1="264.5" y1="8.5" x2="272.5" y2="8.5" stroke="#1a1a1a" stroke-width="1"/><line x1="272.5" y1="8.5" x2="271.5" y2="11.5" stroke="#1a1a1a" stroke-width="1"/><line x1="266.5" y1="8.5" x2="264.5" y2="11.5" stroke="#1a1a1a" stroke-width="1"/><line x1="268.5" y1="8.5" x2="266.5" y2="11.5" stroke="#1a1a1a" stroke-width="1"/><line x1="270.5" y1="8.5" x2="268.5" y2="11.5" stroke="#1a1a1a" stroke-width="1"/><g shape-rendering="geometricPrecision"><polygon points="121,9.5 127,1.5 137,7.5 131,15.5" fill="#e6b820" stroke="#9a6a10" stroke-width="1"/><polygon points="122,10 131,15.5 132,14 124,9" fill="#c89018"/><line x1="131" y1="15.5" x2="137" y2="8" stroke="#8a5a08" stroke-width="1.3"/></g><g shape-rendering="geometricPrecision"><rect x="151.5" y="0" width="9" height="10" fill="#1e98f0" stroke="#1070c8" stroke-width="0.8"/><rect x="156" y="3.5" width="4" height="1.5" fill="#fff"/><rect x="156" y="6" width="4" height="1" fill="#d0e8ff"/><path d="M150.5 15.5 Q149.5 12 152.5 11.5 Q153.5 8.5 157 9 Q159.5 7.5 161.5 10 Q165 10 164.5 13 Q165 15.5 163 15.5 Z" fill="#e6ebf4" stroke="#5a70a0" stroke-width="0.9"/></g><g fill="none" shape-rendering="geometricPrecision"><path d="M185 1 A7 7 0 0 0 185 15" stroke="#7aa8e8" stroke-width="1.2"/><path d="M185 1 A7 7 0 0 1 185 15" stroke="#8cc890" stroke-width="1.4"/><path d="M185 3.5 A4.5 4.5 0 0 0 185 12.5" stroke="#4a80d8" stroke-width="1.1"/><path d="M185 3.5 A4.5 4.5 0 0 1 185 12.5" stroke="#6ab870" stroke-width="1.2"/><circle cx="185" cy="8" r="1.6" fill="#2050c0" stroke="none"/><path d="M185.2 8 V16" stroke="#20a020" stroke-width="1.3"/></g><g shape-rendering="geometricPrecision"><polygon points="205,6 220,6 216,15 211,15" fill="#f2d048" stroke="#d0a830" stroke-width="0.6"/><ellipse cx="212.5" cy="4.5" rx="8" ry="2.6" fill="#58a8e0"/><ellipse cx="212.5" cy="2.5" rx="3.5" ry="2.5" fill="#78c0f0"/><circle cx="216.5" cy="12" r="4" fill="#d02818"/><rect x="215" y="10.5" width="3" height="3" fill="#fff"/></g><rect x="280" y="1" width="1" height="17" fill="#a0a0a0"/><rect x="281" y="1" width="1" height="17" fill="#ffffff"/><rect x="284" y="2" width="4" height="1" fill="#9a9a9a"/><rect x="284" y="4" width="4" height="1" fill="#9a9a9a"/><rect x="284" y="6" width="4" height="1" fill="#9a9a9a"/><rect x="284" y="8" width="4" height="1" fill="#9a9a9a"/><rect x="284" y="10" width="4" height="1" fill="#9a9a9a"/><rect x="284" y="12" width="4" height="1" fill="#9a9a9a"/><rect x="284" y="14" width="4" height="1" fill="#9a9a9a"/><rect x="284" y="16" width="4" height="1" fill="#9a9a9a"/><g stroke="#555" stroke-width="1" fill="none"><line x1="298.5" y1="2" x2="298.5" y2="16"/><line x1="296" y1="13.5" x2="310" y2="13.5"/><line x1="297" y1="4" x2="300" y2="4"/><line x1="308.5" y1="12" x2="308.5" y2="15"/></g><path d="M304.5 4 V12 M302 11.5 H304.5 M304.5 5.5 H307" stroke="#20a020" stroke-width="1.5" fill="none"/><rect x="318" y="1" width="1" height="17" fill="#a0a0a0"/><rect x="319" y="1" width="1" height="17" fill="#ffffff"/><rect x="320" y="0" width="24" height="19" fill="#f7f7f7"/><g stroke="#555" stroke-width="1" fill="none"><line x1="326.5" y1="2" x2="326.5" y2="16"/><line x1="324" y1="13.5" x2="338" y2="13.5"/><line x1="325" y1="4" x2="328" y2="4"/><line x1="336.5" y1="12" x2="336.5" y2="15"/></g><rect x="330" y="4" width="4" height="6" fill="#40d040" stroke="#208020"/><line x1="332" y1="1" x2="332" y2="12" stroke="#208020"/><g stroke="#555" stroke-width="1" fill="none"><line x1="354.5" y1="2" x2="354.5" y2="16"/><line x1="352" y1="13.5" x2="366" y2="13.5"/><line x1="353" y1="4" x2="356" y2="4"/><line x1="364.5" y1="12" x2="364.5" y2="15"/></g><path d="M355 11 Q360 3 366 8" stroke="#30a030" stroke-width="1.3" fill="none" shape-rendering="geometricPrecision"/><rect x="375" y="1" width="1" height="17" fill="#a0a0a0"/><rect x="376" y="1" width="1" height="17" fill="#ffffff"/><circle cx="390" cy="6" r="5" fill="#dcecff" stroke="#3a78c8" stroke-width="1.5" shape-rendering="geometricPrecision"/><line x1="393.5" y1="9.5" x2="398" y2="14.5" stroke="#c8a020" stroke-width="2.5" shape-rendering="geometricPrecision"/><rect x="387" y="5" width="6" height="2" fill="#3a78c8"/><rect x="389" y="3" width="2" height="6" fill="#3a78c8"/><circle cx="418" cy="6" r="5" fill="#dcecff" stroke="#3a78c8" stroke-width="1.5" shape-rendering="geometricPrecision"/><line x1="421.5" y1="9.5" x2="426" y2="14.5" stroke="#c8a020" stroke-width="2.5" shape-rendering="geometricPrecision"/><rect x="415" y="5" width="6" height="2" fill="#3a78c8"/><rect x="440" y="1" width="7" height="7" fill="#30a030"/><rect x="448" y="1" width="7" height="7" fill="#2a60d0"/><rect x="440" y="9" width="7" height="7" fill="#2a60d0"/><rect x="448" y="9" width="7" height="7" fill="#30a030"/><rect x="441" y="4" width="5" height="2" fill="#fff"/><rect x="449" y="4" width="5" height="2" fill="#fff"/><rect x="441" y="12" width="5" height="2" fill="#fff"/><rect x="449" y="12" width="5" height="2" fill="#fff"/><rect x="465" y="1" width="1" height="17" fill="#a0a0a0"/><rect x="466" y="1" width="1" height="17" fill="#ffffff"/><rect x="471" y="0" width="24" height="19" fill="#f7f7f7"/><g stroke="#555" stroke-width="1" fill="none"><line x1="478.5" y1="2" x2="478.5" y2="16"/><line x1="476" y1="13.5" x2="490" y2="13.5"/><line x1="477" y1="4" x2="480" y2="4"/><line x1="488.5" y1="12" x2="488.5" y2="15"/></g><polygon points="483,4 483,10 487,7" fill="#20b020"/><rect x="498" y="1" width="1" height="17" fill="#a0a0a0"/><rect x="499" y="1" width="1" height="17" fill="#ffffff"/><rect x="499" y="0" width="24" height="19" fill="#f7f7f7"/><g stroke="#555" stroke-width="1" fill="none"><line x1="506.5" y1="2" x2="506.5" y2="16"/><line x1="504" y1="13.5" x2="518" y2="13.5"/><line x1="505" y1="4" x2="508" y2="4"/><line x1="516.5" y1="12" x2="516.5" y2="15"/></g><line x1="512.5" y1="2" x2="512.5" y2="12" stroke="#2060c0"/><polygon points="514,7 518,5 518,9" fill="#e04020"/><rect x="527" y="1" width="1" height="17" fill="#a0a0a0"/><rect x="528" y="1" width="1" height="17" fill="#ffffff"/><rect x="537.5" y="0.5" width="10" height="13" fill="#fff" stroke="#666"/><line x1="539" y1="3.5" x2="543" y2="3.5" stroke="#888"/><line x1="539" y1="6.5" x2="544" y2="6.5" stroke="#888"/><path d="M541.5 10.5h4v-4h3v4h4v3h-4v4h-3v-4h-4z" fill="#22c422" stroke="#138a13" stroke-width="0.8" shape-rendering="geometricPrecision"/><polygon points="559,7 565,7 562,10" fill="#000"/><circle cx="583" cy="8" r="7.5" fill="#2a70d0" shape-rendering="geometricPrecision"/><circle cx="583" cy="8" r="5.5" fill="#f4f8ff" shape-rendering="geometricPrecision"/><path d="M583 4.5 V8.5 H586" stroke="#333" fill="none"/><polygon points="598,7 604,7 601,10" fill="#000"/><rect x="614.5" y="1.5" width="15" height="13" fill="#fff" stroke="#2a60c0"/><rect x="615" y="2" width="14" height="2" fill="#4a80d8"/><path d="M616 8 L619 7 L622 8 L625 6 L628 7" stroke="#b02020" fill="none"/><path d="M616 12 L619 11 L622 12 L625 10 L628 11" stroke="#20a020" fill="none"/><polygon points="637,7 643,7 640,10" fill="#000"/><rect x="651" y="2" width="4" height="1" fill="#9a9a9a"/><rect x="651" y="4" width="4" height="1" fill="#9a9a9a"/><rect x="651" y="6" width="4" height="1" fill="#9a9a9a"/><rect x="651" y="8" width="4" height="1" fill="#9a9a9a"/><rect x="651" y="10" width="4" height="1" fill="#9a9a9a"/><rect x="651" y="12" width="4" height="1" fill="#9a9a9a"/><rect x="651" y="14" width="4" height="1" fill="#9a9a9a"/><rect x="651" y="16" width="4" height="1" fill="#9a9a9a"/><rect x="658" y="1" width="1" height="17" fill="#a0a0a0"/><rect x="659" y="1" width="1" height="17" fill="#ffffff"/><rect x="660" y="0" width="24" height="19" fill="#f7f7f7"/><polygon points="667,2 667,13 669.5,10.5 672,15 674,14 671.5,9.5 675,9" fill="#222"/><path d="M690 8.5 H706 M698.5 1 V16" stroke="#666" fill="none"/><rect x="715" y="1" width="1" height="17" fill="#a0a0a0"/><rect x="716" y="1" width="1" height="17" fill="#ffffff"/><line x1="732.5" y1="2" x2="732.5" y2="15" stroke="#555"/><line x1="755" y1="8.5" x2="767" y2="8.5" stroke="#555"/><line x1="783" y1="15" x2="795" y2="3" stroke="#555" shape-rendering="geometricPrecision"/><path d="M808 12 L820 2 M810 15 L822 5 M811 6 v5 M814 4 v5 M817 2 v6" stroke="#555" fill="none" shape-rendering="geometricPrecision"/><text x="820" y="17" font-size="7" font-weight="bold" fill="#555" font-family='"Liberation Sans", sans-serif'>E</text><path d="M838 2.5 H850 M838 6.5 H850 M838 10.5 H850 M838 13.5 H846" stroke="#777" stroke-dasharray="1,1" fill="none"/><text x="847" y="17" font-size="7" font-weight="bold" fill="#555" font-family='"Liberation Sans", sans-serif'>F</text><text x="868" y="13" font-size="12" font-weight="bold" fill="#555" font-family='"Liberation Sans", sans-serif'>A</text><rect x="894.5" y="1.5" width="12" height="13" fill="none" stroke="#777" stroke-dasharray="1,1"/><text x="897" y="13" font-size="11" font-weight="bold" fill="#555" font-family='"Liberation Sans", sans-serif'>T</text><g shape-rendering="geometricPrecision"><polygon points="922,4.6 925,1.6 928,4.6 925,7" fill="#444"/><path d="M923.5 8.5 L926.5 11.5 L931 6" stroke="#444" stroke-width="1.4" fill="none"/><polygon points="930,12 933,9 936,12 933,15" fill="#444"/></g><polygon points="943,7 949,7 946,10" fill="#000"/><rect x="955" y="1" width="1" height="17" fill="#a0a0a0"/><rect x="956" y="1" width="1" height="17" fill="#ffffff"/><rect x="958" y="2" width="4" height="1" fill="#9a9a9a"/><rect x="958" y="4" width="4" height="1" fill="#9a9a9a"/><rect x="958" y="6" width="4" height="1" fill="#9a9a9a"/><rect x="958" y="8" width="4" height="1" fill="#9a9a9a"/><rect x="958" y="10" width="4" height="1" fill="#9a9a9a"/><rect x="958" y="12" width="4" height="1" fill="#9a9a9a"/><rect x="958" y="14" width="4" height="1" fill="#9a9a9a"/><rect x="958" y="16" width="4" height="1" fill="#9a9a9a"/><text x="968" y="12" font-size="10" fill="#4a4a4a" font-family='"Liberation Sans", sans-serif' textLength="14" lengthAdjust="spacingAndGlyphs">M1</text><text x="997" y="12" font-size="10" fill="#4a4a4a" font-family='"Liberation Sans", sans-serif' textLength="14" lengthAdjust="spacingAndGlyphs">M5</text><text x="1023" y="12" font-size="10" fill="#4a4a4a" font-family='"Liberation Sans", sans-serif' textLength="18" lengthAdjust="spacingAndGlyphs">M15</text><text x="1051" y="12" font-size="10" fill="#4a4a4a" font-family='"Liberation Sans", sans-serif' textLength="18" lengthAdjust="spacingAndGlyphs">M30</text><text x="1083" y="12" font-size="10" fill="#4a4a4a" font-family='"Liberation Sans", sans-serif' textLength="11.5" lengthAdjust="spacingAndGlyphs">H1</text><text x="1109" y="12" font-size="10" fill="#4a4a4a" font-family='"Liberation Sans", sans-serif' textLength="13" lengthAdjust="spacingAndGlyphs">H4</text><rect x="1132" y="1" width="1" height="17" fill="#a0a0a0"/><rect x="1133" y="1" width="1" height="17" fill="#ffffff"/><rect x="1134" y="0" width="23" height="19" fill="#f7f7f7"/><text x="1138" y="12" font-size="10" fill="#4a4a4a" font-family='"Liberation Sans", sans-serif' textLength="12" lengthAdjust="spacingAndGlyphs">D1</text><text x="1166" y="12" font-size="10" fill="#4a4a4a" font-family='"Liberation Sans", sans-serif' textLength="14.5" lengthAdjust="spacingAndGlyphs">W1</text><text x="1192" y="12" font-size="10" fill="#4a4a4a" font-family='"Liberation Sans", sans-serif' textLength="15" lengthAdjust="spacingAndGlyphs">MN</text><rect x="1215" y="1" width="1" height="17" fill="#a0a0a0"/><rect x="1216" y="1" width="1" height="17" fill="#ffffff"/><circle cx="1686" cy="5.5" r="4" fill="none" stroke="#2a60c8" stroke-width="1.5" shape-rendering="geometricPrecision"/><line x1="1683" y1="8.5" x2="1678.5" y2="13" stroke="#2a60c8" stroke-width="2.5" shape-rendering="geometricPrecision"/><ellipse cx="1708" cy="11" rx="6" ry="5" fill="#e0e0e0" stroke="#b8b8b8" shape-rendering="geometricPrecision"/><circle cx="1716.5" cy="6" r="7.5" fill="#d83020" shape-rendering="geometricPrecision"/><text x="1713.5" y="10.5" font-size="11" fill="#fff" font-family='"Liberation Sans", sans-serif'>1</text></g></svg>
</body></html>
